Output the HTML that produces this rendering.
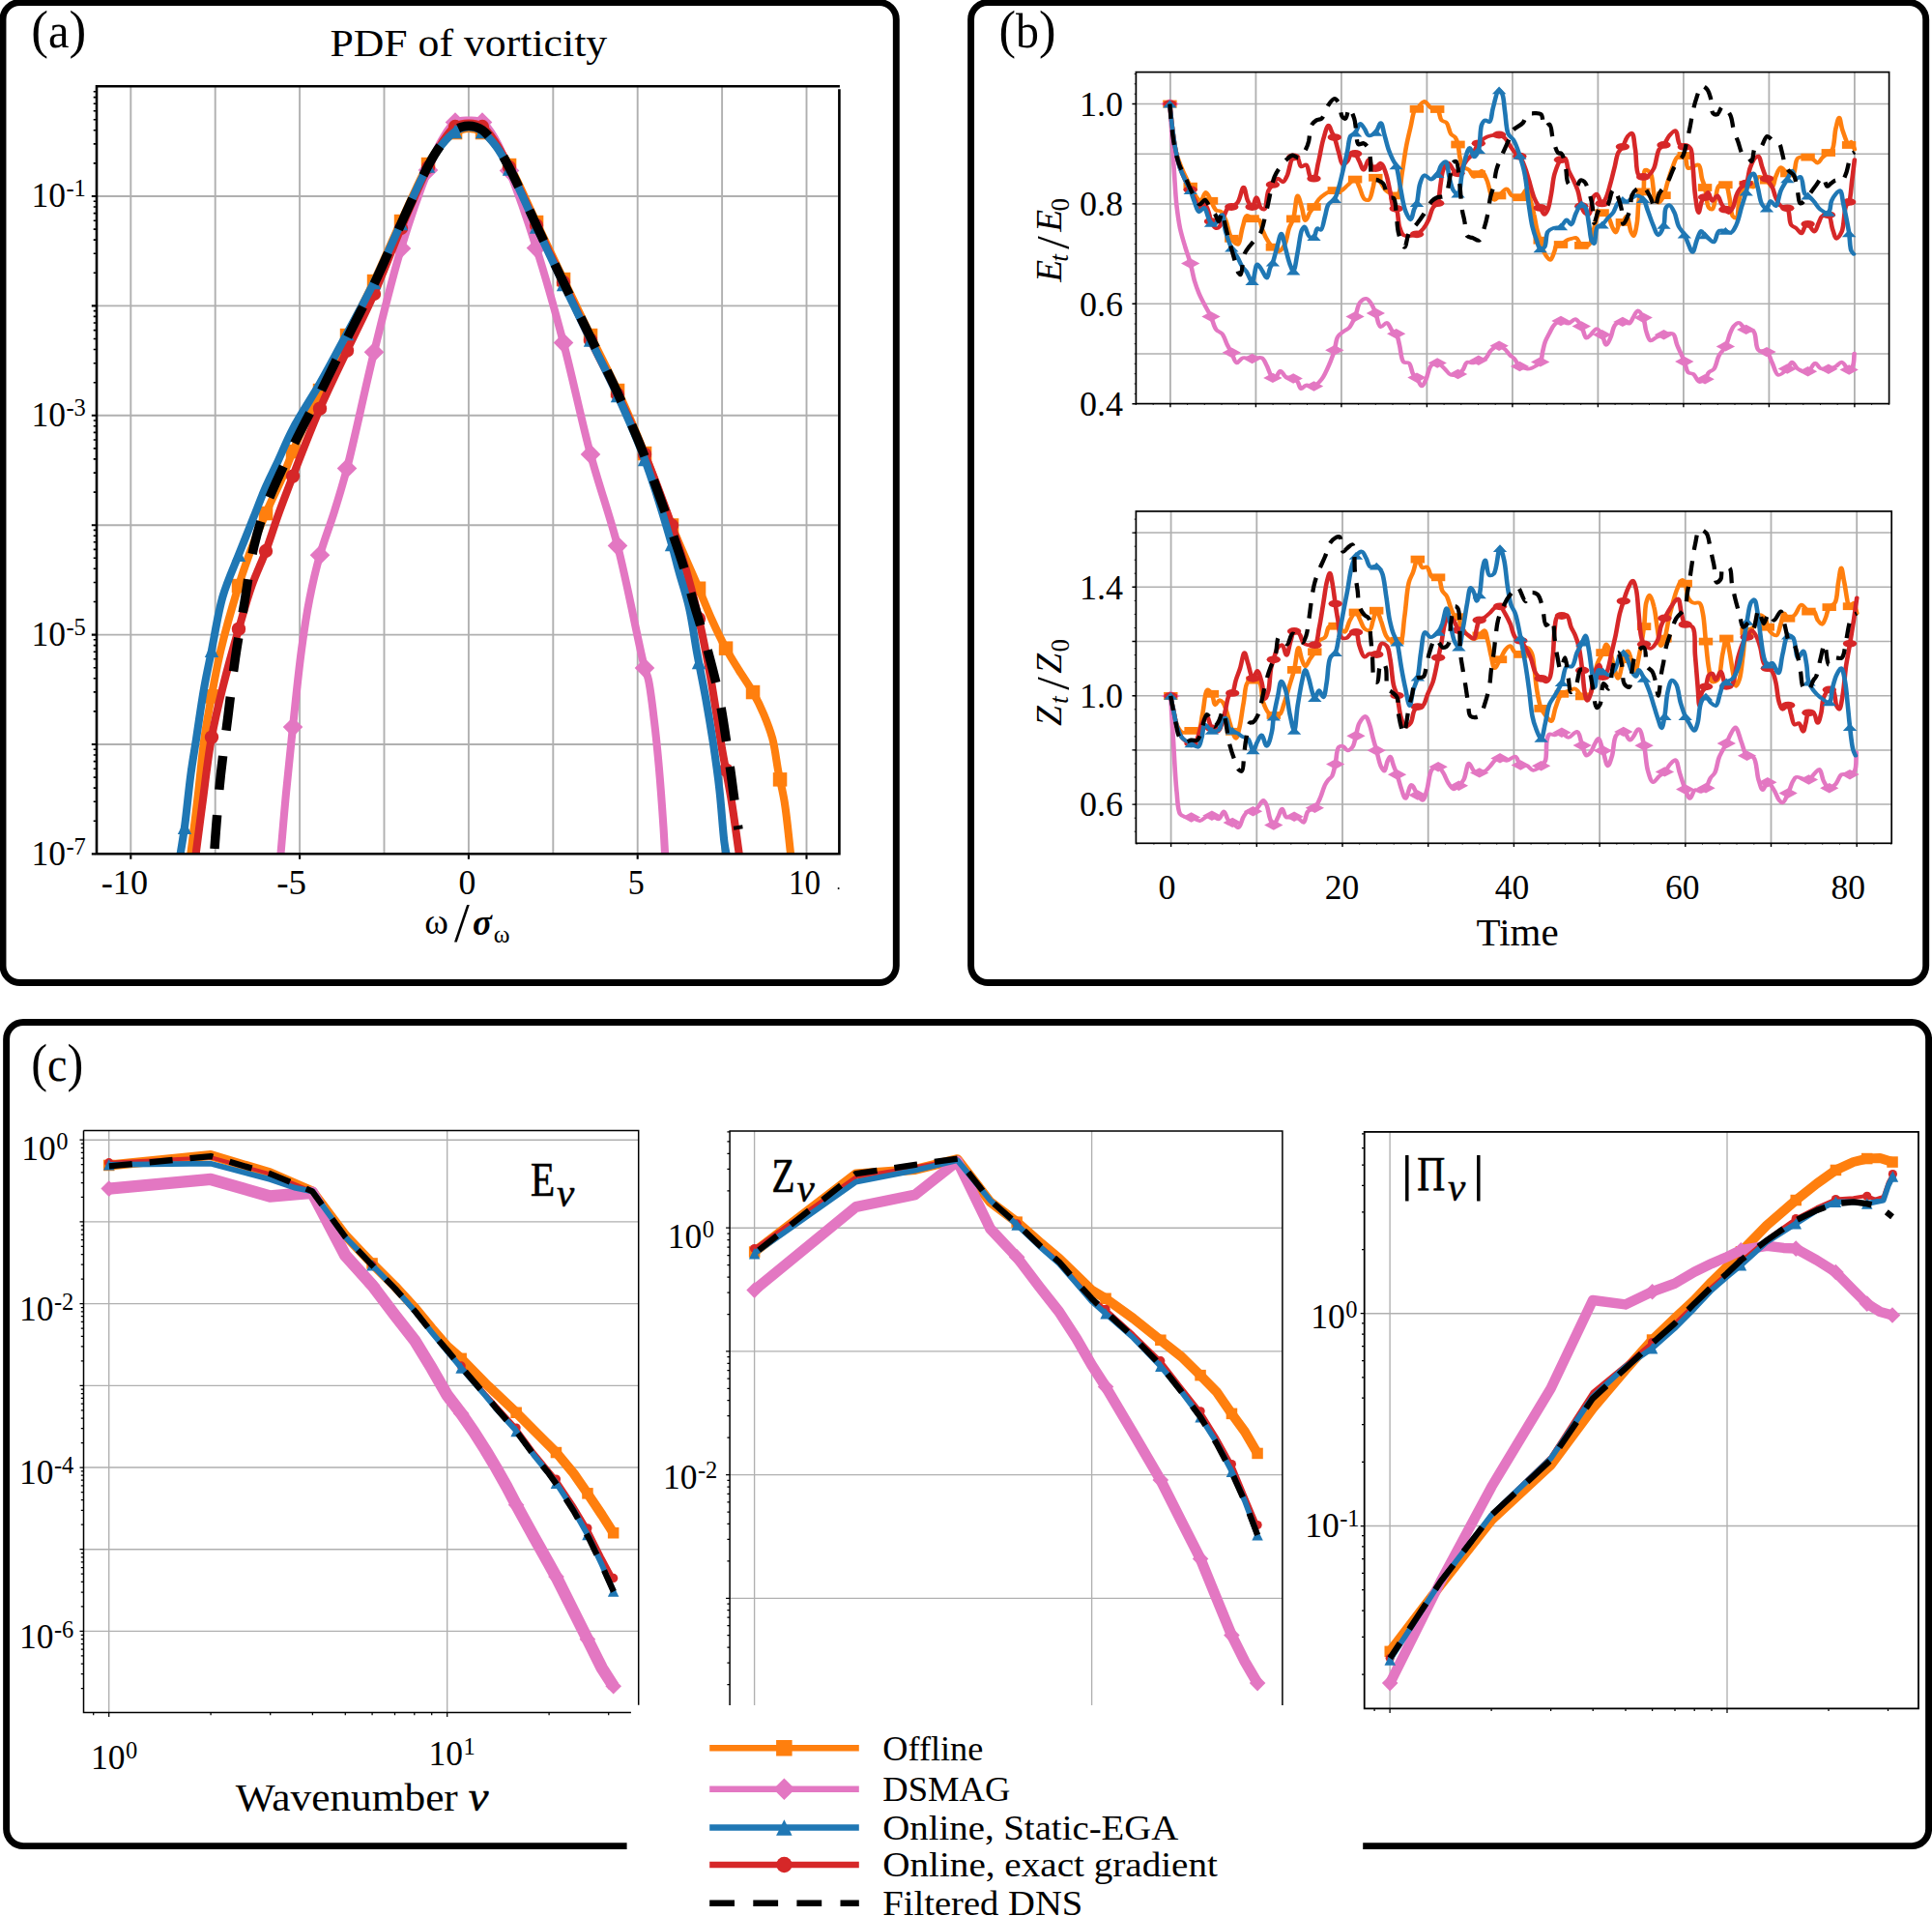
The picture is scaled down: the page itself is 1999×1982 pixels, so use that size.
<!DOCTYPE html>
<html lang="en"><head><meta charset="utf-8"><title>Figure</title>
<style>html,body{margin:0;padding:0;background:#fff}svg{display:block}text{font-family:'Liberation Serif','DejaVu Serif',serif;fill:#000}</style></head><body>
<svg width="1999" height="1982" viewBox="0 0 1999 1982">
<rect width="1999" height="1982" fill="#fff"/>
<rect x="3" y="2.5" width="924.3" height="1014" rx="17.5" ry="17.5" fill="none" stroke="#000" stroke-width="6.9"/>
<rect x="1004.6" y="2.5" width="988.1" height="1014" rx="17.5" ry="17.5" fill="none" stroke="#000" stroke-width="6.9"/>
<path d="M648.6 1909.6 H24.1 A17.5 17.5 0 0 1 6.6 1892.1 V1075 A17.5 17.5 0 0 1 24.1 1057.5 H1978.1 A17.5 17.5 0 0 1 1995.6 1075 V1892.1 A17.5 17.5 0 0 1 1978.1 1909.6 H1410.2" fill="none" stroke="#000" stroke-width="6.9"/>
<g id="panel-a">
<clipPath id="clipA"><rect x="100" y="89.3" width="768.4" height="793.9"/></clipPath>
<path d="M135.3 89.3 V883.2 M222.7 89.3 V883.2 M310.1 89.3 V883.2 M397.5 89.3 V883.2 M484.9 89.3 V883.2 M572.3 89.3 V883.2 M659.7 89.3 V883.2 M747.1 89.3 V883.2 M834.5 89.3 V883.2 M100 203 H866.9 M100 316.4 H866.9 M100 429.8 H866.9 M100 543.2 H866.9 M100 656.6 H866.9 M100 770 H866.9 M100 883.4 H866.9" stroke="#b0b0b0" stroke-width="1.9" fill="none"/>
<g clip-path="url(#clipA)" fill="none" stroke-linejoin="round" stroke-linecap="butt">
<path d="M196.5 890 C196.8 887.7 197 886.5 197.4 883 C198.7 872.7 202.6 842 204.9 822 C207.2 802.6 209 780.9 211.3 764.6 C213 752.3 214.4 744.8 216.6 732.5 C219.7 715.6 223.7 692.7 228.4 672.6 C233.3 652 240 628.7 245.5 610.5 C249.9 596.1 253.7 584.9 258.4 572 C263.3 558.8 268.7 545.5 274.4 532.4 C280.1 519.1 287.5 504.6 292.6 492.8 C296.7 483.3 298.6 477.4 303 467 C310 450.6 321.5 424.4 331 404 C340.1 384.4 349.6 365.9 359 347 C368.3 328.2 377.9 310.2 387 291 C396.5 271 405.6 249.4 415 229 C424.2 209 434.8 184.5 443 170 C448.1 161 451.9 154.7 457 149 C461.4 144.1 466 139.7 471 137 C475.4 134.6 480.3 133 485 133 C489.7 133 494.6 134.5 499 137 C504 139.8 508.6 144.8 513 150 C518 155.9 521.9 162 527 171 C535.2 185.5 545.7 210.3 555 230 C564.3 249.7 573.6 269.4 583 289 C592.3 308.4 601.6 327.8 611 347 C620.3 366.1 629.9 384.3 639 404 C648.6 424.8 657.9 446.5 667 469 C676.6 492.9 685.4 519.6 695 543.5 C704.1 566.1 715.3 590.7 723 608.8 C728.5 621.7 732.2 631.4 737 642 C741.5 652 746.1 661.6 751 670.6 C755.5 678.9 760.3 686.4 765 694 C769.6 701.5 774.8 708.5 779 716 C783.2 723.4 786.9 730.8 790.2 738.7 C793.6 746.8 796.7 754.6 799.2 763.8 C802 774.4 803.3 787.7 805.5 799 C807.5 809.5 809.8 817.9 811.7 829.5 C814.2 844.8 816.9 873.5 818 883 C818.4 886.4 818.5 887.7 818.8 890" stroke="#ff7f0e" stroke-width="8.1"/>
<rect x="211.8" y="713.1" width="14.5" height="14.5" fill="#ff7f0e"/>
<rect x="239.8" y="598.8" width="14.5" height="14.5" fill="#ff7f0e"/>
<rect x="267.8" y="523.8" width="14.5" height="14.5" fill="#ff7f0e"/>
<rect x="295.8" y="459.8" width="14.5" height="14.5" fill="#ff7f0e"/>
<rect x="323.8" y="396.8" width="14.5" height="14.5" fill="#ff7f0e"/>
<rect x="351.8" y="339.8" width="14.5" height="14.5" fill="#ff7f0e"/>
<rect x="379.8" y="283.8" width="14.5" height="14.5" fill="#ff7f0e"/>
<rect x="407.8" y="221.8" width="14.5" height="14.5" fill="#ff7f0e"/>
<rect x="435.8" y="162.8" width="14.5" height="14.5" fill="#ff7f0e"/>
<rect x="463.8" y="129.8" width="14.5" height="14.5" fill="#ff7f0e"/>
<rect x="491.8" y="129.8" width="14.5" height="14.5" fill="#ff7f0e"/>
<rect x="519.8" y="163.8" width="14.5" height="14.5" fill="#ff7f0e"/>
<rect x="547.8" y="222.8" width="14.5" height="14.5" fill="#ff7f0e"/>
<rect x="575.8" y="281.8" width="14.5" height="14.5" fill="#ff7f0e"/>
<rect x="603.8" y="339.8" width="14.5" height="14.5" fill="#ff7f0e"/>
<rect x="631.8" y="396.8" width="14.5" height="14.5" fill="#ff7f0e"/>
<rect x="659.8" y="461.8" width="14.5" height="14.5" fill="#ff7f0e"/>
<rect x="687.8" y="536.2" width="14.5" height="14.5" fill="#ff7f0e"/>
<rect x="715.8" y="601.5" width="14.5" height="14.5" fill="#ff7f0e"/>
<rect x="743.8" y="663.4" width="14.5" height="14.5" fill="#ff7f0e"/>
<rect x="771.8" y="708.8" width="14.5" height="14.5" fill="#ff7f0e"/>
<rect x="799.8" y="799.1" width="14.5" height="14.5" fill="#ff7f0e"/>
<path d="M289.9 890 C290.1 887.7 290.2 886.5 290.5 883 C291.4 872.8 293.8 843.5 295.8 822.4 C298 799.1 300.7 773.9 303.3 749.2 C306 723.9 308.8 695.8 311.9 672.6 C314.5 653.1 317 636 320.4 619 C323.5 603.3 326.8 589.1 331 574.2 C335.3 559.1 341.3 544.1 346 529 C350.6 514.2 354.1 503 359 484.5 C366.9 454.3 377.4 403.2 387 364.3 C396.1 327.5 405 290.1 415 257 C423.8 227.9 434.8 196.5 443 176 C448.1 163.1 451.8 153.8 457 145 C461.3 137.8 465.6 129.7 471 126.5 C475.2 124 480.3 124.5 485 124.5 C489.7 124.5 494.8 124 499 126.5 C504.4 129.7 508.7 137.7 513 145 C518.2 153.9 521.8 163.5 527 176.5 C535.1 197 546.1 228.4 555 256.6 C564.8 287.5 574 320.5 583 354.6 C592.7 391.4 601.2 433.5 611 469.9 C619.9 503.1 630.2 530.6 639 564.6 C649.1 603.5 661.7 671.4 667 691 C668.6 697 669.6 697.5 670.8 702.7 C673.1 712.6 675.2 731.7 677 746.6 C678.9 762 680.3 776.7 681.8 793.5 C683.5 812.8 685.4 839.5 686.5 856 C687.2 866.9 687.7 876.9 688 883 C688.2 886.1 688.3 887.7 688.4 890" stroke="#e377c2" stroke-width="8.1"/>
<path d="M292.7 752.1 L303 741.9 L313.3 752.1 L303 762.4Z" fill="#e377c2"/>
<path d="M320.7 574.2 L331 563.9 L341.3 574.2 L331 584.5Z" fill="#e377c2"/>
<path d="M348.7 484.5 L359 474.2 L369.3 484.5 L359 494.8Z" fill="#e377c2"/>
<path d="M376.7 364.3 L387 354 L397.3 364.3 L387 374.6Z" fill="#e377c2"/>
<path d="M404.7 257 L415 246.7 L425.3 257 L415 267.3Z" fill="#e377c2"/>
<path d="M432.7 176 L443 165.7 L453.3 176 L443 186.3Z" fill="#e377c2"/>
<path d="M460.7 126.5 L471 116.2 L481.3 126.5 L471 136.8Z" fill="#e377c2"/>
<path d="M488.7 126.5 L499 116.2 L509.3 126.5 L499 136.8Z" fill="#e377c2"/>
<path d="M516.7 176.5 L527 166.2 L537.3 176.5 L527 186.8Z" fill="#e377c2"/>
<path d="M544.7 256.6 L555 246.3 L565.3 256.6 L555 266.9Z" fill="#e377c2"/>
<path d="M572.7 354.6 L583 344.3 L593.3 354.6 L583 364.9Z" fill="#e377c2"/>
<path d="M600.7 469.9 L611 459.6 L621.3 469.9 L611 480.2Z" fill="#e377c2"/>
<path d="M628.7 564.6 L639 554.3 L649.3 564.6 L639 574.9Z" fill="#e377c2"/>
<path d="M656.7 691 L667 680.7 L677.3 691 L667 701.3Z" fill="#e377c2"/>
<path d="M201.8 890 C202.1 887.7 202.3 886.4 202.7 883 C203.9 873.9 206.8 851 209.2 833 C212.1 811.7 214.9 785 218.8 763.5 C222.2 744.7 226 729.1 230.5 711 C235.4 691.4 241.8 668.6 247.2 650 C251.8 634.1 255.6 619.9 260.5 606 C265.1 593 270.9 581.3 275.5 568.8 C280.1 556.4 283.8 544 288.3 531.4 C293 518.4 297.5 506.8 303.3 491.8 C311 471.9 321.4 444.8 331 422.7 C340 401.9 349.6 382.6 359 362.7 C368.3 343 377.9 324.4 387 304 C396.6 282.3 405.5 258.2 415 236 C424.2 214.5 434.9 189.1 443 173 C448.2 162.6 452 155.3 457 148 C461.4 141.6 465.7 134.3 471 131 C475.3 128.3 480.3 127.5 485 127.5 C489.7 127.5 494.7 128.3 499 131 C504.3 134.3 508.6 141.6 513 148 C518 155.3 521.7 162.8 527 173 C535 188.6 545.6 213.1 555 233 C564.3 252.8 573.7 272.3 583 292 C592.4 311.8 601.6 332.1 611 351.7 C620.2 370.8 629.8 388.7 639 408 C648.5 428.1 658 448.2 667 469.9 C676.7 493.2 687.3 521.7 695 543.5 C701 560.7 705.4 574.2 710 590 C714.7 606.3 719 622.5 723 640 C727.4 658.9 731.2 678.6 735 699.6 C739.2 722.8 742.9 750.3 746.8 773.2 C750.2 793.2 754 810.9 757 829.5 C759.9 847.5 763.3 873.5 764.7 883 C765.2 886.4 765.4 887.7 765.7 890" stroke="#d62728" stroke-width="8.1"/>
<ellipse cx="219" cy="762.6" rx="7.2" ry="7.2" fill="#d62728"/>
<ellipse cx="247" cy="650.7" rx="7.2" ry="7.2" fill="#d62728"/>
<ellipse cx="275" cy="570" rx="7.2" ry="7.2" fill="#d62728"/>
<ellipse cx="303" cy="492.6" rx="7.2" ry="7.2" fill="#d62728"/>
<ellipse cx="331" cy="422.7" rx="7.2" ry="7.2" fill="#d62728"/>
<ellipse cx="359" cy="362.7" rx="7.2" ry="7.2" fill="#d62728"/>
<ellipse cx="387" cy="304" rx="7.2" ry="7.2" fill="#d62728"/>
<ellipse cx="415" cy="236" rx="7.2" ry="7.2" fill="#d62728"/>
<ellipse cx="443" cy="173" rx="7.2" ry="7.2" fill="#d62728"/>
<ellipse cx="471" cy="131" rx="7.2" ry="7.2" fill="#d62728"/>
<ellipse cx="499" cy="131" rx="7.2" ry="7.2" fill="#d62728"/>
<ellipse cx="527" cy="173" rx="7.2" ry="7.2" fill="#d62728"/>
<ellipse cx="555" cy="233" rx="7.2" ry="7.2" fill="#d62728"/>
<ellipse cx="583" cy="292" rx="7.2" ry="7.2" fill="#d62728"/>
<ellipse cx="611" cy="351.7" rx="7.2" ry="7.2" fill="#d62728"/>
<ellipse cx="639" cy="408" rx="7.2" ry="7.2" fill="#d62728"/>
<ellipse cx="667" cy="469.9" rx="7.2" ry="7.2" fill="#d62728"/>
<ellipse cx="695" cy="543.5" rx="7.2" ry="7.2" fill="#d62728"/>
<ellipse cx="723" cy="640" rx="7.2" ry="7.2" fill="#d62728"/>
<ellipse cx="751" cy="796.4" rx="7.2" ry="7.2" fill="#d62728"/>
<path d="M185.6 890 C186 887.7 186.2 886.1 186.7 883 C187.7 876.9 189.5 866.3 191 855.6 C193.1 840.5 195.2 817.1 197.4 801 C199.1 788.2 200.7 779.5 202.7 766.7 C205.2 750.4 208.3 727.7 211.3 711 C213.7 697.3 216 687.4 218.8 673.7 C222.2 656.8 225.4 634.6 230.5 617 C235.2 600.9 242.1 586.3 247.7 572 C252.8 558.9 257.9 546.5 262.6 534.6 C266.9 523.8 270.8 513.2 275 503.6 C278.7 495.1 282.1 488.7 286.2 480 C291.3 469.2 296.3 456.3 303 443.6 C310.8 428.7 321.8 412.7 331 396.6 C340.5 379.9 349.7 362.3 359 345 C368.4 327.5 377.9 310.4 387 292 C396.6 272.5 405.6 251.2 415 231 C424.3 211 434.8 186.2 443 171.5 C448.1 162.3 452 156.2 457 150 C461.4 144.6 466.9 138.9 471 136 C473.6 134.2 475.6 133.2 478 132.5 C480.3 131.8 482.7 131.5 485 131.5 C487.3 131.5 489.7 131.8 492 132.5 C494.4 133.2 496.5 134.1 499 136 C503.1 139.1 508.6 145.2 513 151 C518.1 157.7 521.8 164.7 527 174.5 C535.1 189.7 545.7 214.5 555 234.5 C564.3 254.4 573.6 274.4 583 294 C592.3 313.4 601.7 332.3 611 351.5 C620.3 370.7 629.9 389.1 639 409 C648.6 430.1 658.2 451.2 667 475 C677 502 688.9 542 695 563 C698.3 574.5 699.4 580.2 702.1 590 C705.3 601.8 710 615.4 713.1 629 C716.4 643.5 718.2 659.1 721 674.5 C723.9 690.4 727.4 706.9 730.3 723 C733.1 738.8 735.7 754.3 738.1 770 C740.4 785.6 742.6 800.8 744.4 817 C746.4 834.4 747.9 859.5 749.4 871 C750.1 876.5 750.8 879.5 751.4 883 C751.8 885.6 752.1 887.7 752.5 890" stroke="#1f77b4" stroke-width="8.1"/>
<path d="M183.8 862.9 L198.2 862.9 L191 848.4Z" fill="#1f77b4"/>
<path d="M211.8 680 L226.2 680 L219 665.5Z" fill="#1f77b4"/>
<path d="M239.8 581.1 L254.2 581.1 L247 566.6Z" fill="#1f77b4"/>
<path d="M267.8 510.9 L282.2 510.9 L275 496.4Z" fill="#1f77b4"/>
<path d="M295.8 450.9 L310.2 450.9 L303 436.4Z" fill="#1f77b4"/>
<path d="M323.8 403.9 L338.2 403.9 L331 389.4Z" fill="#1f77b4"/>
<path d="M351.8 352.2 L366.2 352.2 L359 337.8Z" fill="#1f77b4"/>
<path d="M379.8 299.2 L394.2 299.2 L387 284.8Z" fill="#1f77b4"/>
<path d="M407.8 238.2 L422.2 238.2 L415 223.8Z" fill="#1f77b4"/>
<path d="M435.8 178.8 L450.2 178.8 L443 164.2Z" fill="#1f77b4"/>
<path d="M463.8 143.2 L478.2 143.2 L471 128.8Z" fill="#1f77b4"/>
<path d="M491.8 143.2 L506.2 143.2 L499 128.8Z" fill="#1f77b4"/>
<path d="M519.8 181.8 L534.2 181.8 L527 167.2Z" fill="#1f77b4"/>
<path d="M547.8 241.8 L562.2 241.8 L555 227.2Z" fill="#1f77b4"/>
<path d="M575.8 301.2 L590.2 301.2 L583 286.8Z" fill="#1f77b4"/>
<path d="M603.8 358.8 L618.2 358.8 L611 344.2Z" fill="#1f77b4"/>
<path d="M631.8 416.2 L646.2 416.2 L639 401.8Z" fill="#1f77b4"/>
<path d="M659.8 482.2 L674.2 482.2 L667 467.8Z" fill="#1f77b4"/>
<path d="M687.8 570.2 L702.2 570.2 L695 555.8Z" fill="#1f77b4"/>
<path d="M715.8 692.2 L730.2 692.2 L723 677.7Z" fill="#1f77b4"/>
<path d="M743.8 887.9 L758.2 887.9 L751 873.4Z" fill="#1f77b4"/>
<path d="M222 878 C222.8 867 223.5 856.8 224.5 845 C225.6 831.4 226.7 816.8 228.4 801 C230.4 782.5 233.4 761 235.9 741 C238.4 721 240.5 700.8 243.4 681 C246.2 661.5 249.8 642.2 253 623 C256.2 603.9 258.6 583.4 262.6 566 C266.1 551 269.4 539.5 275 524.5 C282 505.6 293.4 482.1 303 462 C312.1 443 321.7 425.5 331 407 C340.4 388.2 349.6 368.9 359 350 C368.3 331.2 377.9 313.3 387 294 C396.6 273.8 405.6 252.1 415 231.5 C424.3 211.3 434.9 186.5 443 171.5 C448.1 162 452 155.5 457 149 C461.4 143.4 466.9 137.4 471 134.5 C473.5 132.7 475.6 132 478 131.3 C480.3 130.6 482.7 130.3 485 130.3 C487.3 130.3 489.7 130.6 492 131.3 C494.4 132 496.5 132.7 499 134.5 C503.2 137.5 508.6 144 513 150 C518 156.8 521.8 163.8 527 173.6 C535 188.8 545.7 213.2 555 233 C564.3 252.7 573.6 272.5 583 292 C592.3 311.2 601.7 330 611 349 C620.3 368.1 629.9 386.6 639 406.5 C648.6 427.5 658 449.1 667 472 C676.7 496.6 687.5 527.8 695 549.5 C700.4 565.1 704.7 577.7 708.4 590 C711.5 600.2 713.1 607.2 716.2 618.2 C720.6 633.8 727.9 656.4 732.7 674.5 C737.2 691.2 741 705.9 744.4 723 C748.1 741.8 750.9 762.9 753.8 782.6 C756.6 802 759.7 826.8 761.6 840.5 C762.6 848 763.2 852.2 764 858" stroke="#000" stroke-width="9.5" stroke-dasharray="35 26.5" stroke-dashoffset="0"/>
</g>
<path d="M98.7 89.3 H868.9 M100 89.3 V884.5 M868.4 92.3 V884.5 M98.7 883.2 H869.7" stroke="#000" stroke-width="2.6" fill="none" stroke-linecap="butt"/>
<path d="M135.3 884.2 v4.5 M310.1 884.2 v4.5 M484.9 884.2 v4.5 M659.7 884.2 v4.5 M834.5 884.2 v4.5 M99 203 h-4.2 M99 316.4 h-4.2 M99 429.8 h-4.2 M99 543.2 h-4.2 M99 656.6 h-4.2 M99 770 h-4.2 M99 883.4 h-4.2" stroke="#000" stroke-width="2.1" fill="none"/>
<path d="M99 168.9 h-2.3 M99 148.9 h-2.3 M99 134.7 h-2.3 M99 123.7 h-2.3 M99 114.8 h-2.3 M99 107.2 h-2.3 M99 100.6 h-2.3 M99 94.8 h-2.3 M99 282.3 h-2.3 M99 262.3 h-2.3 M99 248.1 h-2.3 M99 237.1 h-2.3 M99 228.2 h-2.3 M99 220.6 h-2.3 M99 214 h-2.3 M99 208.2 h-2.3 M99 395.7 h-2.3 M99 375.7 h-2.3 M99 361.5 h-2.3 M99 350.5 h-2.3 M99 341.6 h-2.3 M99 334 h-2.3 M99 327.4 h-2.3 M99 321.6 h-2.3 M99 509.1 h-2.3 M99 489.1 h-2.3 M99 474.9 h-2.3 M99 463.9 h-2.3 M99 455 h-2.3 M99 447.4 h-2.3 M99 440.8 h-2.3 M99 435 h-2.3 M99 622.5 h-2.3 M99 602.5 h-2.3 M99 588.3 h-2.3 M99 577.3 h-2.3 M99 568.4 h-2.3 M99 560.8 h-2.3 M99 554.2 h-2.3 M99 548.4 h-2.3 M99 735.9 h-2.3 M99 715.9 h-2.3 M99 701.7 h-2.3 M99 690.7 h-2.3 M99 681.8 h-2.3 M99 674.2 h-2.3 M99 667.6 h-2.3 M99 661.8 h-2.3 M99 849.3 h-2.3 M99 829.3 h-2.3 M99 815.1 h-2.3 M99 804.1 h-2.3 M99 795.2 h-2.3 M99 787.6 h-2.3 M99 781 h-2.3 M99 775.2 h-2.3" stroke="#000" stroke-width="1.6" fill="none"/>
<text x="32.4" y="214.2" font-size="35.5">10<tspan font-size="24.5" dy="-10.8" dx="0.5">-1</tspan></text>
<text x="32.4" y="441" font-size="35.5">10<tspan font-size="24.5" dy="-10.8" dx="0.5">-3</tspan></text>
<text x="32.4" y="667.8" font-size="35.5">10<tspan font-size="24.5" dy="-10.8" dx="0.5">-5</tspan></text>
<text x="32.4" y="894.6" font-size="35.5">10<tspan font-size="24.5" dy="-10.8" dx="0.5">-7</tspan></text>
<text x="104.8" y="925.4" font-size="36" text-anchor="start" textLength="48.3" lengthAdjust="spacingAndGlyphs" >-10</text>
<text x="286.3" y="925.4" font-size="36" text-anchor="start" textLength="30.8" lengthAdjust="spacingAndGlyphs" >-5</text>
<text x="474.5" y="925.4" font-size="36" text-anchor="start" textLength="17.8" lengthAdjust="spacingAndGlyphs" >0</text>
<text x="649.7" y="925.4" font-size="36" text-anchor="start" textLength="17" lengthAdjust="spacingAndGlyphs" >5</text>
<text x="815.9" y="925.4" font-size="36" text-anchor="start" textLength="33.1" lengthAdjust="spacingAndGlyphs" >10</text>
<circle cx="867.6" cy="919" r="1" fill="#000"/>
<text x="341.4" y="57.6" font-size="40.5" text-anchor="start" textLength="286.8" lengthAdjust="spacingAndGlyphs" >PDF of vorticity</text>
<text x="32.3" y="49.2" font-size="50" textLength="57" lengthAdjust="spacingAndGlyphs"><tspan font-size="55">(</tspan>a<tspan font-size="55">)</tspan></text>
<text x="439.2" y="965.9" font-size="37.5">ω</text><text x="470" y="974.2" font-size="56.8">/</text><text x="489" y="966.5" font-size="37" font-style="italic" font-weight="bold">σ</text><text x="510.8" y="975" font-size="25.5">ω</text>
</g>
<g id="panel-b">
<path d="M1210.9 74.6 V417.6 M1299.4 74.6 V417.6 M1387.9 74.6 V417.6 M1476.4 74.6 V417.6 M1564.9 74.6 V417.6 M1653.4 74.6 V417.6 M1741.9 74.6 V417.6 M1830.4 74.6 V417.6 M1918.9 74.6 V417.6" stroke="#b0b0b0" stroke-width="1.8" fill="none"/>
<path d="M1175.4 366 H1954.6 M1175.4 314.3 H1954.6 M1175.4 262.6 H1954.6 M1175.4 210.9 H1954.6 M1175.4 159.2 H1954.6 M1175.4 107.5 H1954.6" stroke="#b0b0b0" stroke-width="1.5" fill="none"/>
<clipPath id="clipB1"><rect x="1175.4" y="74.6" width="779.2" height="343"/></clipPath>
<g clip-path="url(#clipB1)" fill="none" stroke-linejoin="round" stroke-linecap="round">
<g transform="scale(1.25,1)"><path d="M968.3 107.5 C969 116.1 969.6 124.9 970.5 133.2 C971.3 141.1 971.9 149.4 973.3 156.3 C974.4 162.2 976 167.4 977.6 172.3 C978.9 176.5 980.4 180.2 981.8 183.8 C983 187 984.1 189.7 985.4 192.7 C986.7 195.9 988 199.8 989.6 202.4 C990.9 204.6 992.6 207.9 993.9 207.8 C995.5 207.6 996.7 198.9 998.1 198.9 C999.6 198.9 1001 204.7 1002.4 207.8 C1003.8 210.9 1004.9 216 1006.7 217.5 C1007.7 218.4 1009.1 217.6 1010.2 218.4 C1012 219.8 1013.3 224 1014.5 227.3 C1015.8 231 1016.3 236 1017.3 239.7 C1018.1 242.7 1018.5 245.4 1019.7 247.7 C1020.9 249.8 1023.1 253.4 1024.4 253 C1026.5 252.5 1027.2 239.8 1028.7 234.4 C1029.8 230.1 1030.4 223.4 1032.2 222.9 C1033.4 222.5 1035.1 225.7 1036.8 226.4 C1038.4 227.1 1040.8 226.1 1042.2 227.3 C1044 229 1043.8 234.3 1045 237.9 C1046.3 242 1048.3 247.2 1050 250.4 C1051.1 252.6 1052.1 254.1 1053.5 255.7 C1054.9 257.3 1056.9 260.3 1058.5 260.1 C1060.3 259.9 1062.1 256.1 1063.4 253 C1065.3 248.7 1065.6 241 1067 236.2 C1068.1 232.4 1069.5 230.4 1070.5 226.4 C1072.1 220.2 1072.7 202.5 1074.1 202.4 C1075.1 202.4 1076.6 210.6 1077.6 214.9 C1078.7 219.2 1079.2 228.1 1080.5 228.2 C1081.5 228.3 1082.8 222.7 1084 220.2 C1085.2 218 1086.4 216.2 1087.6 214 C1089 211.5 1090.2 208.3 1091.8 206 C1093.3 203.9 1095.1 202.1 1096.8 200.7 C1098.2 199.5 1099.7 198.6 1101.1 198 C1102.3 197.5 1103.3 197.2 1104.6 197.1 C1106.1 197.1 1108 198.5 1109.6 198 C1111.6 197.3 1113.3 193.8 1115.3 191.8 C1117.3 189.7 1120 185.3 1121.7 185.6 C1123.3 185.9 1124 190.6 1125.2 193.6 C1126.6 197.2 1127.5 204.2 1129.5 206 C1130.5 206.9 1132 207.5 1133 206.9 C1134.9 205.8 1135.6 197.7 1136.6 193.6 C1137.4 190.1 1137.4 184.1 1138.7 183.8 C1139.7 183.6 1141.6 187.1 1142.9 189.1 C1144.5 191.5 1145.6 195.1 1147.2 197.1 C1148.5 198.7 1150 199.8 1151.5 200.7 C1152.8 201.5 1154.6 202.6 1155.7 202.4 C1156.6 202.3 1157.1 201.8 1157.7 200.7 C1159.3 197.6 1159.5 187 1160.5 179.4 C1161.7 170.6 1162.8 159.5 1164.1 151 C1165.2 143.9 1166.4 137.8 1167.6 131.5 C1168.8 125.4 1169.6 115.8 1171.2 113.7 C1171.7 113 1172.1 113.4 1172.7 112.8 C1174.2 111.5 1176.9 104.9 1179 104.8 C1180.9 104.8 1182.6 110.7 1184.7 111.9 C1186.2 112.9 1188.4 111.7 1189.8 112.8 C1191.8 114.6 1191.4 122 1193.2 124.4 C1194.3 125.9 1196.3 125.5 1197.4 127 C1199.2 129.4 1199.4 135.9 1201 138.6 C1202 140.3 1203.6 140.6 1204.5 142.1 C1205.7 144 1206.2 146.4 1206.8 149.2 C1207.6 153.1 1207.7 159.3 1208.5 163.4 C1209.2 166.7 1209.4 170.2 1210.9 172.3 C1212.1 174 1214.4 174.3 1215.9 175.8 C1217.6 177.7 1218.6 182.6 1220.1 182.9 C1221.3 183.2 1222.8 181.3 1223.8 180.3 C1224.9 179.2 1225.6 176.6 1226.5 176.7 C1227.9 176.9 1229.5 182.7 1230.8 186.5 C1232.5 191.5 1233.5 201 1235.1 204.2 C1235.7 205.6 1236.4 206.9 1237.2 206.9 C1238.2 206.9 1239.5 204.1 1240.9 202.4 C1242.7 200.3 1245.3 195.2 1247.1 195.4 C1248.8 195.5 1249.4 201 1251.4 202.4 C1253.1 203.8 1256 204.9 1257.9 204.2 C1260.4 203.3 1262.7 195.1 1264.2 195.4 C1265.8 195.7 1266.1 203.5 1267 207.8 C1268 212.3 1269 217.2 1269.8 222 C1270.7 226.7 1271.1 231.6 1272 236.2 C1272.8 240.5 1274.1 244.8 1274.9 248.6 C1275.7 251.8 1276.1 254.7 1276.9 257.5 C1277.7 260 1278.6 262.5 1279.8 264.6 C1280.8 266.3 1282.3 269.2 1283.3 269 C1284.7 268.8 1286 262 1286.9 259.2 C1287.5 257.2 1287.3 254.9 1288.3 253.9 C1289.1 253.1 1290.8 253.7 1292 253 C1293.6 252.2 1295.2 249.6 1296.8 248.6 C1298.2 247.7 1299.7 247.3 1301.1 246.8 C1302.3 246.4 1303.5 245.5 1304.6 245.9 C1306.3 246.7 1307.1 252.6 1309 253.9 C1310.4 254.9 1312.6 255.4 1313.8 254.8 C1315.2 254.2 1315.8 252.4 1316.7 250.4 C1318.2 246.5 1319 237.8 1320.2 232.6 C1321.2 228.6 1321.6 223.9 1323.1 222 C1323.9 220.9 1325 220.1 1326.1 220.2 C1327.5 220.3 1329.6 222 1330.9 223.7 C1332.7 226.2 1333.2 231.3 1334.4 234.4 C1335.4 236.8 1336.3 240.6 1337.3 240.6 C1338.4 240.6 1339.4 232.3 1340.8 230.8 C1341.5 230.1 1342.4 230.6 1343.1 230 C1344.3 228.9 1345.5 223.6 1346.5 223.7 C1348 224 1348.8 236.1 1350 239.7 C1350.7 241.7 1351.5 244.2 1352.2 244.2 C1353.3 244 1354.3 236.1 1355 230.8 C1356.1 223.5 1355.5 209.6 1357.1 204.2 C1357.9 201.7 1359.4 201.4 1360.1 198.9 C1361.6 194 1359.8 176.7 1361.9 175.8 C1363 175.4 1365 177.3 1366.2 179.4 C1368.9 184.1 1368 204.1 1370.5 207.8 C1371.3 209 1372.4 209.8 1373.3 209.5 C1374.7 209.2 1376.1 205.3 1377.1 202.4 C1378.6 198.6 1379.2 193.1 1380.4 188.3 C1381.7 183.1 1383.1 177 1384.7 172.3 C1386 168.3 1386.8 163.3 1388.9 161.6 C1390.3 160.5 1392.8 159.9 1394.2 160.7 C1396.3 162.2 1395.5 173.1 1397.4 174.1 C1398.6 174.6 1400.3 172.9 1401.7 172.3 C1403.1 171.7 1404.8 169.9 1405.9 170.5 C1407.9 171.5 1407.8 180.5 1408.8 184.7 C1409.6 188 1410.4 190 1411.2 193.6 C1412.4 199.1 1412.4 211.8 1414.5 214.9 C1415.3 216.1 1416.5 217 1417.3 216.6 C1418.8 216 1419.2 208.4 1420.1 204.2 C1421.1 200.1 1421 193.7 1423 191.8 C1424.3 190.6 1426.9 190 1428.2 190.9 C1430.4 192.3 1430.6 199.3 1431.5 204.2 C1432.6 210.1 1432.4 220.8 1434.3 223.7 C1435.1 224.9 1436.4 225.9 1437.2 225.5 C1439.2 224.6 1438.4 210.4 1440 204.2 C1441.3 199.2 1442.8 191.9 1445.3 190.9 C1447 190.2 1449.8 194.2 1451.4 193.6 C1453.5 192.7 1453.5 183.7 1455.6 182.9 C1457.4 182.3 1460.5 184.8 1462.3 186.5 C1464.3 188.3 1465.8 193.8 1467 193.6 C1468.4 193.3 1468.6 186.4 1469.8 182.9 C1471 179.6 1472.4 173.4 1474.1 173.2 C1475.6 172.9 1477.5 178 1479.3 179.4 C1480.8 180.4 1482.8 181.8 1484 181.2 C1486.5 179.9 1485.3 166 1488.3 163.4 C1490.3 161.6 1494.1 162.1 1496.4 162.5 C1498.2 162.9 1499.7 164.1 1501.1 165.2 C1502.4 166.2 1503.5 168.8 1504.6 168.7 C1505.9 168.6 1506.8 165.1 1508.2 163.4 C1509.7 161.6 1511.9 159.7 1513.4 158.1 C1514.6 156.8 1515.8 156.4 1516.7 154.5 C1518.5 150.6 1518.4 139.2 1519.5 133.2 C1520.4 128.8 1521.4 121.7 1522.4 121.7 C1523.3 121.7 1523.9 130.5 1525.2 135 C1526.6 139.9 1529.1 150 1530.5 150.1 C1531.2 150.1 1531.7 146.5 1532.3 146.5 C1533.2 146.6 1534.2 151.9 1535.1 154.5" stroke="#ff7f0e" stroke-width="3.7"/></g>
<rect x="1203.2" y="103.6" width="14.4" height="7.8" fill="#ff7f0e"/>
<rect x="1224.5" y="188.8" width="14.4" height="7.8" fill="#ff7f0e"/>
<rect x="1245.8" y="203.9" width="14.4" height="7.8" fill="#ff7f0e"/>
<rect x="1267.1" y="242.9" width="14.4" height="7.8" fill="#ff7f0e"/>
<rect x="1288.4" y="222.3" width="14.4" height="7.8" fill="#ff7f0e"/>
<rect x="1309.7" y="251.8" width="14.4" height="7.8" fill="#ff7f0e"/>
<rect x="1331" y="222.5" width="14.4" height="7.8" fill="#ff7f0e"/>
<rect x="1352.3" y="210.1" width="14.4" height="7.8" fill="#ff7f0e"/>
<rect x="1373.6" y="193.2" width="14.4" height="7.8" fill="#ff7f0e"/>
<rect x="1394.9" y="181.7" width="14.4" height="7.8" fill="#ff7f0e"/>
<rect x="1416.1" y="179.9" width="14.4" height="7.8" fill="#ff7f0e"/>
<rect x="1437.4" y="198.5" width="14.4" height="7.8" fill="#ff7f0e"/>
<rect x="1458.7" y="108.9" width="14.4" height="7.8" fill="#ff7f0e"/>
<rect x="1480" y="109.1" width="14.4" height="7.8" fill="#ff7f0e"/>
<rect x="1501.3" y="145.6" width="14.4" height="7.8" fill="#ff7f0e"/>
<rect x="1522.6" y="176.3" width="14.4" height="7.8" fill="#ff7f0e"/>
<rect x="1543.9" y="198.5" width="14.4" height="7.8" fill="#ff7f0e"/>
<rect x="1565.2" y="200.3" width="14.4" height="7.8" fill="#ff7f0e"/>
<rect x="1586.5" y="244.8" width="14.4" height="7.8" fill="#ff7f0e"/>
<rect x="1607.8" y="249.1" width="14.4" height="7.8" fill="#ff7f0e"/>
<rect x="1629.1" y="250" width="14.4" height="7.8" fill="#ff7f0e"/>
<rect x="1650.4" y="216.3" width="14.4" height="7.8" fill="#ff7f0e"/>
<rect x="1671.7" y="226" width="14.4" height="7.8" fill="#ff7f0e"/>
<rect x="1693" y="194.5" width="14.4" height="7.8" fill="#ff7f0e"/>
<rect x="1714.3" y="198.2" width="14.4" height="7.8" fill="#ff7f0e"/>
<rect x="1735.6" y="157.1" width="14.4" height="7.8" fill="#ff7f0e"/>
<rect x="1756.9" y="190.1" width="14.4" height="7.8" fill="#ff7f0e"/>
<rect x="1778.2" y="187.3" width="14.4" height="7.8" fill="#ff7f0e"/>
<rect x="1799.5" y="187" width="14.4" height="7.8" fill="#ff7f0e"/>
<rect x="1820.8" y="182.7" width="14.4" height="7.8" fill="#ff7f0e"/>
<rect x="1842.1" y="175.5" width="14.4" height="7.8" fill="#ff7f0e"/>
<rect x="1863.4" y="158.7" width="14.4" height="7.8" fill="#ff7f0e"/>
<rect x="1884.6" y="154.1" width="14.4" height="7.8" fill="#ff7f0e"/>
<rect x="1905.9" y="146.1" width="14.4" height="7.8" fill="#ff7f0e"/>
<g transform="scale(1.25,1)"><path d="M968.3 107.5 C968.8 116.1 969.2 123.5 969.7 133.2 C970.4 146 971.1 163.6 971.9 177.6 C972.6 190.1 973 202.5 974 213.1 C974.8 221.6 975.6 228.8 976.8 236.2 C978 243 979.6 249.4 981.1 255.7 C982.5 261.5 984.1 266.8 985.4 272.5 C986.7 278.6 987.6 285.6 988.9 291.2 C990 295.8 991.1 299.5 992.5 303.6 C993.9 307.8 995.7 312 997.4 316 C999.1 320 1000.9 323.5 1002.4 327.6 C1004 331.8 1004.7 337.8 1006.7 340.9 C1008 343 1010.2 343.3 1011.6 345.3 C1013.5 348.1 1014.5 353.4 1015.9 356.8 C1017.1 359.8 1018.2 362 1019.4 364.8 C1020.8 368.1 1021.9 375.1 1023.7 375.5 C1025.1 375.7 1026.6 370.9 1028.7 370.2 C1030.8 369.4 1033.9 371 1036.5 371 C1039.1 371 1042.3 369.1 1044.3 370.2 C1046.4 371.3 1047.2 375.1 1048.5 378.1 C1050.2 381.9 1051.6 390.1 1053.5 390.9 C1054.4 391.3 1055.5 390.5 1056.3 389.7 C1057.7 388.5 1058.6 383.5 1059.9 383.5 C1061.2 383.4 1062.3 388.3 1064.2 389.7 C1065.9 390.9 1068.8 390.4 1070.5 391.4 C1072 392.3 1073.1 393.5 1074.1 395 C1075.3 396.9 1075.6 401.8 1076.9 402.1 C1078.1 402.4 1079.5 399 1081.2 398.5 C1083 398 1085.6 400.1 1087.6 399.4 C1090 398.6 1092 395.5 1094 392.3 C1096.7 387.9 1099.2 380 1101.1 374.6 C1102.6 370.1 1103.6 366.5 1104.6 362.2 C1105.7 357.6 1105.7 351.4 1107.5 348 C1108.7 345.5 1110.8 344.2 1112.4 342.6 C1113.9 341.3 1115.4 340.8 1116.7 339.1 C1118.6 336.5 1120.2 331.7 1121.7 327.6 C1123.3 322.9 1123.7 315.6 1125.9 312.5 C1127.3 310.5 1129.4 308.7 1130.9 308.9 C1132.5 309.1 1133.9 312.1 1135.1 314.3 C1136.6 316.9 1137.5 320.4 1138.7 324 C1140.1 328.3 1140.9 337.6 1142.9 338.2 C1144.3 338.6 1146.5 333.5 1147.9 333.8 C1149.6 334.1 1150.7 339.7 1152.2 341.8 C1153.3 343.3 1154.8 343.6 1155.7 345.3 C1157.2 347.9 1157.5 352.6 1158.4 356.8 C1159.5 362.1 1159.6 372.2 1161.9 374.6 C1163.1 375.7 1165 374.4 1166.2 375.5 C1168.1 377.2 1168.3 384.4 1169.7 387 C1170.6 388.7 1171.8 389 1172.7 390.6 C1174.1 392.8 1175.5 399.4 1176.8 399.4 C1178.1 399.4 1179.3 395.2 1180.4 392.3 C1181.9 388.5 1182.4 380.8 1184.7 378.1 C1186 376.5 1188.1 375.2 1189.8 375.5 C1191.9 375.8 1194.1 379.6 1196 381.7 C1197.8 383.7 1199 387.1 1201 387.9 C1202.7 388.6 1205.2 387.9 1206.8 387 C1208.5 386.1 1209.7 384.4 1210.9 382.6 C1212.4 380.4 1212.7 375.5 1214.5 374.6 C1215.8 373.9 1217.9 375.8 1219.4 375.5 C1221 375.2 1222.2 373.5 1223.8 372.8 C1225.5 372 1227.8 372.3 1229.4 371 C1231.5 369.3 1232.3 364.4 1234.3 362.2 C1236.2 360.2 1238.9 357.7 1240.9 357.7 C1242.6 357.8 1244.3 359.8 1245.7 361.3 C1247.3 363 1248.5 365.8 1250 367.5 C1251.1 368.9 1252.4 369.5 1253.5 371 C1255 373.1 1255.9 377.2 1257.9 379 C1259.6 380.6 1262.3 381.5 1264.2 381.7 C1265.5 381.8 1266.4 381.5 1267.7 380.8 C1269.8 379.7 1273.4 377.3 1274.9 374.6 C1276.6 371.7 1276.2 367.5 1276.9 363.9 C1277.6 360.4 1278.1 356.6 1279.1 353.3 C1280 350.2 1281.3 347.4 1282.6 344.4 C1283.9 341.4 1285 337.7 1286.9 335.5 C1288.3 333.8 1290.1 332.2 1292 332 C1293.9 331.8 1296.3 334.9 1298.2 334.7 C1300.2 334.4 1302.2 330 1303.9 330.2 C1305.8 330.5 1307.6 334.5 1309 337.3 C1310.8 340.8 1311.4 349.3 1313.1 349.7 C1314.2 350 1315.4 347.6 1316.7 346.2 C1318.2 344.4 1320.1 339.9 1321.7 340 C1323.2 340 1324.8 343.7 1326.1 346.2 C1327.5 349.2 1328.2 356.7 1329.5 356.8 C1330.5 356.9 1331.9 352.6 1333 349.7 C1334.5 345.9 1334.9 338.2 1337.3 335.5 C1338.8 333.8 1341.2 333 1343.1 332.9 C1344.9 332.8 1347.2 335.3 1348.6 334.7 C1350.3 333.9 1351 329.8 1352.2 327.6 C1353.3 325.4 1354.5 321.4 1355.7 321.3 C1357.1 321.3 1359 325.5 1360.1 328.4 C1361.6 332.3 1361.5 338.4 1362.6 342.6 C1363.6 346.2 1364.5 351.9 1366.2 352.4 C1367.5 352.8 1369.4 349.9 1371.2 348.9 C1373 347.8 1375 346.8 1377.1 346.2 C1379.4 345.6 1382.8 344.1 1384.7 345.3 C1386.9 346.8 1386.8 352.6 1388.2 356.8 C1389.9 361.9 1392.5 368.6 1394.2 373.7 C1395.5 377.9 1395.6 383.2 1397.4 385.2 C1398.6 386.5 1400.4 385.9 1401.7 387 C1403.6 388.6 1404.8 394.5 1406.7 395 C1408.1 395.3 1410 393.7 1411.2 392.3 C1412.7 390.7 1413.1 387.1 1414.5 385.2 C1415.7 383.7 1417.5 383.5 1418.7 381.7 C1420.7 378.7 1421.2 371.6 1423 367.5 C1424.5 364.1 1426.8 362 1428.2 358.6 C1430 354.5 1430.9 348.3 1432.2 344.4 C1433.2 341.6 1433.7 339.2 1435.1 337.3 C1436.2 335.8 1437.8 333.6 1439.3 333.8 C1441.2 333.9 1443 339.4 1445.3 340.9 C1447.1 342.1 1449.8 340.9 1451.4 342.6 C1454.2 345.7 1452.7 359.1 1455.6 362.2 C1457.3 364 1460.5 362.4 1462.3 363.9 C1464.7 366 1465.4 371.6 1467 375.5 C1468.6 379.5 1469.6 387.3 1472 387.9 C1473.9 388.4 1477.4 384 1479.3 381.7 C1481.1 379.5 1481.9 374.7 1483.3 374.6 C1484.8 374.5 1486.1 380.1 1488.3 381.7 C1490.5 383.3 1494.1 385.1 1496.4 384.3 C1498.9 383.5 1500.6 375.5 1502.5 375.5 C1504 375.4 1504.9 379.8 1506.7 380.8 C1508.6 381.8 1511.3 382 1513.4 381.7 C1515.5 381.4 1517.7 380.2 1519.5 379 C1521.4 377.8 1522.9 374.4 1524.5 374.6 C1526.5 374.8 1528.8 382.6 1530.5 382.6 C1531.7 382.6 1533 380.1 1533.7 378.1 C1534.9 375.1 1534.5 369.9 1534.9 365.7" stroke="#e377c2" stroke-width="3.7"/></g>
<path d="M1200.7 107.5 L1210.4 102.3 L1220.1 107.5 L1210.4 112.7Z" fill="#e377c2"/>
<path d="M1222 272.5 L1231.7 267.3 L1241.4 272.5 L1231.7 277.8Z" fill="#e377c2"/>
<path d="M1243.3 327.6 L1253 322.3 L1262.7 327.6 L1253 332.8Z" fill="#e377c2"/>
<path d="M1264.6 364.8 L1274.3 359.6 L1284 364.8 L1274.3 370.1Z" fill="#e377c2"/>
<path d="M1285.9 371 L1295.6 365.8 L1305.3 371 L1295.6 376.3Z" fill="#e377c2"/>
<path d="M1307.2 390.9 L1316.9 385.7 L1326.6 390.9 L1316.9 396.1Z" fill="#e377c2"/>
<path d="M1328.5 391.4 L1338.2 386.2 L1347.9 391.4 L1338.2 396.7Z" fill="#e377c2"/>
<path d="M1349.8 399.4 L1359.5 394.2 L1369.2 399.4 L1359.5 404.7Z" fill="#e377c2"/>
<path d="M1371.1 362.2 L1380.8 356.9 L1390.5 362.2 L1380.8 367.4Z" fill="#e377c2"/>
<path d="M1392.4 327.6 L1402.1 322.3 L1411.7 327.6 L1402.1 332.8Z" fill="#e377c2"/>
<path d="M1413.7 324 L1423.4 318.8 L1433 324 L1423.4 329.2Z" fill="#e377c2"/>
<path d="M1435 345.3 L1444.7 340.1 L1454.3 345.3 L1444.7 350.5Z" fill="#e377c2"/>
<path d="M1456.3 390.6 L1466 385.4 L1475.6 390.6 L1466 395.9Z" fill="#e377c2"/>
<path d="M1477.6 375.5 L1487.2 370.3 L1496.9 375.5 L1487.2 380.7Z" fill="#e377c2"/>
<path d="M1498.9 387 L1508.5 381.7 L1518.2 387 L1508.5 392.2Z" fill="#e377c2"/>
<path d="M1520.2 372.8 L1529.8 367.6 L1539.5 372.8 L1529.8 378Z" fill="#e377c2"/>
<path d="M1541.5 357.8 L1551.1 352.5 L1560.8 357.8 L1551.1 363Z" fill="#e377c2"/>
<path d="M1562.8 379 L1572.4 373.8 L1582.1 379 L1572.4 384.3Z" fill="#e377c2"/>
<path d="M1584 374.4 L1593.7 369.2 L1603.4 374.4 L1593.7 379.6Z" fill="#e377c2"/>
<path d="M1605.3 332 L1615 326.8 L1624.7 332 L1615 337.2Z" fill="#e377c2"/>
<path d="M1626.6 337.4 L1636.3 332.2 L1646 337.4 L1636.3 342.7Z" fill="#e377c2"/>
<path d="M1647.9 346.3 L1657.6 341.1 L1667.3 346.3 L1657.6 351.5Z" fill="#e377c2"/>
<path d="M1669.2 332.9 L1678.9 327.7 L1688.6 332.9 L1678.9 338.1Z" fill="#e377c2"/>
<path d="M1690.5 328.6 L1700.2 323.4 L1709.9 328.6 L1700.2 333.9Z" fill="#e377c2"/>
<path d="M1711.8 346.2 L1721.5 341 L1731.2 346.2 L1721.5 351.4Z" fill="#e377c2"/>
<path d="M1733.1 374 L1742.8 368.7 L1752.5 374 L1742.8 379.2Z" fill="#e377c2"/>
<path d="M1754.4 392.2 L1764.1 386.9 L1773.8 392.2 L1764.1 397.4Z" fill="#e377c2"/>
<path d="M1775.7 358.4 L1785.4 353.1 L1795.1 358.4 L1785.4 363.6Z" fill="#e377c2"/>
<path d="M1797 340.9 L1806.7 335.7 L1816.4 340.9 L1806.7 346.1Z" fill="#e377c2"/>
<path d="M1818.3 364.1 L1828 358.9 L1837.7 364.1 L1828 369.3Z" fill="#e377c2"/>
<path d="M1839.6 381.6 L1849.3 376.3 L1859 381.6 L1849.3 386.8Z" fill="#e377c2"/>
<path d="M1860.9 384.2 L1870.6 379 L1880.2 384.2 L1870.6 389.5Z" fill="#e377c2"/>
<path d="M1882.2 381.7 L1891.9 376.4 L1901.5 381.7 L1891.9 386.9Z" fill="#e377c2"/>
<path d="M1903.5 382.5 L1913.2 377.2 L1922.8 382.5 L1913.2 387.7Z" fill="#e377c2"/>
<g transform="scale(1.25,1)"><path d="M968.3 107.5 C969 116.1 969.6 124.9 970.5 133.2 C971.3 141.1 972.1 149.1 973.3 156.3 C974.3 162.6 975.4 168.7 976.8 174.1 C978.1 178.6 979.6 182.6 981.1 186.5 C982.5 190 984 192.8 985.4 196.2 C986.8 199.9 988.2 204.3 989.6 207.8 C990.8 210.7 991.7 215.5 993.2 215.8 C994.4 216 996.2 211.1 997.4 211.3 C999 211.7 1000.1 218.8 1001 222 C1001.7 224.6 1001.5 226.8 1002.4 229.1 C1003.3 231.5 1005.2 235.8 1006.7 236.2 C1007.6 236.4 1008.7 235.5 1009.5 234.4 C1011 232.4 1011.8 227.1 1013 223.7 C1014.2 220.6 1015.1 216.3 1016.6 214.9 C1017.4 214.1 1018.4 214.6 1019.4 214 C1020.9 213.1 1023 211.8 1024.4 209.5 C1026.7 206.1 1027.9 193.5 1029.4 193.6 C1030.7 193.6 1031.4 204.1 1032.9 207.8 C1034 210.4 1035.4 214.1 1036.5 214 C1037.8 213.9 1038.9 204.2 1040 204.2 C1041.2 204.2 1042 212.9 1043.6 214.9 C1044.4 215.9 1045.6 217 1046.4 216.6 C1048.4 215.8 1048.3 201.7 1050 197.1 C1051 194.4 1052.2 193 1053.5 190.9 C1054.8 188.8 1056.2 184.9 1057.8 184.7 C1059.1 184.5 1060.8 188.5 1062 188.3 C1063.5 187.9 1064.4 184.2 1065.6 181.2 C1067.3 176.5 1068.2 163.9 1070.5 162.5 C1071.6 161.9 1073.1 162.5 1074.1 163.4 C1075.6 164.8 1075.4 171.6 1076.9 172.3 C1078 172.8 1080 170 1081.2 170.5 C1083.1 171.4 1083.1 180.8 1084.7 182.9 C1085.6 184 1086.8 185 1087.6 184.7 C1089.4 183.9 1090 174.7 1091.1 168.7 C1092.6 161.4 1093.7 151 1095.4 143.9 C1096.7 138.5 1098.3 129.8 1099.6 129.7 C1100.6 129.6 1101.6 134.6 1102.5 136.8 C1103.2 138.7 1103.9 139.8 1104.6 142.1 C1105.8 146 1106.9 153.1 1108.2 158.1 C1109.3 162.5 1110.1 170.1 1111.7 170.5 C1112.7 170.8 1114.2 168.5 1115.3 167 C1116.7 164.8 1117.3 158.8 1118.8 158.1 C1119.7 157.7 1120.8 158.2 1121.7 159 C1123.1 160.3 1124 164.2 1125.2 167 C1126.4 169.8 1127.5 175.8 1128.8 175.8 C1130.1 175.8 1131.7 165.1 1133 165.2 C1134.3 165.2 1135.2 175.4 1136.6 175.8 C1137.2 176 1137.9 174.9 1138.7 174.1 C1139.9 172.8 1141.7 168.5 1142.9 168.7 C1144.6 169 1146 175.2 1147.2 179.4 C1148.8 184.8 1149.6 192.7 1150.8 198.9 C1151.8 204.5 1152 212.8 1153.6 214.9 C1154.2 215.6 1155.1 215 1155.7 215.8 C1157.5 218 1157 229.4 1158.4 234.4 C1159.3 238 1160.1 241.8 1161.9 243.3 C1163.3 244.3 1165.2 244.3 1166.9 244.2 C1168.8 244 1171 243.5 1172.7 242.4 C1174.8 241.1 1176.7 238.5 1178.3 236.2 C1180 233.6 1181.3 230.6 1182.5 227.3 C1183.9 223.6 1184.5 217.9 1186.1 214.9 C1187.1 212.9 1188.8 212.6 1189.8 210.4 C1191.6 206.3 1191.6 196.2 1192.5 190 C1193.2 184.9 1193.2 179.6 1194.6 175.8 C1195.6 172.9 1197.4 168.7 1198.9 168.7 C1200.3 168.7 1201.6 173.9 1203.1 175.8 C1204.3 177.3 1205.6 179.5 1206.8 179.4 C1208.3 179.2 1209.6 174.7 1210.9 172.3 C1212.2 169.9 1213.1 167.3 1214.5 165.2 C1215.7 163.2 1217.4 162.1 1218.7 159.9 C1220.6 156.8 1221.9 151.3 1223.8 148.3 C1225.3 146.1 1226.8 144.3 1228.7 143 C1230.4 141.7 1232.3 140.9 1234.3 140.3 C1236.4 139.7 1238.9 139 1240.9 139.4 C1242.7 139.9 1244.3 141.4 1245.7 143 C1247.4 145 1248.5 148.4 1250 151 C1251.3 153.4 1252.7 156.2 1254.2 158.1 C1255.4 159.6 1256.8 160 1257.9 161.6 C1259.6 164.1 1260.8 168.4 1262 172.3 C1263.4 176.6 1264.4 181.5 1265.6 186.5 C1266.9 192.1 1268.4 199.7 1269.8 204.2 C1270.8 207.2 1271.7 209.4 1272.7 211.3 C1273.4 212.7 1274.2 213.5 1274.9 214.9 C1276 216.8 1277.2 221.9 1278.4 222 C1279.3 222 1280.4 219 1281.2 216.6 C1282.5 212.8 1283.1 206.4 1284 200.7 C1285.1 194.1 1285.3 185.7 1286.9 179.4 C1288.2 174.1 1289.9 167.5 1292 165.2 C1293 164 1294.5 163 1295.4 163.4 C1297.1 164.2 1297 171.9 1298.2 175.8 C1299.4 179.6 1301.2 182.9 1302.5 186.5 C1303.8 190 1305 193.2 1306 197.1 C1307.3 201.9 1307.8 208.9 1309 213.1 C1309.8 216 1310.4 218.7 1311.7 220.2 C1312.7 221.3 1314.3 222.5 1315.3 222 C1317.4 220.9 1317.2 207.8 1318.8 204.2 C1319.6 202.4 1320.7 200.6 1321.7 200.7 C1323.1 200.9 1324.6 210.4 1326.1 210.4 C1327.2 210.5 1328.5 206.8 1329.5 204.2 C1330.9 200.5 1331.9 195 1333 190 C1334.3 184.5 1335.4 177.9 1336.6 172.3 C1337.6 167.3 1338 161.8 1339.4 158.1 C1340.4 155.5 1341.9 154.3 1343.1 151.9 C1344.6 148.9 1345.6 143.7 1347.2 141.2 C1348.3 139.6 1349.8 137.4 1350.8 137.7 C1352.5 138.2 1352.7 148.3 1353.6 154.5 C1354.7 162.4 1353.9 177.6 1356.4 181.2 C1357.4 182.6 1358.8 182.9 1360.1 182.9 C1361.6 183 1363.4 182.3 1364.8 181.2 C1366.5 179.7 1367.8 177.1 1369 174.1 C1370.9 169.3 1371.3 158.6 1373.3 154.5 C1374.4 152.3 1375.9 152 1377.1 150.1 C1378.8 147.6 1380 143 1381.8 140.3 C1383.3 138.2 1385.5 134.7 1386.8 135 C1388.6 135.5 1388.5 146.5 1390.3 149.2 C1391.4 150.7 1392.8 151.3 1394.2 151.9 C1395.6 152.5 1397.7 151.5 1398.9 152.8 C1401 155 1400.4 162.5 1401 168.7 C1401.9 177.5 1402.1 191.3 1403.1 200.7 C1403.9 208 1404.9 220.2 1405.9 220.2 C1406.8 220.2 1407.6 210.6 1408.8 207.8 C1409.5 206.1 1410.4 205.6 1411.2 204.2 C1412.1 202.7 1412.9 198.9 1413.8 198.9 C1414.9 198.9 1415.9 207.6 1417.3 207.8 C1418.5 208 1420.3 202.3 1421.6 202.4 C1423 202.7 1423.9 208.8 1425.1 211.3 C1426.1 213.4 1427.2 215.1 1428.2 216.6 C1429.1 218 1429.9 220.2 1430.8 220.2 C1431.9 220.2 1433.4 217.1 1434.3 214.9 C1435.7 211.7 1436.1 206 1437.2 202.4 C1438 199.7 1438.7 197.4 1440 195.4 C1441.4 193.3 1443.9 192.5 1445.3 190 C1447.3 186.3 1447.1 178.8 1448.5 174.1 C1449.7 170.1 1451.2 165.4 1452.8 163.4 C1453.7 162.4 1454.8 161.3 1455.6 161.6 C1457.1 162.2 1457.4 168.6 1458.5 172.3 C1459.6 176.3 1460.8 181 1462.3 184.7 C1463.7 188 1465.8 190.4 1467 193.6 C1468.3 196.9 1468.6 200.9 1469.8 204.2 C1471 207.4 1472.2 211.4 1474.1 213.1 C1475.6 214.4 1478 213.3 1479.3 214.9 C1481.8 217.7 1480.6 229.1 1482.6 232.6 C1483.7 234.5 1485.5 234.8 1486.9 236.2 C1488.4 237.7 1490 241.7 1491.1 241.5 C1492.4 241.3 1492.9 236.1 1494 234.4 C1494.7 233.2 1495.5 231.7 1496.4 231.7 C1497.9 231.8 1500.3 239.9 1501.8 239.7 C1503.3 239.6 1504.2 233.6 1505.3 230.8 C1506.3 228.3 1506.6 225.2 1508.2 223.7 C1509.5 222.5 1512.1 221.2 1513.4 222 C1515.6 223.2 1515.5 231.8 1516.7 236.2 C1517.8 240 1518.8 246.7 1520.2 246.8 C1521.5 246.9 1523.3 243 1524.5 239.7 C1526.6 233.8 1526.3 217.7 1528 213.1 C1528.8 211.2 1529.8 211.4 1530.5 209.5 C1532 205.3 1532.2 194 1533 186.5 C1533.8 179.2 1534.4 172.3 1535.1 165.2" stroke="#d62728" stroke-width="3.7"/></g>
<ellipse cx="1210.4" cy="107.5" rx="7.2" ry="3.9" fill="#d62728"/>
<ellipse cx="1231.7" cy="196.2" rx="7.2" ry="3.9" fill="#d62728"/>
<ellipse cx="1253" cy="229.1" rx="7.2" ry="3.9" fill="#d62728"/>
<ellipse cx="1274.3" cy="214" rx="7.2" ry="3.9" fill="#d62728"/>
<ellipse cx="1295.6" cy="214" rx="7.2" ry="3.9" fill="#d62728"/>
<ellipse cx="1316.9" cy="190.9" rx="7.2" ry="3.9" fill="#d62728"/>
<ellipse cx="1338.2" cy="162.5" rx="7.2" ry="3.9" fill="#d62728"/>
<ellipse cx="1359.5" cy="184.7" rx="7.2" ry="3.9" fill="#d62728"/>
<ellipse cx="1380.8" cy="142.1" rx="7.2" ry="3.9" fill="#d62728"/>
<ellipse cx="1402.1" cy="159" rx="7.2" ry="3.9" fill="#d62728"/>
<ellipse cx="1423.4" cy="174.1" rx="7.2" ry="3.9" fill="#d62728"/>
<ellipse cx="1444.7" cy="215.8" rx="7.2" ry="3.9" fill="#d62728"/>
<ellipse cx="1466" cy="242.3" rx="7.2" ry="3.9" fill="#d62728"/>
<ellipse cx="1487.2" cy="210.2" rx="7.2" ry="3.9" fill="#d62728"/>
<ellipse cx="1508.5" cy="179.3" rx="7.2" ry="3.9" fill="#d62728"/>
<ellipse cx="1529.8" cy="148.3" rx="7.2" ry="3.9" fill="#d62728"/>
<ellipse cx="1551.1" cy="139.5" rx="7.2" ry="3.9" fill="#d62728"/>
<ellipse cx="1572.4" cy="161.7" rx="7.2" ry="3.9" fill="#d62728"/>
<ellipse cx="1593.7" cy="214.9" rx="7.2" ry="3.9" fill="#d62728"/>
<ellipse cx="1615" cy="165.2" rx="7.2" ry="3.9" fill="#d62728"/>
<ellipse cx="1636.3" cy="213.2" rx="7.2" ry="3.9" fill="#d62728"/>
<ellipse cx="1657.6" cy="210.4" rx="7.2" ry="3.9" fill="#d62728"/>
<ellipse cx="1678.9" cy="151.8" rx="7.2" ry="3.9" fill="#d62728"/>
<ellipse cx="1700.2" cy="182.9" rx="7.2" ry="3.9" fill="#d62728"/>
<ellipse cx="1721.5" cy="149.9" rx="7.2" ry="3.9" fill="#d62728"/>
<ellipse cx="1742.8" cy="151.9" rx="7.2" ry="3.9" fill="#d62728"/>
<ellipse cx="1764.1" cy="204.1" rx="7.2" ry="3.9" fill="#d62728"/>
<ellipse cx="1785.4" cy="216.7" rx="7.2" ry="3.9" fill="#d62728"/>
<ellipse cx="1806.7" cy="189.7" rx="7.2" ry="3.9" fill="#d62728"/>
<ellipse cx="1828" cy="184.8" rx="7.2" ry="3.9" fill="#d62728"/>
<ellipse cx="1849.3" cy="215.3" rx="7.2" ry="3.9" fill="#d62728"/>
<ellipse cx="1870.6" cy="231.8" rx="7.2" ry="3.9" fill="#d62728"/>
<ellipse cx="1891.9" cy="222.3" rx="7.2" ry="3.9" fill="#d62728"/>
<ellipse cx="1913.2" cy="208.9" rx="7.2" ry="3.9" fill="#d62728"/>
<g transform="scale(1.25,1)"><path d="M968.3 107.5 C969 116.1 969.6 124.9 970.5 133.2 C971.3 141.1 972.1 149.1 973.3 156.3 C974.3 162.6 975.4 168.7 976.8 174.1 C978.1 178.6 979.6 182.5 981.1 186.5 C982.5 190.2 984.1 193.4 985.4 197.1 C986.7 201.1 987.7 205.7 988.9 209.5 C990 213 990.9 219 992.5 219.3 C993.7 219.6 995.5 214.6 996.7 214.9 C998.3 215.2 999.2 222.6 1000.3 225.5 C1001 227.6 1001.3 229.8 1002.4 230.8 C1003.3 231.6 1005 232.2 1005.9 231.7 C1007.3 231.1 1007.7 227.2 1008.8 225.5 C1009.7 224.1 1010.8 221.8 1011.6 222 C1013.2 222.4 1013.2 233.9 1014.5 239.7 C1015.8 245.5 1017.5 251.8 1019.4 256.6 C1020.9 260.4 1022.9 263.1 1024.4 266.3 C1025.8 269.3 1026.6 272.7 1028 275.2 C1029 277.3 1030.3 278.4 1031.5 280.5 C1033.1 283.4 1035 291.3 1036.5 291.2 C1038.2 291 1038.9 273.7 1040.7 273.4 C1042 273.2 1043.7 278.1 1045 280.5 C1046.3 282.9 1047.5 287.7 1048.5 287.6 C1049.7 287.5 1050.4 279.9 1051.4 277 C1052.1 274.9 1052.8 273.9 1053.5 271.7 C1054.7 267.8 1055.8 260.8 1057.1 255.7 C1058.2 250.8 1059.5 241.5 1060.6 241.5 C1061.8 241.5 1063 252.1 1064.2 257.5 C1065.3 262.8 1066.4 269.2 1067.7 273.4 C1068.6 276.3 1069.7 280.6 1070.5 280.5 C1071.9 280.4 1073 267.8 1074.1 261 C1075.3 253.7 1076.1 242.2 1077.6 237.9 C1078.3 236.1 1079 234.3 1079.8 234.4 C1081 234.5 1082.2 243.8 1084 245 C1085.1 245.7 1086.6 245.7 1087.6 245 C1089.1 243.9 1089.1 236.7 1090.4 236.2 C1091.2 235.9 1092.4 238.3 1093.3 237.9 C1095 237.2 1095.7 228.3 1096.8 223.7 C1097.8 219.5 1098 214.4 1099.6 211.3 C1100.9 209 1103.3 208.3 1104.6 206 C1106.4 202.9 1107.1 198.1 1108.2 193.6 C1109.5 188.2 1110.6 181.9 1111.7 175.8 C1112.9 169.5 1114.2 162.5 1115.3 156.3 C1116.3 150.7 1116.3 143.3 1118.1 140.3 C1119.1 138.8 1120.6 139 1121.7 137.7 C1123.3 135.6 1124.4 128 1125.9 127.9 C1127.1 127.8 1128.3 131.3 1129.5 133.2 C1130.7 135.4 1131.4 139.9 1133 140.3 C1134.5 140.8 1137.1 138.6 1138.7 136.8 C1140.6 134.5 1141.8 126.9 1142.9 127 C1144.2 127.1 1144.8 134.4 1145.8 138.6 C1146.9 143.4 1148 149.8 1149.3 154.5 C1150.4 158.5 1151.7 162.1 1152.9 165.2 C1153.8 167.6 1154.9 168.6 1155.7 171.4 C1157.2 176.4 1157.9 186 1159.1 193.6 C1160.4 201.6 1161.4 212.3 1163.4 218.4 C1164.6 222.2 1166.5 227.4 1167.6 227.3 C1168.8 227.2 1169.5 219.7 1170.5 216.6 C1171.2 214.3 1172.1 213.2 1172.7 210.4 C1173.9 205.6 1174 195.4 1175.4 190 C1176.4 186.4 1177.3 181.6 1179 181.2 C1180.5 180.8 1182.9 185.7 1184.7 185.6 C1186.5 185.5 1188.4 182.5 1189.8 180.3 C1191.4 177.6 1191.7 172.8 1193.2 170.5 C1194.2 168.9 1195.8 166.7 1196.7 167 C1198.4 167.5 1198.5 177.8 1199.6 182.9 C1200.6 187.8 1201.4 194.1 1203.1 197.1 C1204.1 198.9 1205.8 201 1206.8 200.7 C1208.9 200 1209 186.3 1210.2 179.4 C1211.3 172.7 1212.4 164.7 1213.8 159.9 C1214.6 156.9 1215.6 152.7 1216.6 152.8 C1217.7 152.8 1218.8 162.4 1220.1 162.5 C1221.3 162.6 1222.9 158.7 1223.8 155.4 C1225.6 149.5 1224.8 133.8 1226.5 128.8 C1227.3 126.6 1228.2 124.7 1229.4 124.4 C1230.4 124.1 1232 126.6 1232.9 126.1 C1234.7 125.3 1234.6 117 1235.8 111.9 C1237.1 106.1 1239.1 93.6 1240.9 93.3 C1241.8 93.2 1242.9 95.7 1243.6 97.7 C1244.9 101.6 1244.9 109.2 1245.7 115.5 C1246.6 122.7 1246.6 133.5 1248.5 138.6 C1249.6 141.5 1251.5 142.1 1252.8 144.8 C1254.8 148.8 1256.4 155.2 1257.9 160.7 C1259.5 166.7 1260.9 172.2 1262 179.4 C1263.6 188.9 1264.4 203.2 1265.6 213.1 C1266.5 221 1267.2 228 1268.4 234.4 C1269.4 239.6 1270.7 244.4 1272 248.6 C1272.9 251.9 1273.5 256.9 1274.9 257.5 C1275.9 257.8 1277.4 256.9 1278.4 255.7 C1280.2 253.1 1279.3 243 1281.2 239.7 C1282.3 237.8 1283.8 237 1285.5 236.2 C1287.3 235.2 1290.2 235.7 1292 234.4 C1294 232.9 1295.3 227.3 1296.8 227.3 C1298.1 227.3 1299.3 232.8 1300.4 232.6 C1301.9 232.4 1303.1 223.9 1304.6 220.2 C1306 216.9 1307.5 211.6 1309 211.3 C1310.1 211.2 1311.5 213 1312.4 214.9 C1314.2 218.4 1314.4 226.9 1315.3 232.6 C1316.1 238.1 1316.2 245.2 1317.4 248.6 C1318 250.3 1318.9 252.3 1319.5 252.1 C1320.8 251.9 1320.3 237.1 1322.4 234.4 C1323.3 233.1 1324.9 233.6 1326.1 232.6 C1327.8 231.1 1329.3 227.7 1330.9 225.5 C1332.3 223.6 1333.9 222.4 1335.1 220.2 C1336.8 217.4 1337.7 211.8 1339.4 209.5 C1340.5 208.1 1341.9 207 1343.1 206.9 C1344.2 206.8 1345.3 208.8 1346.5 208.7 C1347.9 208.5 1349.3 206.2 1350.8 205.1 C1352.1 204.1 1353.5 202.4 1355 202.4 C1356.7 202.5 1358.7 204.1 1360.1 206 C1362.1 208.7 1362.7 214.1 1364.1 218.4 C1365.5 223 1366.8 228.3 1368.3 232.6 C1369.7 236.5 1371.1 243.2 1372.6 243.3 C1374 243.3 1376.1 237.4 1377.1 233.5 C1378.5 228.4 1377.4 218.2 1379 214.9 C1379.7 213.4 1380.9 212.1 1381.8 212.2 C1383.2 212.4 1384.9 217.1 1386.1 220.2 C1387.6 224.2 1388 230.4 1389.6 234.4 C1390.9 237.5 1392.9 239.5 1394.2 242.4 C1395.5 245.4 1396.3 249 1397.4 252.1 C1398.5 255.2 1399.9 261.1 1401 261 C1402.3 260.9 1403.3 252.5 1404.5 248.6 C1405.7 245.1 1406.7 239 1408.1 238.8 C1409 238.7 1410 241.8 1411.2 243.3 C1412.6 245 1414.4 247.4 1415.9 248.6 C1416.9 249.4 1417.8 250.7 1418.7 250.4 C1420.4 249.8 1420.8 240.3 1423 238.8 C1424.4 237.8 1426.6 238.5 1428.2 238.8 C1429.9 239.1 1431.6 241.1 1432.9 240.6 C1434.7 239.9 1435.9 235.9 1437.2 232.6 C1439 228 1440.1 220.6 1441.4 214.9 C1442.8 209.4 1444.1 204.2 1445.3 198.9 C1446.5 193.6 1447 186.2 1448.5 182.9 C1449.4 181.2 1450.5 179.2 1451.4 179.4 C1452.9 179.7 1453.8 188.6 1454.9 193.6 C1456.2 199.1 1456.6 207.5 1458.5 211.3 C1459.5 213.5 1461.2 215.9 1462.3 215.8 C1463.7 215.5 1464.2 208 1465.6 207.8 C1466.8 207.6 1468.6 213.4 1469.8 213.1 C1471.7 212.7 1472.4 202 1474.1 197.1 C1475.6 192.9 1477.7 189.2 1479.3 185.6 C1480.8 182.4 1482 176.7 1483.3 176.7 C1484.5 176.7 1485.3 184.2 1486.9 184.7 C1487.9 185.1 1489.4 182.4 1490.4 182.9 C1492.5 184 1492.2 197.9 1494 200.7 C1494.7 201.8 1495.5 201.6 1496.4 202.4 C1497.7 203.7 1499.5 205.7 1501.1 207.8 C1503 210.3 1504.5 214.5 1506.7 216.6 C1508.7 218.4 1511.9 220.9 1513.4 220.2 C1515.4 219.3 1514.8 211.3 1516 207.8 C1516.9 205 1518.2 202.6 1519.5 200.7 C1520.6 199.2 1522.1 196.8 1523.1 197.1 C1524.7 197.6 1524.9 205.7 1525.9 211.3 C1527.3 219.3 1529.4 231.9 1530.5 240.6 C1531.3 247.5 1531.1 255.5 1532.3 259.2 C1532.9 261 1533.7 261.6 1534.4 262.8" stroke="#1f77b4" stroke-width="3.7"/></g>
<path d="M1203.2 111.4 L1217.6 111.4 L1210.4 103.6Z" fill="#1f77b4"/>
<path d="M1224.5 201 L1238.9 201 L1231.7 193.2Z" fill="#1f77b4"/>
<path d="M1245.8 234.7 L1260.2 234.7 L1253 226.9Z" fill="#1f77b4"/>
<path d="M1267.1 260.5 L1281.5 260.5 L1274.3 252.7Z" fill="#1f77b4"/>
<path d="M1288.4 295.1 L1302.8 295.1 L1295.6 287.3Z" fill="#1f77b4"/>
<path d="M1309.7 275.6 L1324.1 275.6 L1316.9 267.8Z" fill="#1f77b4"/>
<path d="M1331 284.4 L1345.4 284.4 L1338.2 276.6Z" fill="#1f77b4"/>
<path d="M1352.3 248.9 L1366.7 248.9 L1359.5 241.1Z" fill="#1f77b4"/>
<path d="M1373.6 209.9 L1388 209.9 L1380.8 202.1Z" fill="#1f77b4"/>
<path d="M1394.9 141.6 L1409.3 141.6 L1402.1 133.8Z" fill="#1f77b4"/>
<path d="M1416.1 140.7 L1430.6 140.7 L1423.4 132.9Z" fill="#1f77b4"/>
<path d="M1437.4 175.3 L1451.9 175.3 L1444.7 167.5Z" fill="#1f77b4"/>
<path d="M1458.7 214.1 L1473.2 214.1 L1466 206.3Z" fill="#1f77b4"/>
<path d="M1480 184.1 L1494.5 184.1 L1487.2 176.3Z" fill="#1f77b4"/>
<path d="M1501.3 204.4 L1515.8 204.4 L1508.5 196.6Z" fill="#1f77b4"/>
<path d="M1522.6 159 L1537.1 159 L1529.8 151.2Z" fill="#1f77b4"/>
<path d="M1543.9 97.3 L1558.4 97.3 L1551.1 89.5Z" fill="#1f77b4"/>
<path d="M1565.2 164.8 L1579.6 164.8 L1572.4 157Z" fill="#1f77b4"/>
<path d="M1586.5 261.3 L1600.9 261.3 L1593.7 253.5Z" fill="#1f77b4"/>
<path d="M1607.8 238.2 L1622.2 238.2 L1615 230.4Z" fill="#1f77b4"/>
<path d="M1629.1 215.3 L1643.5 215.3 L1636.3 207.5Z" fill="#1f77b4"/>
<path d="M1650.4 236.5 L1664.8 236.5 L1657.6 228.7Z" fill="#1f77b4"/>
<path d="M1671.7 210.8 L1686.1 210.8 L1678.9 203Z" fill="#1f77b4"/>
<path d="M1693 210 L1707.4 210 L1700.2 202.2Z" fill="#1f77b4"/>
<path d="M1714.3 236.7 L1728.7 236.7 L1721.5 228.9Z" fill="#1f77b4"/>
<path d="M1735.6 246.5 L1750 246.5 L1742.8 238.7Z" fill="#1f77b4"/>
<path d="M1756.9 247.2 L1771.3 247.2 L1764.1 239.4Z" fill="#1f77b4"/>
<path d="M1778.2 242.8 L1792.6 242.8 L1785.4 235Z" fill="#1f77b4"/>
<path d="M1799.5 202.5 L1813.9 202.5 L1806.7 194.7Z" fill="#1f77b4"/>
<path d="M1820.8 219.5 L1835.2 219.5 L1828 211.7Z" fill="#1f77b4"/>
<path d="M1842.1 189.3 L1856.5 189.3 L1849.3 181.5Z" fill="#1f77b4"/>
<path d="M1863.4 206.4 L1877.8 206.4 L1870.6 198.6Z" fill="#1f77b4"/>
<path d="M1884.6 223.8 L1899.1 223.8 L1891.9 216Z" fill="#1f77b4"/>
<path d="M1905.9 245.2 L1920.4 245.2 L1913.2 237.4Z" fill="#1f77b4"/>
<path d="M1210.4 107.5 C1211 114.9 1211.3 122.1 1212.2 129.7 C1213.1 137.8 1214.2 147.2 1215.7 154.5 C1217 160.5 1218.4 165.8 1220.2 170.5 C1221.7 174.5 1223.8 177.4 1225.5 181.2 C1227.3 185.1 1229 189.6 1230.8 193.6 C1232.5 197.3 1234.2 201.1 1236.1 204.2 C1237.8 206.9 1239.6 211.1 1241.5 211.3 C1243.1 211.5 1245.1 206.6 1246.8 206.9 C1248.7 207.2 1250.3 212.3 1252.1 214.9 C1253.9 217.3 1255.9 219.5 1257.4 222 C1258.9 224.3 1259.9 229.1 1261 229.1 C1262.2 229 1263.5 220.1 1264.5 220.2 C1265.9 220.3 1266.9 229.7 1268.1 234.4 C1269.3 239.1 1270.4 244 1271.6 248.6 C1272.8 252.9 1274 256.9 1275.2 261 C1276.4 265.2 1277.6 269.6 1278.7 273.4 C1279.7 276.6 1280.2 280.6 1281.4 282.3 C1282.1 283.3 1283 284.3 1283.7 284.1 C1285.6 283.4 1285.1 268.7 1287.6 262.8 C1289.7 257.8 1293.6 254 1296.5 250.4 C1298.9 247.3 1301.5 246.1 1303.6 242.4 C1306.8 236.5 1308.3 225.8 1310.7 216.6 C1313.4 206.2 1315.5 190.9 1318.7 182.9 C1320.6 178.2 1322.6 175.5 1324.9 172.3 C1327 169.3 1329.6 166.3 1332 164.3 C1333.8 162.7 1335.3 161 1337.3 160.7 C1339.4 160.5 1342.2 164.1 1344.4 163.4 C1347.1 162.6 1349.8 156.9 1351.5 153.6 C1352.9 151 1353.4 148.8 1354.2 145.7 C1355.2 141.3 1354.9 133.4 1356.8 129.7 C1358.1 127.2 1360.2 125.6 1362.1 124.4 C1363.8 123.3 1365.8 124 1367.5 122.6 C1370.2 120.2 1372 112 1374.6 108.4 C1376.5 105.7 1378.9 102.2 1380.8 102.2 C1382.4 102.2 1384 104.5 1385.2 106.6 C1387 109.9 1386.9 118.4 1388.8 120.8 C1389.7 122 1391.3 123 1392.3 122.6 C1394 121.9 1394.4 112 1395.9 111.9 C1397.3 111.8 1400 119 1401.2 122.6 C1402.3 126.1 1402.3 129.3 1403 133.2 C1403.8 138 1403.3 147.6 1405.6 149.2 C1406.9 150.1 1409.4 147.8 1410.9 148.3 C1412.6 148.9 1414.3 150.7 1415.4 152.8 C1417 155.7 1417.3 160.6 1418 165.2 C1418.9 170.9 1417.3 181.7 1419.8 184.7 C1421.3 186.4 1424.1 185.6 1426 186.5 C1427.9 187.4 1429.8 188.1 1431.3 190 C1433.7 193 1434.1 202.1 1436.7 204.2 C1438.2 205.5 1440.7 203.8 1442 205.1 C1444.2 207.3 1443.9 214.7 1444.7 220.2 C1445.6 226.7 1445.4 235.2 1447.1 241.5 C1448.5 246.8 1451.5 255.8 1453.3 255.7 C1455.1 255.6 1455.5 245.7 1457.7 241.5 C1460 237.4 1464 234.3 1466.6 230.8 C1468.9 227.8 1470.6 225.3 1472.8 222 C1475.6 217.8 1478.8 210.8 1481.7 207.8 C1483.5 205.9 1485 205.1 1487 204.2 C1489.3 203.2 1492.9 204.4 1495 202.4 C1498.3 199.4 1499 188.9 1500.3 182.9 C1501.5 177.8 1501.2 171.1 1503 168.7 C1503.9 167.5 1505.6 166.5 1506.5 167 C1508.8 168.1 1509.1 180.6 1510.1 188.3 C1511.2 197 1511.6 209.1 1512.8 216.6 C1513.5 221.7 1514.6 224.7 1515.4 229.1 C1516.4 233.8 1515.9 241.6 1518.1 244.2 C1519.4 245.7 1521.5 245.3 1523.4 245.9 C1525.6 246.7 1528.6 249.4 1530.5 248.6 C1533.1 247.4 1534.4 239.8 1535.8 235.3 C1537.3 230.7 1538.4 226 1539.4 221.1 C1540.5 215.7 1540.9 209.4 1542 204.2 C1543 199.7 1544.6 196.2 1545.6 191.8 C1546.7 186.8 1546.9 180.9 1548.3 175.8 C1549.6 170.9 1551.6 166.5 1553.6 161.6 C1555.7 156.4 1558.6 150.5 1560.7 145.7 C1562.4 141.8 1562.8 138 1565.1 135 C1567.6 131.8 1573.2 130.1 1575.8 127 C1578 124.4 1578.2 119.6 1580.2 118.2 C1581.7 117.1 1583.5 117.3 1585.5 117.3 C1588.1 117.2 1592.3 116.4 1594.4 118.2 C1597 120.3 1595.8 130.5 1597.9 131.5 C1599.3 132.1 1601.9 128.2 1603.3 128.8 C1605.5 129.8 1605.3 139 1606.8 143.9 C1608.3 148.7 1609.9 156.1 1612.1 158.1 C1613.2 159 1614.7 158 1615.7 159 C1617.8 161 1618.9 168.9 1620.1 174.1 C1621.3 179.3 1620.3 186.8 1622.8 190 C1624.6 192.4 1628.7 194.2 1630.8 193.6 C1632.8 193 1633.5 187 1635.2 186.5 C1636.5 186 1638.4 187 1639.6 188.3 C1641.6 190.2 1642.8 195 1644.1 198.9 C1645.5 203.2 1646.8 208.1 1647.6 213.1 C1648.6 218.6 1648 230.7 1649.4 230.8 C1650.7 231 1652.6 217.5 1655.6 214.9 C1657.6 213.1 1660.8 214.8 1662.7 213.1 C1665.5 210.5 1666.2 200.9 1668 198 C1668.9 196.6 1669.9 195.2 1670.7 195.4 C1671.8 195.6 1672.4 199 1673.4 201.6 C1674.8 205.5 1676.8 211.6 1677.8 216.6 C1678.8 221.6 1678.2 231.5 1679.6 231.7 C1681 232 1685.2 221.7 1686.7 216.6 C1688 211.9 1686.9 206.2 1688.4 202.4 C1689.6 199.5 1691.6 196.8 1693.8 195.4 C1695.6 194.1 1698.2 192.9 1700.2 193.6 C1703 194.6 1705.7 200.5 1707.7 204.2 C1709.7 207.9 1710.8 215.8 1712.2 215.8 C1713.8 215.7 1714.4 205.3 1716.6 200.7 C1718.8 196.1 1722.9 192.8 1725.5 188.3 C1728.3 183.4 1729.8 177 1732.6 172.3 C1735.2 168 1739.4 165 1741.5 160.7 C1743.5 156.7 1743.9 152.1 1745 147.4 C1746.3 142.4 1747.5 136.6 1748.6 131.5 C1749.6 126.6 1750.2 122 1751.2 117.3 C1752.3 112.5 1753.2 107.7 1754.8 103.1 C1756.4 98.3 1758.5 89.6 1761 88.9 C1762.6 88.4 1764.9 90.7 1766.3 92.4 C1768 94.5 1768.9 97.8 1769.9 101.3 C1771.1 105.8 1770.4 115.1 1772.5 117.3 C1773.6 118.4 1775.6 118.7 1777 118.2 C1779 117.3 1780.2 110.3 1782.3 110.2 C1784.6 110 1788.4 115.4 1790.3 119 C1792.4 123.2 1792.4 129.4 1793.8 134.1 C1795.1 138.5 1796.7 142.3 1798.3 146.5 C1799.9 151.1 1801.2 158.1 1803.6 160.7 C1805.1 162.4 1807.4 162.3 1808.9 163.4 C1810.3 164.4 1811.4 167.2 1812.4 167 C1814.2 166.5 1813.7 154.5 1816 152.8 C1817.4 151.7 1819.7 153.7 1821.3 152.8 C1824 151.3 1825.8 141.7 1828.4 141.2 C1830.4 140.8 1832.5 144.5 1834.6 145.7 C1836.6 146.8 1839.4 146.7 1840.8 148.3 C1842.5 150.1 1842.6 153.2 1843.5 156.3 C1844.7 160.3 1845.6 166.8 1847.1 170.5 C1848.1 173.1 1849.1 174.9 1850.6 176.7 C1852.1 178.5 1854.5 178.9 1855.9 181.2 C1857.9 184.4 1858.3 190.5 1859.5 195.4 C1860.7 200.3 1860.8 209.8 1863 210.4 C1864.9 211 1868.5 205.4 1871 202.4 C1873.8 199.2 1876.4 195.2 1879 191.8 C1881.4 188.7 1884.2 182.7 1886.1 182.9 C1888 183.2 1888.8 192.3 1890.5 192.7 C1891.6 193 1892.8 191 1894.1 190 C1895.7 188.9 1897.5 186.9 1899.4 186.5 C1901.3 186 1903.9 188.2 1905.6 187.4 C1907.7 186.4 1908.8 182.5 1910.1 179.4 C1911.6 175.4 1912.6 168.8 1913.6 165.2 C1914.2 163 1914.4 161.2 1915.4 159.9 C1916.3 158.6 1917.7 158.1 1918.9 157.2" stroke="#000" stroke-width="4.3" stroke-dasharray="15.5 11.5" stroke-linecap="butt"/>
</g>
<rect x="1175.4" y="74.6" width="779.2" height="343" fill="none" stroke="#000" stroke-width="1.7"/>
<path d="M1210.9 417.6 v3.6 M1299.4 417.6 v3.6 M1387.9 417.6 v3.6 M1476.4 417.6 v3.6 M1564.9 417.6 v3.6 M1653.4 417.6 v3.6 M1741.9 417.6 v3.6 M1830.4 417.6 v3.6 M1918.9 417.6 v3.6 M1175.4 417.7 h-4 M1175.4 314.3 h-4 M1175.4 210.9 h-4 M1175.4 107.5 h-4" stroke="#000" stroke-width="1.4" fill="none"/>
<path d="M1175.5 417.6 v1.4 M1193.2 417.6 v1.4 M1210.9 417.6 v1.4 M1228.6 417.6 v1.4 M1246.3 417.6 v1.4 M1264 417.6 v1.4 M1281.7 417.6 v1.4 M1299.4 417.6 v1.4 M1317.1 417.6 v1.4 M1334.8 417.6 v1.4 M1352.5 417.6 v1.4 M1370.2 417.6 v1.4 M1387.9 417.6 v1.4 M1405.6 417.6 v1.4 M1423.3 417.6 v1.4 M1441 417.6 v1.4 M1458.7 417.6 v1.4 M1476.4 417.6 v1.4 M1494.1 417.6 v1.4 M1511.8 417.6 v1.4 M1529.5 417.6 v1.4 M1547.2 417.6 v1.4 M1564.9 417.6 v1.4 M1582.6 417.6 v1.4 M1600.3 417.6 v1.4 M1618 417.6 v1.4 M1635.7 417.6 v1.4 M1653.4 417.6 v1.4 M1671.1 417.6 v1.4 M1688.8 417.6 v1.4 M1706.5 417.6 v1.4 M1724.2 417.6 v1.4 M1741.9 417.6 v1.4 M1759.6 417.6 v1.4 M1777.3 417.6 v1.4 M1795 417.6 v1.4 M1812.7 417.6 v1.4 M1830.4 417.6 v1.4 M1848.1 417.6 v1.4 M1865.8 417.6 v1.4 M1883.5 417.6 v1.4 M1901.2 417.6 v1.4 M1918.9 417.6 v1.4 M1936.6 417.6 v1.4 M1954.3 417.6 v1.4 M1175.4 417.7 h-1.8 M1175.4 407.4 h-1.8 M1175.4 397 h-1.8 M1175.4 386.7 h-1.8 M1175.4 376.3 h-1.8 M1175.4 366 h-1.8 M1175.4 355.7 h-1.8 M1175.4 345.3 h-1.8 M1175.4 335 h-1.8 M1175.4 324.6 h-1.8 M1175.4 314.3 h-1.8 M1175.4 304 h-1.8 M1175.4 293.6 h-1.8 M1175.4 283.3 h-1.8 M1175.4 272.9 h-1.8 M1175.4 262.6 h-1.8 M1175.4 252.3 h-1.8 M1175.4 241.9 h-1.8 M1175.4 231.6 h-1.8 M1175.4 221.2 h-1.8 M1175.4 210.9 h-1.8 M1175.4 200.6 h-1.8 M1175.4 190.2 h-1.8 M1175.4 179.9 h-1.8 M1175.4 169.5 h-1.8 M1175.4 159.2 h-1.8 M1175.4 148.9 h-1.8 M1175.4 138.5 h-1.8 M1175.4 128.2 h-1.8 M1175.4 117.8 h-1.8 M1175.4 107.5 h-1.8 M1175.4 97.2 h-1.8 M1175.4 86.8 h-1.8 M1175.4 76.5 h-1.8" stroke="#000" stroke-width="0.8" fill="none"/>
<text x="1117" y="430" font-size="36.3" text-anchor="start" textLength="45" lengthAdjust="spacingAndGlyphs" >0.4</text>
<text x="1117" y="326.6" font-size="36.3" text-anchor="start" textLength="45" lengthAdjust="spacingAndGlyphs" >0.6</text>
<text x="1117" y="223.2" font-size="36.3" text-anchor="start" textLength="45" lengthAdjust="spacingAndGlyphs" >0.8</text>
<text x="1117" y="119.8" font-size="36.3" text-anchor="start" textLength="45" lengthAdjust="spacingAndGlyphs" >1.0</text>
<text transform="translate(1098,291.8) rotate(-90)" font-style="italic" font-size="37.5"><tspan x="0">E</tspan><tspan x="21" dy="7" font-size="28">t</tspan><tspan x="34" dy="0.5" font-size="49" font-style="normal">/</tspan><tspan x="52" dy="-7.5" font-size="37.5">E</tspan><tspan x="73.2" dy="7.5" font-size="27" font-style="normal">0</tspan></text>
<path d="M1211.6 528.9 V872.3 M1300.3 528.9 V872.3 M1389 528.9 V872.3 M1477.7 528.9 V872.3 M1566.4 528.9 V872.3 M1655.1 528.9 V872.3 M1743.8 528.9 V872.3 M1832.5 528.9 V872.3 M1921.2 528.9 V872.3" stroke="#b0b0b0" stroke-width="1.8" fill="none"/>
<path d="M1175.4 832.1 H1957.2 M1175.4 775.9 H1957.2 M1175.4 719.7 H1957.2 M1175.4 663.5 H1957.2 M1175.4 607.3 H1957.2 M1175.4 551.1 H1957.2" stroke="#b0b0b0" stroke-width="1.5" fill="none"/>
<clipPath id="clipB2"><rect x="1175.4" y="528.9" width="781.8" height="343.4"/></clipPath>
<g clip-path="url(#clipB2)" fill="none" stroke-linejoin="round" stroke-linecap="round">
<g transform="scale(1.25,1)"><path d="M969 719.9 C969.7 724.5 970.3 728.9 971.2 733.8 C972.1 739.3 972.9 747.2 974.7 751.5 C975.9 754.3 977.1 757 979 757.7 C980.9 758.4 983.8 756.2 986.1 755.9 C988.1 755.7 990.3 757.1 991.8 755.9 C994.3 753.9 994.1 745.3 995.3 739.1 C996.7 731.4 997.4 713.9 999.6 713.3 C1000.6 713.1 1002.1 715.8 1003.1 717.8 C1004.5 720.6 1004.6 729.1 1005.9 729.3 C1006.9 729.5 1008.3 724.1 1009.5 724 C1010.4 723.9 1011.5 725.4 1012.3 726.7 C1013.6 728.7 1014.3 732.3 1015.2 735.5 C1016.2 739.3 1017.1 744.2 1018 748 C1018.8 751.2 1019.3 754.1 1020.1 756.8 C1021 759.4 1022.1 764 1023 763.9 C1024 763.9 1025 757.7 1025.8 753.3 C1027.2 746.4 1028.1 735 1029.4 726.7 C1030.5 719.2 1030.4 708.5 1032.9 705.4 C1034.1 703.9 1035.7 703.6 1037.2 703.6 C1038.8 703.5 1040.8 703.8 1042.2 705.4 C1044.8 708.5 1044.1 720.8 1045.7 726.7 C1046.9 730.9 1048.1 735.1 1050 737.3 C1051.2 738.8 1052.7 739.7 1054.2 740 C1055.8 740.3 1057.9 740.2 1059.2 739.1 C1061.1 737.4 1061.6 732.5 1062.7 728.4 C1064.2 723.3 1065.6 716.6 1067 710.7 C1068.4 704.8 1070 699.3 1071.3 692.9 C1072.7 685.8 1073.6 669.9 1074.8 669.9 C1075.7 669.8 1076.5 678.8 1077.6 682.3 C1078.5 685 1079.4 689.3 1080.5 689.4 C1081.6 689.4 1082.8 684.7 1084 682.3 C1085.4 679.7 1087.1 677.3 1088.3 674.3 C1089.7 670.9 1090 665.3 1091.8 662.8 C1093.2 660.9 1095.5 661.1 1096.8 659.2 C1098.7 656.7 1098.3 649.2 1100.4 647.7 C1101.7 646.7 1103.8 647.2 1105.3 647.7 C1106.9 648.1 1108.3 649.3 1109.6 650.4 C1110.9 651.4 1112.1 654.1 1113.1 653.9 C1114.9 653.5 1115.7 645.1 1117.4 641.5 C1118.8 638.4 1120.9 633.4 1122.4 633.5 C1123.7 633.6 1124.8 638.7 1125.9 641.5 C1127.1 644.3 1127.8 648.6 1129.5 650.4 C1130.6 651.5 1132.6 652.7 1133.7 652.1 C1135.4 651.3 1135.6 644.9 1136.6 641.5 C1137.5 638.1 1138.3 631.8 1139.4 631.7 C1140.5 631.7 1141.8 637.8 1142.9 641.5 C1144.4 646.1 1145.5 653.6 1147.2 657.4 C1148.3 659.8 1149.1 661.9 1150.8 662.8 C1152.3 663.6 1154.9 662.3 1156.4 662.8 C1157.6 663.1 1158.3 664.9 1159.1 664.5 C1161.3 663.5 1161.5 647.4 1162.6 637.9 C1163.9 627 1164.4 610.7 1166.2 602.4 C1167.2 597.8 1168.6 595.6 1169.7 591.8 C1171 587.6 1172 578.6 1173.4 578.5 C1174.7 578.4 1175.8 586.5 1177.6 587.4 C1178.6 587.9 1180.1 585.9 1181.1 586.5 C1183 587.4 1183.3 595.7 1185.4 597.1 C1186.8 598.1 1189.2 596.1 1190.5 597.1 C1192.7 598.9 1192.4 607.8 1193.9 611.3 C1194.9 613.6 1196.4 614.4 1197.4 616.6 C1198.9 619.8 1199.8 625.5 1201 629.1 C1201.9 631.8 1202.4 634.7 1203.8 636.2 C1204.8 637.2 1206.7 636.8 1207.5 637.9 C1208.8 639.6 1208 644.3 1208.8 646.8 C1209.5 648.9 1210.6 650.4 1211.6 652.1 C1212.7 653.9 1213.7 656 1215.2 657.4 C1216.6 658.9 1218.6 661 1220.1 661 C1221.7 661 1223.2 658.8 1224.5 657.4 C1226 655.9 1227.6 651.9 1228.7 652.1 C1230.1 652.4 1230.6 658.8 1231.5 662.8 C1232.6 667.5 1233.3 673.8 1234.3 678.7 C1235.2 683.2 1235.9 691 1237.2 691.2 C1238.4 691.3 1240.1 685.4 1241.6 682.3 C1243.2 678.9 1244.7 674.1 1246.4 671.6 C1247.5 670 1248.8 668 1250 668.1 C1251.4 668.3 1252.5 673.7 1254.2 675.2 C1255.5 676.3 1257.2 677.3 1258.6 677 C1260.6 676.4 1262.6 669.8 1264.2 669.9 C1265.5 669.9 1266.8 672.9 1267.7 675.2 C1269.1 678.7 1269.2 684.1 1269.8 689.4 C1270.7 696.1 1271 705 1272 712.5 C1272.9 719.5 1273.9 727.7 1275.7 732.9 C1276.8 736.3 1278.3 738.5 1279.8 740.9 C1281.1 742.9 1282.9 746.4 1284 746.2 C1285.7 745.8 1286.2 736.7 1287.6 732 C1289 727.2 1290.1 720.7 1292.7 717.8 C1294.6 715.7 1297.6 715.2 1299.6 714.2 C1301.2 713.5 1302.5 712.1 1303.9 712.5 C1305.9 713 1307.5 719.5 1309.7 720.4 C1311.4 721.1 1313.8 720.9 1315.3 719.6 C1317.6 717.5 1317.7 710.5 1318.8 705.4 C1320.1 699.4 1320.8 691.3 1322.4 685.8 C1323.6 681.7 1325.5 678.6 1326.8 675.2 C1327.9 672.1 1328.4 666.4 1329.5 666.3 C1330.5 666.3 1332 671.8 1333 675.2 C1334.2 679.3 1334.7 684.8 1335.9 689.4 C1336.9 693.7 1338.2 701.8 1339.4 701.8 C1340.9 701.8 1342.2 687.5 1343.8 682.3 C1344.9 678.7 1346.1 673.4 1347.2 673.4 C1348.4 673.4 1349.7 680.5 1350.8 684.1 C1351.8 687.6 1352.7 694.7 1353.6 694.7 C1354.6 694.7 1355.5 686.2 1356.4 680.5 C1357.9 672 1359.8 658.6 1360.8 648.6 C1361.8 639.8 1361.4 629.7 1362.6 623.7 C1363.4 620.3 1364.5 615.7 1365.5 615.7 C1366.6 615.8 1368.1 622.7 1369 627.3 C1370.4 633.6 1370.9 643.2 1371.9 650.4 C1372.8 656.7 1373.4 667.9 1374.7 668.1 C1375.6 668.2 1376.9 664 1377.8 661 C1379.3 656.2 1380 647.5 1381.1 641.5 C1382 636.4 1382.8 632.3 1383.9 627.3 C1385.2 621.7 1386.5 614.5 1388.2 609.5 C1389.5 605.7 1391.1 599.9 1392.5 599.8 C1393.3 599.7 1394.2 601.6 1394.9 603.3 C1396.2 606.5 1395.8 614.8 1397.4 618.4 C1398.5 620.8 1400 622.9 1401.7 623.7 C1403.1 624.4 1405.4 622.8 1406.7 623.7 C1408.5 625.2 1408.7 629.9 1409.5 634.4 C1410.7 641.5 1411.1 653.3 1411.9 662.8 C1412.7 672.2 1413.3 683.4 1414.5 691.2 C1415.3 696.7 1415.4 704.3 1417.3 705.4 C1418.4 705.9 1420.4 705.1 1421.6 703.6 C1424.4 700 1424.5 684.8 1425.8 677 C1426.9 670.7 1428 660.1 1428.9 660.1 C1429.8 660.1 1430.7 668.5 1431.5 673.4 C1432.5 679.7 1433.3 688.2 1434.3 694.7 C1435.2 700.2 1436 709.7 1437.2 709.8 C1438 709.9 1439.2 705.3 1440 701.8 C1441.4 695.9 1441.9 685.2 1442.9 677 C1443.8 668.9 1443.4 657.6 1446 653 C1447.3 650.5 1449.8 650.7 1451.4 648.6 C1453.5 645.7 1454.2 636.8 1456.3 636.2 C1457.8 635.7 1460.2 638 1461.3 639.7 C1462.7 641.8 1462 645.9 1463 648.6 C1464 651.2 1465.5 654.2 1467 655.7 C1468.1 656.7 1469.5 657.9 1470.5 657.4 C1472.3 656.7 1473 649 1474.1 645 C1475.1 641.3 1475.7 634.5 1476.9 634.4 C1477.8 634.3 1478.7 639.4 1480.1 639.7 C1481.5 640 1483.8 637.9 1485.5 636.2 C1487.7 633.7 1489 625.7 1491.1 625.5 C1493 625.3 1495.1 631.9 1497.1 632.6 C1498.4 633.1 1500 631.1 1501.1 631.7 C1502.8 632.7 1503.2 638.9 1504.6 641.5 C1505.7 643.4 1507.1 646 1508.2 645.9 C1509.3 645.8 1510.1 642.1 1511 639.7 C1512.2 636.5 1512.5 631 1514.1 628.2 C1515.4 626.1 1517.6 626.1 1518.8 623.7 C1521 619.5 1520.7 608.9 1521.7 602.4 C1522.5 597 1523.2 587.4 1524.1 587.4 C1524.9 587.3 1525.6 596.8 1526.6 602.4 C1527.9 609.7 1529 626.6 1531.2 627.3 C1532.1 627.6 1533.6 623.5 1534.4 623.7 C1535.8 624.1 1536.1 630.8 1537 634.4" stroke="#ff7f0e" stroke-width="3.7"/></g>
<rect x="1204.1" y="716" width="14.4" height="7.8" fill="#ff7f0e"/>
<rect x="1225.4" y="752" width="14.4" height="7.8" fill="#ff7f0e"/>
<rect x="1246.7" y="713.9" width="14.4" height="7.8" fill="#ff7f0e"/>
<rect x="1268" y="752.9" width="14.4" height="7.8" fill="#ff7f0e"/>
<rect x="1289.3" y="699.7" width="14.4" height="7.8" fill="#ff7f0e"/>
<rect x="1310.6" y="736.1" width="14.4" height="7.8" fill="#ff7f0e"/>
<rect x="1331.9" y="689" width="14.4" height="7.8" fill="#ff7f0e"/>
<rect x="1353.1" y="670.4" width="14.4" height="7.8" fill="#ff7f0e"/>
<rect x="1374.4" y="643.8" width="14.4" height="7.8" fill="#ff7f0e"/>
<rect x="1395.7" y="629.6" width="14.4" height="7.8" fill="#ff7f0e"/>
<rect x="1417" y="627.8" width="14.4" height="7.8" fill="#ff7f0e"/>
<rect x="1438.3" y="658.9" width="14.4" height="7.8" fill="#ff7f0e"/>
<rect x="1459.6" y="574.7" width="14.4" height="7.8" fill="#ff7f0e"/>
<rect x="1480.9" y="593.4" width="14.4" height="7.8" fill="#ff7f0e"/>
<rect x="1502.2" y="634.3" width="14.4" height="7.8" fill="#ff7f0e"/>
<rect x="1523.5" y="653.5" width="14.4" height="7.8" fill="#ff7f0e"/>
<rect x="1544.8" y="678.3" width="14.4" height="7.8" fill="#ff7f0e"/>
<rect x="1566.1" y="673" width="14.4" height="7.8" fill="#ff7f0e"/>
<rect x="1587.4" y="729" width="14.4" height="7.8" fill="#ff7f0e"/>
<rect x="1608.7" y="713.9" width="14.4" height="7.8" fill="#ff7f0e"/>
<rect x="1630" y="716.5" width="14.4" height="7.8" fill="#ff7f0e"/>
<rect x="1651.3" y="671.2" width="14.4" height="7.8" fill="#ff7f0e"/>
<rect x="1672.6" y="678.3" width="14.4" height="7.8" fill="#ff7f0e"/>
<rect x="1693.9" y="644.2" width="14.4" height="7.8" fill="#ff7f0e"/>
<rect x="1715.2" y="656.7" width="14.4" height="7.8" fill="#ff7f0e"/>
<rect x="1736.5" y="599.8" width="14.4" height="7.8" fill="#ff7f0e"/>
<rect x="1757.8" y="659.7" width="14.4" height="7.8" fill="#ff7f0e"/>
<rect x="1779.1" y="656.6" width="14.4" height="7.8" fill="#ff7f0e"/>
<rect x="1800.4" y="649.1" width="14.4" height="7.8" fill="#ff7f0e"/>
<rect x="1821.6" y="644.8" width="14.4" height="7.8" fill="#ff7f0e"/>
<rect x="1842.9" y="635.8" width="14.4" height="7.8" fill="#ff7f0e"/>
<rect x="1864.2" y="628.7" width="14.4" height="7.8" fill="#ff7f0e"/>
<rect x="1885.5" y="624.2" width="14.4" height="7.8" fill="#ff7f0e"/>
<rect x="1906.8" y="623.3" width="14.4" height="7.8" fill="#ff7f0e"/>
<g transform="scale(1.25,1)"><path d="M969 719.9 C969.7 735.2 970.4 749.9 971.2 765.7 C972 782.8 972.8 804.9 974 818.9 C974.8 828.2 974.7 838.3 976.8 842 C977.8 843.6 979 844.1 980.4 844.7 C982 845.3 984.1 844.9 986.1 845.6 C988.4 846.3 991 849.3 993.2 849.1 C995.2 848.9 997 845.5 998.9 844.7 C1000.3 844 1001.6 843.5 1003.1 843.8 C1004.9 844.1 1007.2 847.8 1008.8 847.3 C1010.6 846.8 1011.8 839.3 1013 839.3 C1014.4 839.4 1015.1 846.2 1016.6 848.2 C1017.6 849.6 1018.9 849.8 1020.1 850.9 C1021.7 852.3 1023.7 856.5 1025.1 856.2 C1026.9 855.8 1027.8 847.7 1029.4 844.7 C1030.5 842.5 1031.4 840.1 1032.9 839.3 C1034.1 838.7 1035.9 839.9 1037.2 839.3 C1038.8 838.7 1040.1 836.6 1041.4 834.9 C1043 832.9 1044.4 827.8 1045.7 827.8 C1046.8 827.8 1047.7 830.9 1048.5 833.1 C1049.8 836.7 1050.2 843.6 1051.4 847.3 C1052.2 849.9 1053.2 853.6 1054.2 853.5 C1055.3 853.5 1056.6 848.3 1057.8 845.6 C1059 842.7 1060.1 836.7 1061.3 836.7 C1062.5 836.7 1062.9 844.4 1064.9 845.6 C1066.5 846.5 1069.4 844.3 1071.3 844.7 C1072.9 845 1074.2 846.3 1075.5 847.3 C1076.8 848.4 1078 851.1 1079.1 850.9 C1080.6 850.5 1080.7 841.9 1082.6 839.3 C1084.1 837.4 1086.7 837.6 1088.3 835.8 C1090.3 833.5 1091.2 829.6 1092.6 826 C1094.1 821.8 1095.4 815.4 1096.8 811.8 C1097.7 809.6 1098.6 808.1 1099.6 806.5 C1100.5 805.2 1101.7 804.6 1102.5 803 C1103.8 800.2 1104.4 795.1 1105.3 790.5 C1106.4 785.2 1106.1 775.1 1108.2 772.8 C1109.1 771.8 1110.6 771.5 1111.7 771.9 C1113.1 772.4 1114 776.2 1115.3 776.3 C1116.6 776.5 1118.4 774.6 1119.5 772.8 C1121.1 770.2 1121.4 765.3 1122.4 761.3 C1123.3 757 1123.6 751.6 1125.2 748 C1126.5 745.1 1128.8 740.7 1130.2 740.9 C1131.6 741 1132.7 746.4 1133.7 749.7 C1134.9 753.9 1135.6 759.4 1136.6 763.9 C1137.5 768.2 1138.4 771.9 1139.4 776.3 C1140.5 781.3 1141.5 788.5 1142.9 792.3 C1143.8 794.6 1144.9 797.7 1145.8 797.6 C1146.9 797.5 1147.6 789.7 1148.6 787 C1149.3 785.2 1150.1 782.5 1150.8 782.6 C1151.7 782.6 1152.6 789.2 1153.6 792.3 C1154.5 795.4 1155.5 797.9 1156.4 801.2 C1157.6 805.4 1158.6 811 1159.8 815.4 C1160.9 819.2 1162.1 826 1163.4 826 C1164.9 826 1166.5 811.9 1168.3 811.8 C1169.9 811.8 1171.7 819.6 1173.4 822.5 C1174.8 824.7 1176.4 828 1177.6 827.8 C1179.1 827.6 1180 821.4 1181.1 817.2 C1182.7 811.3 1182.7 799.4 1185.4 795.9 C1186.7 794 1189 792.8 1190.5 793.2 C1192.1 793.6 1193.3 797 1194.6 799.4 C1196.2 802.4 1197.2 807.1 1198.9 810.1 C1200.1 812.5 1201.5 816 1203.1 816.3 C1204.5 816.5 1206.2 814.2 1207.5 812.7 C1209 811 1210.4 809.2 1211.6 806.5 C1213.5 802.4 1214.1 789.9 1215.9 789.7 C1217.1 789.5 1218.4 796.1 1220.1 797.6 C1221.4 798.8 1223 799.4 1224.5 799.4 C1226.1 799.4 1227.9 798.7 1229.4 797.6 C1231 796.5 1232.3 794.1 1233.6 792.3 C1234.9 790.6 1235.8 788.4 1237.2 787 C1238.5 785.8 1240 784.4 1241.6 784.3 C1243.3 784.3 1245.2 787.1 1247.1 787 C1249.4 786.9 1252.3 782 1254.2 782.6 C1256.3 783.1 1256.6 789.9 1258.6 791.4 C1260.1 792.6 1262.5 791.5 1264.2 792.3 C1266 793.2 1267.3 796.6 1269.1 796.8 C1271.1 796.9 1274 794.1 1275.7 792.3 C1277.2 790.8 1278.2 789.5 1279.1 787 C1280.6 782.4 1279.5 770.6 1280.5 765.7 C1281 763 1281.3 760.2 1282.6 759.5 C1283.7 758.9 1285.4 760.5 1286.9 760.4 C1288.7 760.2 1290.9 757.4 1292.7 757.7 C1294.7 758.1 1296.2 763 1298.2 763 C1300.4 763.1 1303.5 756.3 1305.3 756.8 C1307.6 757.5 1308.3 766.6 1309.7 771 C1310.9 774.8 1311.6 781.3 1313.1 781.7 C1314.1 781.9 1315.6 779.7 1316.7 778.1 C1318.1 775.9 1319 771.8 1320.2 769.3 C1321.2 767.2 1322.2 763.8 1323.1 763.9 C1324.4 764.1 1325.5 771.9 1326.8 776.3 C1328.1 781.3 1329.5 792.3 1330.9 792.3 C1332 792.4 1333.4 785.9 1334.4 781.7 C1335.9 775.8 1335.3 764.3 1338 760.4 C1339.5 758.2 1342.1 756.4 1343.8 756.8 C1346 757.3 1347.4 765.7 1349.3 765.7 C1351.6 765.7 1354.6 753.9 1356.4 754.2 C1358.6 754.5 1359.6 764.7 1360.8 771 C1362.3 778.8 1362.4 790.7 1364.1 797.6 C1365.2 802.4 1366.6 808.9 1368.3 809.2 C1369.8 809.4 1371.6 804.8 1373.3 803 C1374.8 801.3 1376.4 800.3 1377.8 798.5 C1379.5 796.3 1380.9 792.7 1382.5 790.5 C1383.9 788.8 1385.6 785.8 1386.8 786.1 C1388.5 786.6 1389.1 794.7 1390.3 799.4 C1391.7 804.7 1393.3 811.5 1394.9 816.3 C1396.1 820 1397.5 826 1398.9 826 C1400.2 826.1 1401.2 817.9 1403.1 817.2 C1404.5 816.6 1406.6 819.2 1408.1 818.9 C1409.5 818.6 1410.8 817.1 1411.9 815.4 C1413.6 812.9 1414.4 807.6 1415.9 804.7 C1417 802.6 1418.4 801.8 1419.4 799.4 C1421.1 795.6 1421.4 788.5 1423 783.4 C1424.6 778.5 1427.2 773.7 1428.9 769.3 C1430.4 765.5 1431.5 761.6 1432.9 758.6 C1434 756.2 1435.3 752.3 1436.5 752.4 C1438.2 752.6 1439.8 762.5 1441.4 767.5 C1443 772.3 1443.6 779.3 1446 781.7 C1447.5 783.2 1449.9 781.8 1451.4 783.4 C1454.3 786.8 1454 800.3 1455.6 806.5 C1456.7 810.8 1457.9 817.1 1459.2 817.2 C1460.4 817.2 1461.5 809.3 1463 809.2 C1464.6 809.1 1466.9 814.2 1468.4 817.2 C1470.1 820.4 1471.1 825.5 1472.7 827.8 C1473.6 829.1 1474.6 830.7 1475.5 830.5 C1477.1 830.2 1478.7 824.2 1480.1 820.7 C1481.6 816.9 1482.6 811.3 1484 808.3 C1484.9 806.4 1485.5 804.3 1486.9 803.9 C1488.3 803.3 1490.8 805.2 1492.6 805.6 C1494.1 806 1495.7 807.1 1497.1 806.5 C1499.1 805.8 1500.8 801.3 1502.5 799.4 C1503.7 798 1505 795.6 1506 795.9 C1507.7 796.3 1508 804.8 1509.6 808.3 C1510.9 811.1 1512.4 815.1 1514.1 815.4 C1515.7 815.6 1517.9 812.9 1519.5 811 C1521.5 808.5 1522.2 802.6 1524.5 801.2 C1526.3 800.1 1529.3 801.9 1531.2 801.2 C1532.8 800.6 1534.2 799.6 1535.1 797.6 C1537 793.9 1536.1 784.6 1536.6 778.1" stroke="#e377c2" stroke-width="3.7"/></g>
<path d="M1201.6 719.9 L1211.3 714.7 L1221 719.9 L1211.3 725.1Z" fill="#e377c2"/>
<path d="M1222.9 845.6 L1232.6 840.3 L1242.3 845.6 L1232.6 850.8Z" fill="#e377c2"/>
<path d="M1244.2 843.8 L1253.9 838.6 L1263.6 843.8 L1253.9 849Z" fill="#e377c2"/>
<path d="M1265.5 850.9 L1275.2 845.7 L1284.9 850.9 L1275.2 856.1Z" fill="#e377c2"/>
<path d="M1286.8 839.3 L1296.5 834.1 L1306.2 839.3 L1296.5 844.6Z" fill="#e377c2"/>
<path d="M1308.1 853.5 L1317.8 848.3 L1327.5 853.5 L1317.8 858.8Z" fill="#e377c2"/>
<path d="M1329.4 844.7 L1339.1 839.4 L1348.7 844.7 L1339.1 849.9Z" fill="#e377c2"/>
<path d="M1350.7 835.8 L1360.4 830.6 L1370 835.8 L1360.4 841Z" fill="#e377c2"/>
<path d="M1372 790.5 L1381.7 785.3 L1391.3 790.5 L1381.7 795.8Z" fill="#e377c2"/>
<path d="M1393.3 761.3 L1403 756 L1412.6 761.3 L1403 766.5Z" fill="#e377c2"/>
<path d="M1414.6 776.3 L1424.3 771.1 L1433.9 776.3 L1424.3 781.6Z" fill="#e377c2"/>
<path d="M1435.9 801.2 L1445.5 796 L1455.2 801.2 L1445.5 806.4Z" fill="#e377c2"/>
<path d="M1457.2 822.5 L1466.8 817.3 L1476.5 822.5 L1466.8 827.8Z" fill="#e377c2"/>
<path d="M1478.5 793.3 L1488.1 788 L1497.8 793.3 L1488.1 798.5Z" fill="#e377c2"/>
<path d="M1499.8 812.7 L1509.4 807.4 L1519.1 812.7 L1509.4 817.9Z" fill="#e377c2"/>
<path d="M1521 799.4 L1530.7 794.2 L1540.4 799.4 L1530.7 804.6Z" fill="#e377c2"/>
<path d="M1542.3 784.4 L1552 779.1 L1561.7 784.4 L1552 789.6Z" fill="#e377c2"/>
<path d="M1563.6 791.4 L1573.3 786.2 L1583 791.4 L1573.3 796.7Z" fill="#e377c2"/>
<path d="M1584.9 792.3 L1594.6 787 L1604.3 792.3 L1594.6 797.5Z" fill="#e377c2"/>
<path d="M1606.2 757.7 L1615.9 752.5 L1625.6 757.7 L1615.9 763Z" fill="#e377c2"/>
<path d="M1627.5 771.1 L1637.2 765.9 L1646.9 771.1 L1637.2 776.4Z" fill="#e377c2"/>
<path d="M1648.8 776.5 L1658.5 771.3 L1668.2 776.5 L1658.5 781.7Z" fill="#e377c2"/>
<path d="M1670.1 756.9 L1679.8 751.7 L1689.5 756.9 L1679.8 762.1Z" fill="#e377c2"/>
<path d="M1691.4 771.3 L1701.1 766.1 L1710.8 771.3 L1701.1 776.5Z" fill="#e377c2"/>
<path d="M1712.7 798.4 L1722.4 793.2 L1732.1 798.4 L1722.4 803.6Z" fill="#e377c2"/>
<path d="M1734 816.5 L1743.7 811.2 L1753.4 816.5 L1743.7 821.7Z" fill="#e377c2"/>
<path d="M1755.3 815.2 L1765 810 L1774.7 815.2 L1765 820.4Z" fill="#e377c2"/>
<path d="M1776.6 769.1 L1786.3 763.8 L1796 769.1 L1786.3 774.3Z" fill="#e377c2"/>
<path d="M1797.9 781.7 L1807.6 776.5 L1817.2 781.7 L1807.6 786.9Z" fill="#e377c2"/>
<path d="M1819.2 809.3 L1828.9 804.1 L1838.5 809.3 L1828.9 814.5Z" fill="#e377c2"/>
<path d="M1840.5 820.5 L1850.2 815.3 L1859.8 820.5 L1850.2 825.7Z" fill="#e377c2"/>
<path d="M1861.8 806.4 L1871.5 801.2 L1881.1 806.4 L1871.5 811.7Z" fill="#e377c2"/>
<path d="M1883.1 815.3 L1892.8 810.1 L1902.4 815.3 L1892.8 820.6Z" fill="#e377c2"/>
<path d="M1904.4 801.1 L1914 795.9 L1923.7 801.1 L1914 806.4Z" fill="#e377c2"/>
<g transform="scale(1.25,1)"><path d="M969 719.9 C969.7 724.5 970.3 728.8 971.2 733.8 C972.2 739.7 973.1 747.8 974.7 753.3 C975.9 757.4 976.9 761.2 979 763.9 C980.8 766.3 984 769.3 986.1 769.3 C987.7 769.2 989.1 767.6 990.3 765.7 C992.4 762.5 992.9 754.2 994.6 749.7 C995.9 746.3 997.5 740.8 998.9 740.9 C1000.4 740.9 1001.1 750.6 1003.1 753.3 C1004.5 755.1 1006.7 757.2 1008.1 756.8 C1009.8 756.3 1010.6 751.3 1011.6 748 C1012.9 743.8 1013.5 738.5 1014.5 733.8 C1015.4 729 1015.8 722.3 1017.3 719.6 C1018.1 718.1 1019.4 718.3 1020.1 716.9 C1021.6 714.3 1021.9 707.9 1023 703.6 C1024 699.4 1025.4 695.6 1026.5 691.2 C1027.8 686.2 1028.9 675.2 1030.1 675.2 C1031 675.2 1031.9 681.9 1032.9 685.8 C1034.2 690.6 1035.6 701.7 1037.2 701.8 C1038.3 701.9 1039.6 693.8 1040.7 693.8 C1042 693.9 1043.3 701.1 1044.3 705.4 C1045.5 710.6 1046 723 1047.1 723.1 C1048 723.2 1049.2 717.9 1050 714.2 C1051.1 708.4 1051.1 697 1052.1 691.2 C1052.7 687.5 1053.4 685.5 1054.2 682.3 C1055.2 678.5 1056.1 672.4 1057.8 669.9 C1058.8 668.4 1060.3 666.9 1061.3 667.2 C1062.9 667.7 1063.8 677.9 1064.9 677.9 C1066.2 677.8 1067.2 667.2 1068.4 662.8 C1069.4 659.2 1069.7 653.6 1071.3 653 C1072.4 652.6 1074.3 654.2 1075.5 655.7 C1077.2 657.8 1077.4 663.6 1079.1 665.4 C1080.1 666.6 1081.2 666.9 1082.6 667.2 C1084.2 667.6 1086.8 668.4 1088.3 667.2 C1090.8 665.2 1090.8 656.6 1091.8 650.4 C1093.2 642.5 1094.3 632.1 1095.4 623.7 C1096.4 616.2 1097.1 608.1 1098.2 602.4 C1099 598.5 1100 592.6 1100.8 592.7 C1101.7 592.7 1102.5 601.2 1103.2 606 C1104 611.7 1104.6 618.6 1105.3 624.6 C1106 630.4 1106.6 635.8 1107.5 641.5 C1108.3 647.3 1108.1 656.9 1110.3 659.2 C1111.4 660.4 1113.3 660.6 1114.6 660.1 C1116 659.6 1116.7 656.7 1118.1 655.7 C1119.4 654.7 1121.3 653.3 1122.4 653.9 C1124.3 654.9 1123.9 663.7 1125.2 668.1 C1126.4 672.2 1127.6 679.1 1129.5 679.6 C1130.7 680 1132.1 676.5 1133.7 676.1 C1135.4 675.6 1137.9 677.9 1139.4 677 C1141.6 675.7 1141.8 666.1 1143.7 665.4 C1144.9 665 1146.8 666.5 1147.9 668.1 C1149.8 670.8 1149.9 676.8 1150.8 682.3 C1151.9 689.8 1152.3 702.1 1153.6 708.9 C1154.4 713.3 1155.6 715.3 1156.4 719.6 C1157.7 725.8 1158.2 736.8 1159.8 742.6 C1160.8 746.4 1161.8 751.1 1163.4 751.5 C1164.6 751.8 1166.5 749.8 1167.6 748 C1169.3 745.2 1169.2 738.5 1170.5 735.5 C1171.3 733.6 1172.2 732 1173.4 731.1 C1174.6 730.3 1176.4 731.2 1177.6 730.2 C1179.6 728.4 1180.4 721.9 1181.8 717.8 C1183.2 713.6 1184.8 710.3 1186.1 705.4 C1187.8 698.6 1189.2 687.9 1190.5 680.5 C1191.5 674.6 1192.3 670.1 1193.2 664.5 C1194.1 658.4 1194.7 649.9 1196 645 C1196.8 642 1197.5 638.3 1198.9 637.9 C1200 637.6 1201.9 639.8 1203.1 641.5 C1204.9 643.9 1205.6 650.2 1207.5 652.1 C1208.7 653.3 1210.3 653.1 1211.6 653.9 C1213.1 654.8 1214.5 656.3 1215.9 657.4 C1217.3 658.6 1219.1 661.4 1220.1 661 C1221.6 660.5 1221.5 653.7 1222.3 650.4 C1223 647.2 1223.1 643.4 1224.5 641.5 C1225.6 640.1 1227.3 639.9 1228.7 638.8 C1230.1 637.6 1231.5 636 1232.9 634.4 C1234.4 632.7 1235.6 630.2 1237.2 629.1 C1238.5 628.1 1240.3 626.8 1241.6 627.3 C1243.3 627.9 1244.4 631.7 1245.7 634.4 C1247.2 637.5 1248.6 641.2 1250 645 C1251.5 649.4 1252.2 656.2 1254.2 659.2 C1255.5 661.1 1257.3 661.2 1258.6 662.8 C1260.2 664.6 1261.4 667.2 1262.7 669.9 C1264.3 673 1265.7 676.6 1267 680.5 C1268.6 685.3 1269.3 692.7 1271.3 696.5 C1272.5 698.9 1274.1 700.3 1275.7 701.8 C1277 703.2 1278.6 705.5 1279.8 705.4 C1280.9 705.3 1281.8 703.7 1282.6 701.8 C1284.5 697.4 1284.7 685.4 1285.5 677 C1286.2 668.3 1286.1 657.5 1286.9 650.4 C1287.4 645.4 1287.3 639.7 1289 637.9 C1289.9 636.9 1291.4 637.3 1292.7 637 C1294 636.7 1295.7 635.5 1296.8 636.2 C1298.8 637.3 1299.1 644.8 1300.4 648.6 C1301.5 651.8 1302.9 654.3 1303.9 657.4 C1305 660.8 1305.9 663.8 1306.7 668.1 C1308 674.6 1308.9 684.8 1309.7 692.9 C1310.5 700.8 1310.8 710.2 1311.7 716 C1312.3 719.7 1313 724.8 1313.8 724.9 C1314.7 724.9 1315.8 720.9 1316.7 717.8 C1318.2 712.4 1318.5 700.1 1320.2 694.7 C1321.2 691.6 1322.8 687.5 1323.8 687.6 C1325.1 687.8 1325.4 699.8 1326.8 700 C1327.7 700.2 1329.2 697.1 1330.2 694.7 C1331.8 690.6 1332.6 683 1333.7 677 C1334.9 670.6 1336.1 664.2 1337.3 657.4 C1338.5 650.1 1339.5 640.9 1340.8 634.4 C1341.8 629.6 1342.7 626.2 1343.8 622 C1345 617.4 1346.4 611.6 1347.9 607.8 C1349 604.9 1350.4 600.6 1351.5 600.7 C1352.6 600.7 1353.6 605.8 1354.3 609.5 C1355.5 615.7 1355.7 626.1 1356.4 634.4 C1357.1 642.7 1357.4 653.5 1358.6 659.2 C1359.2 662.4 1359.5 664.4 1360.8 666.3 C1362.1 668.2 1364.5 671 1366.2 670.8 C1368.2 670.5 1370.5 666 1371.9 662.8 C1373.6 658.9 1373.6 652.7 1374.7 648.6 C1375.6 645.2 1376.6 642.8 1377.8 639.7 C1379.2 636.3 1380.7 632.5 1382.5 629.1 C1384.4 625.7 1387.4 619 1388.9 619.3 C1390.7 619.6 1390.7 629.7 1391.8 634.4 C1392.7 638.5 1392.9 643.6 1394.9 645.9 C1396.4 647.6 1399.5 646.5 1401 648.6 C1404 652.9 1402.4 667.2 1403.1 677 C1403.8 687.3 1404.6 699.3 1405.2 708.9 C1405.8 716.7 1406 730.2 1406.7 730.2 C1407.2 730.2 1407.5 719.5 1408.8 716 C1409.6 713.7 1411.1 712.9 1411.9 710.7 C1413.1 707.5 1413 700.4 1414.5 698.3 C1415.2 697.2 1416.5 696.2 1417.3 696.5 C1418.5 696.9 1419.1 703.6 1420.1 703.6 C1421.4 703.6 1423.2 694.6 1424.4 694.7 C1425.6 694.8 1426.3 702.6 1427.2 705.4 C1427.8 707.2 1427.9 709.1 1428.9 709.8 C1429.9 710.4 1431.9 710.6 1432.9 709.8 C1434.6 708.5 1434.9 703.9 1435.8 700 C1436.9 694.7 1437.3 686.7 1438.6 680.5 C1439.8 674.9 1441.3 668.4 1442.9 664.5 C1443.8 662.2 1444.9 661.1 1446 659.2 C1447.2 657 1448.6 652.1 1450 652.1 C1451.3 652.1 1453.1 656.5 1454.2 659.2 C1455.5 662.3 1456.2 665.9 1457.1 669.9 C1458.1 674.6 1458.5 682 1459.9 685.8 C1460.8 688.2 1461.8 689.7 1463 691.2 C1464.2 692.6 1465.9 693 1467 694.7 C1468.5 697.2 1469 701.2 1469.8 705.4 C1471 711.2 1471.3 721.5 1472.7 726.7 C1473.5 729.7 1474.2 733.5 1475.5 733.8 C1476.7 734 1478.9 729 1480.1 729.3 C1481.5 729.7 1481.7 735.8 1482.6 739.1 C1483.5 742.6 1483.9 749 1485.5 749.7 C1486.4 750.2 1488 747.6 1489 748 C1490.6 748.6 1491.6 756.9 1492.6 756.8 C1493.5 756.8 1494 751 1494.7 748 C1495.5 744.6 1495.4 738.6 1497.1 737.3 C1498.1 736.5 1500 736.5 1501.1 737.3 C1502.9 738.6 1503.5 748 1504.6 748 C1505.7 747.9 1506.7 741.2 1507.5 737.3 C1508.4 732.5 1508.1 725.6 1509.6 721.3 C1510.7 718.1 1512.4 714.1 1514.1 713.3 C1515.2 712.9 1516.5 713.3 1517.4 714.2 C1519.3 716.4 1519 726.9 1520.2 730.2 C1520.9 731.9 1521.7 733.9 1522.4 733.8 C1523.6 733.6 1524.4 725.2 1525.2 719.6 C1526.4 711.4 1527 698.8 1528 689.4 C1529 681.2 1530.1 674.2 1531.2 666.3 C1532.3 658.2 1533.4 649.6 1534.4 641.5 C1535.4 633.6 1536.1 626.1 1537 618.4" stroke="#d62728" stroke-width="3.7"/></g>
<ellipse cx="1211.3" cy="719.9" rx="7.2" ry="3.9" fill="#d62728"/>
<ellipse cx="1232.6" cy="769.3" rx="7.2" ry="3.9" fill="#d62728"/>
<ellipse cx="1253.9" cy="753.3" rx="7.2" ry="3.9" fill="#d62728"/>
<ellipse cx="1275.2" cy="716.9" rx="7.2" ry="3.9" fill="#d62728"/>
<ellipse cx="1296.5" cy="701.8" rx="7.2" ry="3.9" fill="#d62728"/>
<ellipse cx="1317.8" cy="682.3" rx="7.2" ry="3.9" fill="#d62728"/>
<ellipse cx="1339.1" cy="653" rx="7.2" ry="3.9" fill="#d62728"/>
<ellipse cx="1360.4" cy="667.2" rx="7.2" ry="3.9" fill="#d62728"/>
<ellipse cx="1381.7" cy="624.6" rx="7.2" ry="3.9" fill="#d62728"/>
<ellipse cx="1403" cy="653.9" rx="7.2" ry="3.9" fill="#d62728"/>
<ellipse cx="1424.3" cy="677" rx="7.2" ry="3.9" fill="#d62728"/>
<ellipse cx="1445.5" cy="719.6" rx="7.2" ry="3.9" fill="#d62728"/>
<ellipse cx="1466.8" cy="731.1" rx="7.2" ry="3.9" fill="#d62728"/>
<ellipse cx="1488.1" cy="680.3" rx="7.2" ry="3.9" fill="#d62728"/>
<ellipse cx="1509.4" cy="652.1" rx="7.2" ry="3.9" fill="#d62728"/>
<ellipse cx="1530.7" cy="641.5" rx="7.2" ry="3.9" fill="#d62728"/>
<ellipse cx="1552" cy="627.3" rx="7.2" ry="3.9" fill="#d62728"/>
<ellipse cx="1573.3" cy="662.8" rx="7.2" ry="3.9" fill="#d62728"/>
<ellipse cx="1594.6" cy="701.8" rx="7.2" ry="3.9" fill="#d62728"/>
<ellipse cx="1615.9" cy="637" rx="7.2" ry="3.9" fill="#d62728"/>
<ellipse cx="1637.2" cy="693.4" rx="7.2" ry="3.9" fill="#d62728"/>
<ellipse cx="1658.5" cy="700" rx="7.2" ry="3.9" fill="#d62728"/>
<ellipse cx="1679.8" cy="621.8" rx="7.2" ry="3.9" fill="#d62728"/>
<ellipse cx="1701.1" cy="666.4" rx="7.2" ry="3.9" fill="#d62728"/>
<ellipse cx="1722.4" cy="639.5" rx="7.2" ry="3.9" fill="#d62728"/>
<ellipse cx="1743.7" cy="645.9" rx="7.2" ry="3.9" fill="#d62728"/>
<ellipse cx="1765" cy="710.3" rx="7.2" ry="3.9" fill="#d62728"/>
<ellipse cx="1786.3" cy="709.8" rx="7.2" ry="3.9" fill="#d62728"/>
<ellipse cx="1807.6" cy="659.1" rx="7.2" ry="3.9" fill="#d62728"/>
<ellipse cx="1828.9" cy="691.2" rx="7.2" ry="3.9" fill="#d62728"/>
<ellipse cx="1850.2" cy="729.6" rx="7.2" ry="3.9" fill="#d62728"/>
<ellipse cx="1871.5" cy="737.3" rx="7.2" ry="3.9" fill="#d62728"/>
<ellipse cx="1892.8" cy="713.4" rx="7.2" ry="3.9" fill="#d62728"/>
<ellipse cx="1914" cy="665.8" rx="7.2" ry="3.9" fill="#d62728"/>
<g transform="scale(1.25,1)"><path d="M969 719.9 C969.7 724.5 970.3 728.8 971.2 733.8 C972.2 739.7 973.1 747.8 974.7 753.3 C975.9 757.4 976.9 761.2 979 763.9 C980.8 766.3 983.8 767.7 986.1 769.3 C988 770.6 990.4 773.3 991.8 772.8 C993.4 772.2 993.7 767.3 994.6 763.9 C995.7 759.8 995.6 750.2 997.4 749.7 C998.8 749.3 1001 755.2 1003.1 755.9 C1004.9 756.6 1007.4 756.3 1008.8 755.1 C1010.7 753.3 1010.2 746.4 1011.6 744.4 C1012.4 743.3 1013.7 742.3 1014.5 742.6 C1015.9 743.2 1016 751 1017.3 753.3 C1018.1 754.6 1019.1 755.1 1020.1 755.9 C1021.4 756.9 1023 757.6 1024.4 758.6 C1025.9 759.7 1027.2 761.2 1028.7 762.2 C1030 763 1031.7 762.6 1032.9 763.9 C1035 766.1 1035.8 776.3 1037.2 776.3 C1038.4 776.4 1039.5 770.2 1040.7 767.5 C1041.9 765 1043.1 760.3 1044.3 760.4 C1045.7 760.5 1047.2 772 1048.5 771.9 C1050.1 771.9 1051.9 761.9 1052.8 756.8 C1053.7 751.8 1053.5 747.2 1054.2 741.7 C1055.1 735 1056.6 726.2 1057.8 719.6 C1058.7 714 1059.4 704.6 1060.6 704.5 C1061.6 704.4 1063.1 710.2 1064.2 714.2 C1065.7 720.6 1066.4 731.6 1067.7 739.1 C1068.8 745.3 1070.3 756 1071.3 755.9 C1072.5 755.9 1073 738.7 1074.1 730.2 C1075.2 721.8 1076.4 712.2 1077.6 705.4 C1078.5 700.5 1079.4 693 1080.5 692.9 C1081.4 692.9 1082.5 698.5 1083.3 701.8 C1084.4 706 1085.2 712.3 1086.2 716 C1086.8 718.5 1087.4 722.2 1088.3 722.2 C1089.3 722.3 1090.6 714.3 1091.8 714.2 C1093 714.2 1094.4 721.5 1095.4 721.3 C1096.8 721.1 1097.4 711.3 1098.2 705.4 C1099.3 698 1099 685.6 1101.1 680.5 C1102.2 677.9 1104.2 677.6 1105.3 675.2 C1107 671.4 1107.2 665.1 1108.2 659.2 C1109.3 651.9 1110.5 642.5 1111.7 634.4 C1112.9 626.5 1114.1 619.1 1115.3 611.3 C1116.5 603.2 1117.3 593.1 1118.8 586.5 C1119.8 581.8 1120.6 577.7 1122.4 574.9 C1123.7 572.9 1126 570.2 1127.3 570.5 C1128.8 570.8 1129.7 575.1 1130.9 577.6 C1132.1 580.4 1132.6 585.5 1134.4 586.5 C1135.8 587.2 1138 585 1139.4 585.6 C1141.2 586.3 1142.5 588.9 1143.7 591.8 C1145.7 596.9 1146.2 607 1147.2 614.9 C1148.3 623 1148.9 632.6 1150 639.7 C1150.9 645.1 1151.7 649.5 1152.9 653.9 C1153.9 657.7 1155.4 660.2 1156.4 664.5 C1157.9 671 1158.6 681.3 1159.8 689.4 C1160.9 697.2 1162.1 705.3 1163.4 712.5 C1164.5 718.8 1165.8 730.2 1166.9 730.2 C1167.9 730.2 1168.6 719.3 1169.7 714.2 C1170.8 709.6 1172.4 706.1 1173.4 700.9 C1174.8 693.8 1175 683.4 1176.1 675.2 C1177.1 667.7 1177.6 654.4 1179.7 653.9 C1180.8 653.6 1182.3 659 1183.9 659.2 C1185.8 659.4 1188.8 656.2 1190.5 653.9 C1192.2 651.5 1192.8 648.5 1193.9 645 C1195.2 640.5 1196.3 629 1197.4 629.1 C1198.7 629.1 1199.8 642.6 1201 648.6 C1202 653.7 1202.5 658.9 1203.8 662.8 C1204.8 665.6 1206.5 670 1207.5 669.9 C1209.1 669.6 1209.8 657.4 1210.9 650.4 C1212.2 642.2 1213.3 631.5 1214.5 623.7 C1215.4 617.7 1216 608 1217.3 607.8 C1218.1 607.6 1219.4 611 1220.1 613.1 C1221.1 615.6 1221.5 621.9 1222.3 622 C1223 622 1223.9 618.6 1224.5 615.7 C1225.9 609.9 1226.1 594.9 1227.2 588.2 C1227.9 584.4 1228.6 579.4 1229.4 579.4 C1230.4 579.4 1230.9 594.4 1232.9 595.3 C1233.9 595.8 1235.4 594.9 1236.5 593.6 C1239.2 590 1239.9 567 1241.6 566.9 C1242.7 566.9 1244.1 574.4 1245 579.4 C1246.3 586.5 1246.8 597.8 1247.8 606 C1248.7 613 1249.3 620.3 1250.7 625.5 C1251.6 629.1 1253.1 630.6 1254.2 634.4 C1256 640.5 1257.2 650.7 1258.6 659.2 C1260.1 668.4 1261.5 678.5 1262.7 687.6 C1263.8 696.2 1264.7 703.9 1265.6 712.5 C1266.6 721.6 1267.2 733.4 1268.4 740.9 C1269.2 745.9 1270 749.3 1271.3 753.3 C1272.4 757 1274.4 764 1275.7 763.9 C1277.1 763.8 1278 753.6 1279.1 748 C1280.3 741.8 1280.9 733.6 1282.6 728.4 C1283.8 724.8 1285.4 722.8 1286.9 719.6 C1288.7 715.6 1291.1 711 1292.7 706.3 C1294.5 701 1294.4 691.3 1296.8 689.4 C1298 688.5 1299.9 690.3 1301.1 689.4 C1303.3 687.7 1303.8 679.6 1305.3 675.2 C1306.7 671.4 1308.5 667.7 1309.7 664.5 C1310.8 662 1311.6 657.4 1312.4 657.4 C1313.6 657.6 1314.4 667.5 1315.3 673.4 C1316.3 680.8 1317.1 691.4 1318.1 698.3 C1318.8 703.1 1319.5 710.7 1320.2 710.7 C1321.1 710.7 1321 694 1323.1 692.9 C1324.1 692.4 1325.5 693.9 1326.8 694.7 C1328.3 695.6 1330 698.4 1331.6 698.3 C1333.3 698.1 1335.2 695.4 1336.6 692.9 C1338.5 689.5 1339.2 681.8 1340.8 678.7 C1341.7 677 1342.9 675.1 1343.8 675.2 C1345 675.3 1346.2 679.5 1347.2 682.3 C1348.5 685.8 1349.3 691.5 1350.8 694.7 C1351.8 697 1353.4 700.2 1354.3 700 C1355.3 699.9 1355.5 693 1356.4 692.9 C1357.6 692.8 1359.5 698.5 1360.8 701.8 C1362.5 705.9 1364.1 711.3 1365.5 716 C1366.8 720.7 1367.9 725.5 1369 730.2 C1370.2 734.9 1371.4 740.2 1372.6 744.4 C1373.5 747.7 1374.6 753.3 1375.4 753.3 C1376.4 753.2 1377.1 746.4 1377.8 741.7 C1378.9 734.9 1379.1 723 1380.4 716 C1381.3 711.1 1382.4 703.9 1383.9 703.6 C1385 703.4 1386.5 705.9 1387.5 708 C1389.3 712 1389.7 720.9 1391 726.7 C1392.2 731.7 1393.5 737 1394.9 740.9 C1395.9 743.7 1396.9 745.5 1398.1 748 C1399.4 750.6 1401.2 756 1402.4 755.9 C1403.6 755.9 1404.4 751.3 1405.2 748 C1406.5 742.6 1406.3 731.5 1408.1 726.7 C1409.1 723.8 1410.6 720.5 1411.9 720.4 C1413.2 720.4 1414.4 725 1415.9 726.7 C1417.2 728.1 1419 730.6 1420.1 730.2 C1421.9 729.7 1422.6 721.8 1423.7 717.8 C1424.7 714.1 1425.2 709.1 1426.5 707.1 C1427.2 706.1 1428 706 1428.9 705.4 C1430.4 704.4 1432.9 703.6 1434.3 701.8 C1436.3 699.4 1437.4 695.3 1438.6 691.2 C1440.2 685.7 1441 678.8 1442.2 671.6 C1443.5 663.1 1444.7 651.8 1446 643.3 C1447.1 636.1 1447.6 627.5 1449.2 623.7 C1450.1 621.9 1451.3 620 1452.1 620.2 C1453.5 620.5 1454.1 628.8 1454.9 634.4 C1456.1 642.2 1456.7 654.2 1457.8 662.8 C1458.6 669.9 1459.3 677.9 1460.6 682.3 C1461.3 684.7 1461.8 687.2 1463 687.6 C1464.1 688 1465.8 685.4 1467 685.8 C1469 686.6 1470.6 696.7 1472 696.5 C1473.7 696.3 1474.2 683.5 1475.5 677 C1476.9 670.4 1477.6 658.7 1480.1 657.4 C1481.2 656.9 1482.9 657.8 1484 659.2 C1486.5 662.3 1486.3 680.2 1488.3 680.5 C1489.5 680.7 1491.4 673.2 1492.6 673.4 C1494 673.7 1494.6 682.6 1495.4 687.6 C1496.2 693.2 1495.8 700.5 1497.1 705.4 C1498 708.9 1499.4 711.5 1501.1 714.2 C1502.7 716.8 1504.6 719.3 1506.7 721.3 C1508.9 723.4 1512.5 727.3 1514.1 726.7 C1516.2 725.8 1515.7 717.2 1516.7 712.5 C1517.7 707.7 1518.7 702.1 1520.2 698.3 C1521.3 695.4 1523 691 1524.1 691.2 C1525.5 691.4 1526.5 699.9 1527.3 705.4 C1528.4 712.5 1528.8 722.2 1529.5 730.2 C1530.1 737.6 1530.5 744.3 1531.2 751.5 C1531.9 759 1532.6 769.1 1533.7 774.6 C1534.3 777.7 1535.1 779.3 1535.9 781.7" stroke="#1f77b4" stroke-width="3.7"/></g>
<path d="M1204.1 723.8 L1218.5 723.8 L1211.3 716Z" fill="#1f77b4"/>
<path d="M1225.4 773.2 L1239.8 773.2 L1232.6 765.4Z" fill="#1f77b4"/>
<path d="M1246.7 759.8 L1261.1 759.8 L1253.9 752Z" fill="#1f77b4"/>
<path d="M1268 759.8 L1282.4 759.8 L1275.2 752Z" fill="#1f77b4"/>
<path d="M1289.3 780.2 L1303.7 780.2 L1296.5 772.4Z" fill="#1f77b4"/>
<path d="M1310.6 745.6 L1325 745.6 L1317.8 737.8Z" fill="#1f77b4"/>
<path d="M1331.9 759.8 L1346.3 759.8 L1339.1 752Z" fill="#1f77b4"/>
<path d="M1353.1 726.1 L1367.6 726.1 L1360.4 718.3Z" fill="#1f77b4"/>
<path d="M1374.4 679.1 L1388.9 679.1 L1381.7 671.3Z" fill="#1f77b4"/>
<path d="M1395.7 578.8 L1410.2 578.8 L1403 571Z" fill="#1f77b4"/>
<path d="M1417 589.5 L1431.5 589.5 L1424.3 581.7Z" fill="#1f77b4"/>
<path d="M1438.3 668.4 L1452.8 668.4 L1445.5 660.6Z" fill="#1f77b4"/>
<path d="M1459.6 704.5 L1474.1 704.5 L1466.8 696.7Z" fill="#1f77b4"/>
<path d="M1480.9 657.7 L1495.4 657.7 L1488.1 649.9Z" fill="#1f77b4"/>
<path d="M1502.2 673.6 L1516.6 673.6 L1509.4 665.8Z" fill="#1f77b4"/>
<path d="M1523.5 619.3 L1537.9 619.3 L1530.7 611.5Z" fill="#1f77b4"/>
<path d="M1544.8 571 L1559.2 571 L1552 563.2Z" fill="#1f77b4"/>
<path d="M1566.1 663.4 L1580.5 663.4 L1573.3 655.6Z" fill="#1f77b4"/>
<path d="M1587.4 767.7 L1601.8 767.7 L1594.6 759.9Z" fill="#1f77b4"/>
<path d="M1608.7 710 L1623.1 710 L1615.9 702.2Z" fill="#1f77b4"/>
<path d="M1630 668.4 L1644.4 668.4 L1637.2 660.6Z" fill="#1f77b4"/>
<path d="M1651.3 698.6 L1665.7 698.6 L1658.5 690.8Z" fill="#1f77b4"/>
<path d="M1672.6 679.2 L1687 679.2 L1679.8 671.4Z" fill="#1f77b4"/>
<path d="M1693.9 705.8 L1708.3 705.8 L1701.1 698Z" fill="#1f77b4"/>
<path d="M1715.2 744.9 L1729.6 744.9 L1722.4 737.1Z" fill="#1f77b4"/>
<path d="M1736.5 744.9 L1750.9 744.9 L1743.7 737.1Z" fill="#1f77b4"/>
<path d="M1757.8 724.5 L1772.2 724.5 L1765 716.7Z" fill="#1f77b4"/>
<path d="M1779.1 709.2 L1793.5 709.2 L1786.3 701.4Z" fill="#1f77b4"/>
<path d="M1800.4 646.7 L1814.8 646.7 L1807.6 638.9Z" fill="#1f77b4"/>
<path d="M1821.6 691.5 L1836.1 691.5 L1828.9 683.7Z" fill="#1f77b4"/>
<path d="M1842.9 661.4 L1857.4 661.4 L1850.2 653.6Z" fill="#1f77b4"/>
<path d="M1864.2 709.4 L1878.7 709.4 L1871.5 701.6Z" fill="#1f77b4"/>
<path d="M1885.5 730.2 L1900 730.2 L1892.8 722.4Z" fill="#1f77b4"/>
<path d="M1906.8 756 L1921.3 756 L1914 748.2Z" fill="#1f77b4"/>
<path d="M1211.3 719.9 C1211.9 723.3 1212.3 726.3 1213.1 730.2 C1214 735.3 1215.4 742.4 1216.6 748 C1217.7 753 1218.2 758.7 1220.2 762.2 C1221.6 764.6 1223.4 766.9 1225.5 767.5 C1227.6 768 1230.3 766 1232.6 765.7 C1234.7 765.4 1237.1 766.8 1238.8 765.7 C1241.1 764.2 1241.8 759 1243.2 755.1 C1245 750.3 1246.5 739.5 1248.6 739.1 C1249.9 738.8 1251.7 742.4 1253 744.4 C1254.4 746.5 1255.2 751.3 1256.5 751.5 C1257.8 751.7 1259.7 748.4 1261 746.2 C1262.7 743.3 1264.2 735.4 1265.4 735.5 C1266.6 735.6 1267.2 742 1268.1 746.2 C1269.3 752 1270.1 760.7 1271.6 767.5 C1273.1 773.7 1275.1 780.1 1277 785.2 C1278.4 789.3 1279.6 793.9 1281.4 795.9 C1282.5 797 1284 798.1 1284.9 797.6 C1286.9 796.6 1286.5 785.7 1287.2 779.9 C1288 774.4 1288.4 769.2 1289.4 763.9 C1290.3 758.6 1290.8 750.1 1292.9 748 C1293.9 746.9 1295.3 747.9 1296.5 747.1 C1298.3 745.8 1300.3 742.4 1301.8 739.1 C1303.8 734.5 1304.9 727.1 1306.2 721.3 C1307.5 715.9 1308.4 710.5 1309.8 705.4 C1311.1 700.5 1312.5 695.7 1314.2 691.2 C1315.8 686.8 1318.1 683.4 1319.5 678.7 C1321.3 673.1 1320.9 660.1 1323.1 659.2 C1324.3 658.8 1326.1 661.6 1327.5 662.8 C1329 664 1330.6 666.6 1332 666.3 C1334 665.9 1335.1 656.2 1337.3 655.7 C1338.9 655.3 1340.9 657.8 1342.6 659.2 C1344.5 660.7 1346.5 664.8 1347.9 664.5 C1349.4 664.3 1350.5 660.4 1351.5 657.4 C1352.9 653.3 1353.3 647.1 1354.2 641.5 C1355.1 635.3 1355.9 628.1 1356.8 622 C1357.7 616.4 1358.3 611.1 1359.5 606 C1360.6 601.1 1362.1 596.6 1363.9 591.8 C1365.9 586.6 1368.9 581 1371 575.8 C1373 571 1374.1 565.1 1376.3 561.6 C1377.9 559.2 1379.8 557.3 1381.7 556.3 C1383.1 555.5 1384.9 554.6 1386.1 555.4 C1388.3 556.8 1387.7 569.8 1389.6 570.5 C1390.8 570.9 1392.5 568.1 1394.1 566.9 C1395.8 565.7 1398.1 562.7 1399.4 563.4 C1402.3 564.8 1401 584.8 1402.1 593.6 C1402.9 600.3 1404 605.5 1404.7 611.3 C1405.4 616.8 1405 622.9 1406.5 627.3 C1407.7 630.8 1409.9 634 1411.8 636.2 C1413.2 637.8 1415.2 637.7 1416.3 639.7 C1418.2 643.2 1417.5 651.4 1418 657.4 C1418.6 663.8 1419.2 669.9 1419.8 677 C1420.6 685.6 1420 703.1 1422.5 705.4 C1423.2 706 1424.4 706 1425.1 705.4 C1427 703.8 1426.1 692.7 1427.8 689.4 C1428.7 687.6 1430.3 685.7 1431.3 685.8 C1432.4 686 1433.3 688.7 1434 691.2 C1435.3 695.8 1433.7 708.5 1435.8 712.5 C1436.9 714.5 1438.7 714.7 1440.2 716 C1442 717.6 1444.3 718.7 1445.5 721.3 C1447.4 725.3 1446 733.1 1447.1 739.1 C1448.2 745.5 1450.8 758.7 1452.4 758.6 C1454.3 758.5 1456.1 739.5 1457.7 732 C1459 726.5 1460.1 722.7 1461.3 717.8 C1462.5 712.6 1462.1 704.5 1464.8 701.8 C1466.8 699.9 1471.1 701.7 1472.8 700 C1474.7 698.3 1474.6 694.6 1475.5 691.2 C1476.7 686.6 1477.4 680.3 1479 675.2 C1480.7 670.2 1482.7 661.4 1485.3 661 C1487.5 660.6 1490.7 669.6 1493.2 669.9 C1495.1 670.1 1497.2 668.5 1498.6 666.3 C1501 662.4 1500.1 651.8 1501.2 645 C1502.2 638.8 1502.7 628.3 1504.8 627.3 C1505.8 626.8 1507.3 627.6 1508.3 629.1 C1511.6 634.1 1509.8 663.4 1511 675.2 C1511.7 682.5 1512.7 687.2 1513.6 692.9 C1514.5 698.4 1515.4 703.4 1516.3 708.9 C1517.2 714.7 1518 721.1 1519 726.7 C1519.8 731.7 1519.1 738.8 1521.6 740.9 C1523.6 742.5 1528.1 742.4 1530.5 740.9 C1533.6 738.8 1535 731.7 1536.7 726.7 C1538.6 721.1 1540.1 714.7 1541.2 708.9 C1542.1 703.5 1542.2 698.4 1542.9 692.9 C1543.7 687.2 1544.8 681 1545.6 675.2 C1546.3 669.7 1546.7 664.7 1547.4 659.2 C1548.1 653.5 1548.6 647 1550 641.5 C1551.3 636.4 1553.1 631.9 1555.4 627.3 C1557.7 622.4 1561.3 616.5 1564.2 613.1 C1566.3 610.7 1568.4 607.4 1570.4 607.8 C1573.2 608.3 1576 621.9 1578.4 622 C1580.3 622 1581.4 614.1 1583.7 613.1 C1585.7 612.3 1588.9 613.2 1590.8 614.9 C1593.6 617.3 1594.7 624 1596.2 629.1 C1597.7 634.6 1597.4 646 1599.7 646.8 C1601.3 647.3 1604.4 640.9 1605.9 641.5 C1608.2 642.4 1607.7 654.6 1608.6 661 C1609.5 667.1 1610.1 673.2 1611.3 678.7 C1612.3 683.8 1613.4 692.9 1614.8 692.9 C1616.1 693 1618 680.4 1619.2 680.5 C1620.8 680.7 1621.7 695.4 1622.8 701.8 C1623.7 707 1623.8 715.6 1625.4 716 C1626.7 716.3 1629.3 711.9 1630.8 708.9 C1632.8 704.8 1632.7 694.9 1635.2 692.9 C1636.6 691.9 1639 692.6 1640.5 692.9 C1641.9 693.3 1643.1 693.5 1644.1 694.7 C1646 697.1 1646.5 703.6 1647.6 708.9 C1649.1 715.7 1649.8 731.3 1652.1 732 C1653.1 732.3 1654.6 730.3 1655.6 728.4 C1657.7 724.5 1656.8 707.9 1659.2 707.1 C1660.5 706.7 1663.1 712.9 1664.5 712.5 C1667 711.7 1667 696.1 1668.9 689.4 C1670.4 684 1672.7 675.1 1674.3 675.2 C1675.9 675.3 1677.7 685.8 1678.7 691.2 C1679.7 696.5 1678.5 703.9 1680.5 707.1 C1681.7 709.2 1684.5 711.3 1685.8 710.7 C1687.9 709.8 1687.4 700.3 1688.4 694.7 C1689.7 688.5 1690 679.4 1692.9 675.2 C1694.9 672.3 1699.1 669 1701 669.9 C1703.8 671.1 1702 685.1 1704.2 689.4 C1705.5 692 1708.1 692.4 1709.5 694.7 C1711.2 697.5 1712.1 701.5 1713.1 705.4 C1714.2 709.7 1714.8 719.6 1715.7 719.6 C1716.9 719.5 1718.2 700.9 1719.3 694.7 C1719.9 691 1720.4 689.2 1721.1 685.8 C1721.9 681.3 1722.5 675 1723.7 669.9 C1724.9 665 1726.5 660.5 1728.2 655.7 C1730 650.5 1731.7 644.3 1734.4 639.7 C1736.8 635.6 1741.3 633.3 1743.2 629.1 C1745.3 624.5 1745 618.4 1745.9 613.1 C1746.8 607.8 1747.7 602.6 1748.6 597.1 C1749.5 591.4 1750.3 585.1 1751.2 579.4 C1752.1 573.9 1752.7 568.7 1753.9 563.4 C1755.1 558 1756 548.6 1758.3 547.4 C1759.6 546.8 1761.4 548.3 1762.8 549.2 C1764.1 550.1 1765.3 550.9 1766.3 552.7 C1768.1 556 1768.7 563.4 1769.9 568.7 C1771 574 1772.4 579.2 1773.4 584.7 C1774.5 590.4 1774.1 601.7 1776.1 602.4 C1777.2 602.9 1779.5 600.7 1780.5 598.9 C1781.9 596.4 1780.4 590 1782.3 588.2 C1783.8 586.8 1787.7 586.1 1789.4 587.4 C1791.9 589.3 1791 598.7 1792 604.2 C1793.1 609.6 1794.3 614.9 1795.6 620.2 C1796.9 625.5 1798.6 631.2 1800 636.2 C1801.3 640.6 1801.5 647.9 1803.6 648.6 C1805.3 649.2 1808.9 642.8 1810.7 643.3 C1812.4 643.7 1813.1 650.5 1814.2 650.4 C1816.1 650.2 1817.6 630.9 1819.5 630.8 C1821.2 630.8 1823 644.9 1824.9 645 C1826.6 645.1 1828.3 634.6 1830.2 634.4 C1831.9 634.2 1833.6 641.4 1835.5 641.5 C1837.7 641.5 1840.8 632.2 1842.6 632.6 C1844.9 633.1 1845.6 643.3 1847.1 648.6 C1848.5 653.9 1849.2 662 1851.5 664.5 C1852.7 665.9 1854.7 665 1855.9 666.3 C1858.1 668.7 1859.2 675.8 1860.4 680.5 C1861.5 685.2 1862.2 689.8 1863 694.7 C1863.9 699.9 1863.6 707.5 1865.7 710.7 C1867 712.7 1869.4 714.7 1871 714.2 C1873.2 713.7 1874.8 706.1 1876.3 703.6 C1877.3 702 1878.2 701.8 1879 700 C1880.7 696.5 1881.9 688 1883.4 682.3 C1884.9 676.8 1886.5 666.3 1887.9 666.3 C1889.5 666.4 1890 687.1 1892.3 687.6 C1893.8 687.9 1895.3 681.7 1897.6 680.5 C1899.8 679.4 1903.6 682.1 1905.6 680.5 C1908.6 678.2 1908.6 669 1910.1 662.8 C1911.6 656 1912.6 646.1 1914.5 641.5 C1915.5 639 1916.7 637.4 1918 636.2 C1919 635.2 1920.2 635 1921.2 634.4" stroke="#000" stroke-width="4.3" stroke-dasharray="15.5 11.5" stroke-linecap="butt"/>
</g>
<rect x="1175.4" y="528.9" width="781.8" height="343.4" fill="none" stroke="#000" stroke-width="1.7"/>
<path d="M1211.6 872.3 v3.6 M1300.3 872.3 v3.6 M1389 872.3 v3.6 M1477.7 872.3 v3.6 M1566.4 872.3 v3.6 M1655.1 872.3 v3.6 M1743.8 872.3 v3.6 M1832.5 872.3 v3.6 M1921.2 872.3 v3.6 M1175.4 832.1 h-4 M1175.4 775.9 h-4 M1175.4 719.7 h-4 M1175.4 663.5 h-4 M1175.4 607.3 h-4 M1175.4 551.1 h-4" stroke="#000" stroke-width="1.4" fill="none"/>
<path d="M1176.1 872.3 v1.4 M1193.9 872.3 v1.4 M1211.6 872.3 v1.4 M1229.3 872.3 v1.4 M1247.1 872.3 v1.4 M1264.8 872.3 v1.4 M1282.6 872.3 v1.4 M1300.3 872.3 v1.4 M1318 872.3 v1.4 M1335.8 872.3 v1.4 M1353.5 872.3 v1.4 M1371.3 872.3 v1.4 M1389 872.3 v1.4 M1406.7 872.3 v1.4 M1424.5 872.3 v1.4 M1442.2 872.3 v1.4 M1460 872.3 v1.4 M1477.7 872.3 v1.4 M1495.4 872.3 v1.4 M1513.2 872.3 v1.4 M1530.9 872.3 v1.4 M1548.7 872.3 v1.4 M1566.4 872.3 v1.4 M1584.1 872.3 v1.4 M1601.9 872.3 v1.4 M1619.6 872.3 v1.4 M1637.4 872.3 v1.4 M1655.1 872.3 v1.4 M1672.8 872.3 v1.4 M1690.6 872.3 v1.4 M1708.3 872.3 v1.4 M1726.1 872.3 v1.4 M1743.8 872.3 v1.4 M1761.5 872.3 v1.4 M1779.3 872.3 v1.4 M1797 872.3 v1.4 M1814.8 872.3 v1.4 M1832.5 872.3 v1.4 M1850.2 872.3 v1.4 M1868 872.3 v1.4 M1885.7 872.3 v1.4 M1903.5 872.3 v1.4 M1921.2 872.3 v1.4 M1938.9 872.3 v1.4 M1956.7 872.3 v1.4 M1175.4 860.2 h-1.8 M1175.4 846.2 h-1.8 M1175.4 832.1 h-1.8 M1175.4 818.1 h-1.8 M1175.4 804 h-1.8 M1175.4 790 h-1.8 M1175.4 775.9 h-1.8 M1175.4 761.9 h-1.8 M1175.4 747.8 h-1.8 M1175.4 733.8 h-1.8 M1175.4 719.7 h-1.8 M1175.4 705.6 h-1.8 M1175.4 691.6 h-1.8 M1175.4 677.6 h-1.8 M1175.4 663.5 h-1.8 M1175.4 649.5 h-1.8 M1175.4 635.4 h-1.8 M1175.4 621.4 h-1.8 M1175.4 607.3 h-1.8 M1175.4 593.2 h-1.8 M1175.4 579.2 h-1.8 M1175.4 565.2 h-1.8 M1175.4 551.1 h-1.8 M1175.4 537.1 h-1.8" stroke="#000" stroke-width="0.8" fill="none"/>
<text x="1117" y="844.4" font-size="36.3" text-anchor="start" textLength="45" lengthAdjust="spacingAndGlyphs" >0.6</text>
<text x="1117" y="732" font-size="36.3" text-anchor="start" textLength="45" lengthAdjust="spacingAndGlyphs" >1.0</text>
<text x="1117" y="619.6" font-size="36.3" text-anchor="start" textLength="45" lengthAdjust="spacingAndGlyphs" >1.4</text>
<text x="1198.4" y="929.6" font-size="36.3" text-anchor="start" textLength="18" lengthAdjust="spacingAndGlyphs" >0</text>
<text x="1370.7" y="929.6" font-size="36.3" text-anchor="start" textLength="35.5" lengthAdjust="spacingAndGlyphs" >20</text>
<text x="1546.8" y="929.6" font-size="36.3" text-anchor="start" textLength="35.5" lengthAdjust="spacingAndGlyphs" >40</text>
<text x="1722.9" y="929.6" font-size="36.3" text-anchor="start" textLength="35.5" lengthAdjust="spacingAndGlyphs" >60</text>
<text x="1894.6" y="929.6" font-size="36.3" text-anchor="start" textLength="35.5" lengthAdjust="spacingAndGlyphs" >80</text>
<text x="1527.6" y="977.5" font-size="40.5" text-anchor="start" textLength="85" lengthAdjust="spacingAndGlyphs" >Time</text>
<text transform="translate(1098,750.9) rotate(-90)" font-style="italic" font-size="37.5"><tspan x="0">Z</tspan><tspan x="22.9" dy="7" font-size="28">t</tspan><tspan x="37.2" dy="0.5" font-size="49" font-style="normal">/</tspan><tspan x="54.2" dy="-7.5" font-size="37.5">Z</tspan><tspan x="76.4" dy="7.5" font-size="27" font-style="normal">0</tspan></text>
<text x="1033.5" y="49.2" font-size="50" textLength="59" lengthAdjust="spacingAndGlyphs"><tspan font-size="55">(</tspan>b<tspan font-size="55">)</tspan></text>
</g>
<g id="panel-c">
<path d="M112.7 1169.5 V1771.5 M462.7 1169.5 V1771.5 M86.5 1179.2 H660.7 M86.5 1263.9 H660.7 M86.5 1348.6 H660.7 M86.5 1433.3 H660.7 M86.5 1518 H660.7 M86.5 1602.7 H660.7 M86.5 1687.4 H660.7" stroke="#b0b0b0" stroke-width="1.35" fill="none"/>
<clipPath id="clipC1"><rect x="86.5" y="1169.5" width="574.2" height="602"/></clipPath>
<g clip-path="url(#clipC1)" fill="none" stroke-linejoin="round" stroke-linecap="butt">
<path d="M112.7 1205.4 L218.1 1195.1 L279.4 1213.4 L323.1 1232.3 L357.2 1277.8 L385.1 1307.1 L408.6 1330.5 L429.9 1353.6 L446.8 1374.2 L462.6 1392.5 L477.1 1405.2 L502.3 1431.1 L533.3 1460.4 L557.4 1484.5 L576.3 1503.4 L593.5 1524.1 L609 1546.5 L622.8 1567.1 L634.9 1586.1" stroke="#ff7f0e" stroke-width="10.0"/>
<rect x="107" y="1199.7" width="11.5" height="11.5" fill="#ff7f0e"/>
<rect x="379.3" y="1301.2" width="11.5" height="11.5" fill="#ff7f0e"/>
<rect x="471.4" y="1399.6" width="11.5" height="11.5" fill="#ff7f0e"/>
<rect x="528.4" y="1455.5" width="11.5" height="11.5" fill="#ff7f0e"/>
<rect x="569.7" y="1496.8" width="11.5" height="11.5" fill="#ff7f0e"/>
<rect x="602.2" y="1539.1" width="11.5" height="11.5" fill="#ff7f0e"/>
<rect x="628.9" y="1580" width="11.5" height="11.5" fill="#ff7f0e"/>
<path d="M112.7 1229.6 L218.1 1219.9 L279.4 1237.5 L323.1 1233.7 L357.2 1298.5 L385.1 1329.5 L408.6 1360.5 L428.9 1386.3 L446.8 1415.6 L462.6 1443.1 L477.1 1462.1 L490.2 1481 L502.3 1500 L513.6 1518.9 L524.3 1537.9 L533.3 1555.1 L552.2 1589.5 L567.7 1617.1 L576.3 1632.6 L593.5 1667 L609 1698 L622.8 1725.6 L634.9 1744.5" stroke="#e377c2" stroke-width="12.5"/>
<path d="M104.4 1229.6 L112.7 1221.3 L121 1229.6 L112.7 1237.9Z" fill="#e377c2"/>
<path d="M376.8 1329.4 L385.1 1321.1 L393.3 1329.4 L385.1 1337.7Z" fill="#e377c2"/>
<path d="M468.9 1462.2 L477.2 1453.9 L485.5 1462.2 L477.2 1470.5Z" fill="#e377c2"/>
<path d="M525.8 1556.7 L534.1 1548.4 L542.4 1556.7 L534.1 1565Z" fill="#e377c2"/>
<path d="M567.2 1631.1 L575.5 1622.8 L583.8 1631.1 L575.5 1639.4Z" fill="#e377c2"/>
<path d="M599.6 1695.8 L607.9 1687.5 L616.2 1695.8 L607.9 1704.1Z" fill="#e377c2"/>
<path d="M626.4 1744.2 L634.7 1735.9 L643 1744.2 L634.7 1752.5Z" fill="#e377c2"/>
<path d="M112.7 1202.7 L218.1 1197.2 L279.4 1214.4 L323.1 1232.3 L357.2 1279.5 L385.1 1308.8 L408.6 1332.9 L429.9 1357 L446.8 1378.4 L462.6 1396.6 L477.1 1412.8 L502.3 1441.8 L533.3 1475.9 L552.2 1501.7 L567.7 1520.6 L576.3 1531 L593.5 1556.8 L609 1582.6 L622.8 1610.2 L636.6 1636" stroke="#d62728" stroke-width="4.0"/>
<ellipse cx="112.7" cy="1202.7" rx="4.6" ry="4.6" fill="#d62728"/>
<ellipse cx="385.1" cy="1308.7" rx="4.6" ry="4.6" fill="#d62728"/>
<ellipse cx="477.2" cy="1412.9" rx="4.6" ry="4.6" fill="#d62728"/>
<ellipse cx="534.1" cy="1477.1" rx="4.6" ry="4.6" fill="#d62728"/>
<ellipse cx="575.5" cy="1530" rx="4.6" ry="4.6" fill="#d62728"/>
<ellipse cx="607.9" cy="1580.8" rx="4.6" ry="4.6" fill="#d62728"/>
<ellipse cx="634.7" cy="1632.4" rx="4.6" ry="4.6" fill="#d62728"/>
<path d="M112.7 1204.8 L218.1 1203.7 L279.4 1219.9 L305.9 1228.9 L323.1 1232.3 L357.2 1279.5 L385.1 1308.8 L408.6 1332.9 L429.9 1357 L446.8 1378.4 L462.6 1397.7 L477.1 1414.9 L502.3 1443.8 L513.6 1457.6 L533.3 1479.3 L552.2 1505.1 L567.7 1524.1 L576.3 1535.5 L593.5 1562 L609 1589.5 L622.8 1618.8 L634.9 1646.4" stroke="#1f77b4" stroke-width="5.8"/>
<path d="M107 1210.5 L118.5 1210.5 L112.7 1199Z" fill="#1f77b4"/>
<path d="M379.3 1314.5 L390.8 1314.5 L385.1 1303Z" fill="#1f77b4"/>
<path d="M471.4 1420.7 L482.9 1420.7 L477.2 1409.2Z" fill="#1f77b4"/>
<path d="M528.4 1486.3 L539.9 1486.3 L534.1 1474.8Z" fill="#1f77b4"/>
<path d="M569.7 1540.1 L581.2 1540.1 L575.5 1528.6Z" fill="#1f77b4"/>
<path d="M602.2 1593.3 L613.7 1593.3 L607.9 1581.8Z" fill="#1f77b4"/>
<path d="M628.9 1651.7 L640.4 1651.7 L634.7 1640.2Z" fill="#1f77b4"/>
<path d="M112.7 1206.5 L218.1 1196.1 L279.4 1214.1 L323.1 1232.3 L357.2 1279.5 L385.1 1308.8 L408.6 1332.9 L429.9 1357 L446.8 1378.4 L462.6 1396.6 L477.1 1413.9 L502.3 1443.1 L513.6 1456.9 L533.3 1479.3 L552.2 1505.1 L567.7 1524.1 L576.3 1536.1 L593.5 1563 L609 1590.6 L622.8 1619.5 L634.9 1646.4" stroke="#000" stroke-width="6.3" stroke-dasharray="24 18" stroke-dashoffset="41.8"/>
</g>
<path d="M86.5 1169.5 H660.7 V1763.8 M86.5 1169.5 V1771.5 H652.9" stroke="#000" stroke-width="1.5" fill="none"/>
<path d="M96.7 1771.5 v2.7 M112.7 1771.5 v4.5 M218.1 1771.5 v2.7 M279.7 1771.5 v2.7 M323.4 1771.5 v2.7 M357.3 1771.5 v2.7 M385.1 1771.5 v2.7 M408.5 1771.5 v2.7 M428.8 1771.5 v2.7 M446.7 1771.5 v2.7 M462.7 1771.5 v4.5 M568.1 1771.5 v2.7 M629.7 1771.5 v2.7 M86.5 1179.2 h-4 M86.5 1263.9 h-4 M86.5 1238.4 h-2.7 M86.5 1223.5 h-2.7 M86.5 1212.9 h-2.7 M86.5 1204.7 h-2.7 M86.5 1198 h-2.7 M86.5 1192.3 h-2.7 M86.5 1187.4 h-2.7 M86.5 1183.1 h-2.7 M86.5 1348.6 h-4 M86.5 1323.1 h-2.7 M86.5 1308.2 h-2.7 M86.5 1297.6 h-2.7 M86.5 1289.4 h-2.7 M86.5 1282.7 h-2.7 M86.5 1277 h-2.7 M86.5 1272.1 h-2.7 M86.5 1267.8 h-2.7 M86.5 1433.3 h-4 M86.5 1407.8 h-2.7 M86.5 1392.9 h-2.7 M86.5 1382.3 h-2.7 M86.5 1374.1 h-2.7 M86.5 1367.4 h-2.7 M86.5 1361.7 h-2.7 M86.5 1356.8 h-2.7 M86.5 1352.5 h-2.7 M86.5 1518 h-4 M86.5 1492.5 h-2.7 M86.5 1477.6 h-2.7 M86.5 1467 h-2.7 M86.5 1458.8 h-2.7 M86.5 1452.1 h-2.7 M86.5 1446.4 h-2.7 M86.5 1441.5 h-2.7 M86.5 1437.2 h-2.7 M86.5 1602.7 h-4 M86.5 1577.2 h-2.7 M86.5 1562.3 h-2.7 M86.5 1551.7 h-2.7 M86.5 1543.5 h-2.7 M86.5 1536.8 h-2.7 M86.5 1531.1 h-2.7 M86.5 1526.2 h-2.7 M86.5 1521.9 h-2.7 M86.5 1687.4 h-4 M86.5 1661.9 h-2.7 M86.5 1647 h-2.7 M86.5 1636.4 h-2.7 M86.5 1628.2 h-2.7 M86.5 1621.5 h-2.7 M86.5 1615.8 h-2.7 M86.5 1610.9 h-2.7 M86.5 1606.6 h-2.7 M86.5 1746.6 h-2.7 M86.5 1731.7 h-2.7 M86.5 1721.1 h-2.7 M86.5 1712.9 h-2.7 M86.5 1706.2 h-2.7 M86.5 1700.5 h-2.7 M86.5 1695.6 h-2.7 M86.5 1691.3 h-2.7" stroke="#000" stroke-width="1.25" fill="none"/>
<text x="22.2" y="1199.9" font-size="35.5">10<tspan font-size="24.5" dy="-10.8" dx="0.5">0</tspan></text>
<text x="19.9" y="1365.8" font-size="35.5">10<tspan font-size="24.5" dy="-10.8" dx="0.5">-2</tspan></text>
<text x="19.9" y="1535.2" font-size="35.5">10<tspan font-size="24.5" dy="-10.8" dx="0.5">-4</tspan></text>
<text x="19.9" y="1704.6" font-size="35.5">10<tspan font-size="24.5" dy="-10.8" dx="0.5">-6</tspan></text>
<text x="94" y="1830" font-size="35.5">10<tspan font-size="24.5" dy="-10.8" dx="0.5">0</tspan></text>
<text x="443.4" y="1826" font-size="35.5">10<tspan font-size="24.5" dy="-10.8" dx="0.5">1</tspan></text>
<text x="243.8" y="1872.5" font-size="41" textLength="261.5" lengthAdjust="spacingAndGlyphs">Wavenumber <tspan font-style="italic" font-size="44" stroke="#000" stroke-width="0.6">ν</tspan></text>
<g><text transform="translate(549.1,1237.2) scale(0.81,1)" font-size="50.8" stroke="#000" stroke-width="0.7">E</text><text x="576" y="1248" font-size="41" font-style="italic" stroke="#000" stroke-width="0.5">ν</text></g>
<path d="M780.6 1170 V1771.5 M1129.6 1170 V1771.5 M755.1 1270.2 H1326.9 M755.1 1397.9 H1326.9 M755.1 1525.6 H1326.9 M755.1 1653.3 H1326.9" stroke="#b0b0b0" stroke-width="1.35" fill="none"/>
<clipPath id="clipC2"><rect x="755.1" y="1170" width="571.8" height="601.5"/></clipPath>
<g clip-path="url(#clipC2)" fill="none" stroke-linejoin="round" stroke-linecap="butt">
<path d="M780.6 1295 L885.6 1214.4 L947 1209.9 L990.7 1199.2 L1024.5 1243.3 L1052 1264 L1075.5 1284.7 L1095.8 1301.9 L1113.7 1319.1 L1129.5 1334.6 L1144 1343.2 L1172.6 1363.9 L1200.8 1386.3 L1222.5 1403.5 L1241.8 1422.5 L1258.7 1439.7 L1274.2 1462.1 L1288 1481 L1301.1 1503.4" stroke="#ff7f0e" stroke-width="10.0"/>
<rect x="774.9" y="1289.3" width="11.5" height="11.5" fill="#ff7f0e"/>
<rect x="1046.4" y="1258.4" width="11.5" height="11.5" fill="#ff7f0e"/>
<rect x="1138.3" y="1337.5" width="11.5" height="11.5" fill="#ff7f0e"/>
<rect x="1195.1" y="1380.5" width="11.5" height="11.5" fill="#ff7f0e"/>
<rect x="1236.3" y="1416.9" width="11.5" height="11.5" fill="#ff7f0e"/>
<rect x="1268.7" y="1456.6" width="11.5" height="11.5" fill="#ff7f0e"/>
<rect x="1295.3" y="1497.7" width="11.5" height="11.5" fill="#ff7f0e"/>
<path d="M780.6 1334.6 L885.6 1248.5 L947 1235.8 L990.7 1201.3 L1024.5 1270.9 L1052 1300.2 L1075.5 1331.2 L1095.8 1357 L1113.7 1384.6 L1129.5 1412.1 L1144 1434.5 L1172.6 1482.7 L1200.8 1531 L1222.5 1574 L1241.8 1611.9 L1258.7 1653.3 L1274.2 1691.2 L1288 1718.7 L1301.1 1741.1" stroke="#e377c2" stroke-width="11.0"/>
<path d="M772.3 1334.6 L780.6 1326.3 L788.9 1334.6 L780.6 1342.9Z" fill="#e377c2"/>
<path d="M1043.9 1300.4 L1052.2 1292.1 L1060.5 1300.4 L1052.2 1308.7Z" fill="#e377c2"/>
<path d="M1135.8 1434.6 L1144 1426.3 L1152.3 1434.6 L1144 1442.9Z" fill="#e377c2"/>
<path d="M1192.5 1531 L1200.8 1522.7 L1209.1 1531 L1200.8 1539.3Z" fill="#e377c2"/>
<path d="M1233.8 1612.5 L1242.1 1604.2 L1250.3 1612.5 L1242.1 1620.8Z" fill="#e377c2"/>
<path d="M1266.1 1691.6 L1274.4 1683.3 L1282.7 1691.6 L1274.4 1699.9Z" fill="#e377c2"/>
<path d="M1292.8 1741.1 L1301.1 1732.8 L1309.4 1741.1 L1301.1 1749.4Z" fill="#e377c2"/>
<path d="M780.6 1291.6 L885.6 1217.5 L947 1207.2 L990.7 1199.2 L1024.5 1241.6 L1052 1265.7 L1075.5 1288.1 L1095.8 1305.3 L1113.7 1326 L1129.5 1343.2 L1144 1354.3 L1172.6 1380.1 L1201.9 1408.7 L1222.5 1435.2 L1242.5 1460.4 L1258.7 1486.2 L1275.9 1517.2 L1288 1546.5 L1301.8 1579.2" stroke="#d62728" stroke-width="4.0"/>
<ellipse cx="780.6" cy="1291.6" rx="4.6" ry="4.6" fill="#d62728"/>
<ellipse cx="1052.2" cy="1265.9" rx="4.6" ry="4.6" fill="#d62728"/>
<ellipse cx="1144" cy="1354.3" rx="4.6" ry="4.6" fill="#d62728"/>
<ellipse cx="1200.8" cy="1407.7" rx="4.6" ry="4.6" fill="#d62728"/>
<ellipse cx="1242.1" cy="1459.8" rx="4.6" ry="4.6" fill="#d62728"/>
<ellipse cx="1274.4" cy="1514.5" rx="4.6" ry="4.6" fill="#d62728"/>
<ellipse cx="1301.1" cy="1577.6" rx="4.6" ry="4.6" fill="#d62728"/>
<path d="M780.6 1296.7 L885.6 1222.7 L947 1210.6 L990.7 1200.3 L1024.5 1241.6 L1052 1266.8 L1075.5 1289.2 L1095.8 1307.1 L1113.7 1327.7 L1129.5 1346 L1144 1358.7 L1172.6 1383.9 L1200.8 1413.2 L1222.5 1439.7 L1241.8 1465.5 L1258.7 1492 L1274.2 1521.7 L1288 1552.7 L1301.1 1587.8" stroke="#1f77b4" stroke-width="5.8"/>
<path d="M774.9 1302.5 L786.4 1302.5 L780.6 1291Z" fill="#1f77b4"/>
<path d="M1046.4 1272.7 L1057.9 1272.7 L1052.2 1261.2Z" fill="#1f77b4"/>
<path d="M1138.3 1364.5 L1149.8 1364.5 L1144 1353Z" fill="#1f77b4"/>
<path d="M1195.1 1418.9 L1206.6 1418.9 L1200.8 1407.4Z" fill="#1f77b4"/>
<path d="M1236.3 1471.6 L1247.8 1471.6 L1242.1 1460.1Z" fill="#1f77b4"/>
<path d="M1268.7 1527.9 L1280.2 1527.9 L1274.4 1516.4Z" fill="#1f77b4"/>
<path d="M1295.3 1593.6 L1306.8 1593.6 L1301.1 1582.1Z" fill="#1f77b4"/>
<path d="M780.6 1296.7 L885.6 1214.1 L947 1204.8 L990.7 1198.6 L1024.5 1241.6 L1052 1265.7 L1075.5 1288.1 L1095.8 1305.3 L1113.7 1326 L1129.5 1343.2 L1144 1357 L1172.6 1382.9 L1200.8 1412.1 L1222.5 1439.7 L1241.8 1465.5 L1258.7 1493.1 L1274.2 1522.4 L1288 1553.4 L1301.1 1587.8" stroke="#000" stroke-width="6.3" stroke-dasharray="24 18" stroke-dashoffset="36.2"/>
</g>
<path d="M755.1 1771.5 V1170 H1326.9 V1771.5" stroke="#000" stroke-width="1.5" fill="none"/>
<path d="M755.1 1270.2 h-4 M755.1 1231.8 h-2.7 M755.1 1209.3 h-2.7 M755.1 1193.3 h-2.7 M755.1 1180.9 h-2.7 M755.1 1170.8 h-2.7 M755.1 1397.9 h-4 M755.1 1359.5 h-2.7 M755.1 1337 h-2.7 M755.1 1321 h-2.7 M755.1 1308.6 h-2.7 M755.1 1298.5 h-2.7 M755.1 1290 h-2.7 M755.1 1282.6 h-2.7 M755.1 1276 h-2.7 M755.1 1525.6 h-4 M755.1 1487.2 h-2.7 M755.1 1464.7 h-2.7 M755.1 1448.7 h-2.7 M755.1 1436.3 h-2.7 M755.1 1426.2 h-2.7 M755.1 1417.7 h-2.7 M755.1 1410.3 h-2.7 M755.1 1403.7 h-2.7 M755.1 1653.3 h-4 M755.1 1614.9 h-2.7 M755.1 1592.4 h-2.7 M755.1 1576.4 h-2.7 M755.1 1564 h-2.7 M755.1 1553.9 h-2.7 M755.1 1545.4 h-2.7 M755.1 1538 h-2.7 M755.1 1531.4 h-2.7 M755.1 1742.6 h-2.7 M755.1 1720.1 h-2.7 M755.1 1704.1 h-2.7 M755.1 1691.7 h-2.7 M755.1 1681.6 h-2.7 M755.1 1673.1 h-2.7 M755.1 1665.7 h-2.7 M755.1 1659.1 h-2.7" stroke="#000" stroke-width="1.25" fill="none"/>
<text x="690.8" y="1291" font-size="35.5">10<tspan font-size="24.5" dy="-10.8" dx="0.5">0</tspan></text>
<text x="685.9" y="1539.5" font-size="35.5">10<tspan font-size="24.5" dy="-10.8" dx="0.5">-2</tspan></text>
<g><text transform="translate(798.6,1233) scale(0.77,1)" font-size="50.8" stroke="#000" stroke-width="0.7">Z</text><text x="824.4" y="1243" font-size="41" font-style="italic" stroke="#000" stroke-width="0.5">ν</text></g>
<path d="M1438.1 1170.9 V1767.4 M1787 1170.9 V1767.4 M1411.7 1358.7 H1985 M1411.7 1578.5 H1985" stroke="#b0b0b0" stroke-width="1.35" fill="none"/>
<clipPath id="clipC3"><rect x="1411.7" y="1170.9" width="573.3" height="596.5"/></clipPath>
<g clip-path="url(#clipC3)" fill="none" stroke-linejoin="round" stroke-linecap="butt">
<path d="M1438.2 1708.4 L1490.6 1639.5 L1543.3 1572.3 L1604.6 1515.5 L1648 1456.9 L1681.7 1417.3 L1709.3 1386.3 L1732.7 1363.9 L1753.1 1345 L1771 1326 L1786.8 1310.5 L1801.3 1295 L1828.1 1267.5 L1858.1 1241.6 L1879.8 1224.4 L1899.1 1210.6 L1917.7 1202 L1931.5 1198.6 L1945.3 1197.9 L1958 1202" stroke="#ff7f0e" stroke-width="10.0"/>
<rect x="1432.5" y="1702.6" width="11.5" height="11.5" fill="#ff7f0e"/>
<rect x="1703.8" y="1380.3" width="11.5" height="11.5" fill="#ff7f0e"/>
<rect x="1795.7" y="1289.1" width="11.5" height="11.5" fill="#ff7f0e"/>
<rect x="1852.5" y="1235.8" width="11.5" height="11.5" fill="#ff7f0e"/>
<rect x="1893.7" y="1204.7" width="11.5" height="11.5" fill="#ff7f0e"/>
<rect x="1926" y="1192.8" width="11.5" height="11.5" fill="#ff7f0e"/>
<rect x="1952.3" y="1196.3" width="11.5" height="11.5" fill="#ff7f0e"/>
<path d="M1438.2 1741.1 L1490.6 1636 L1543.3 1537.9 L1604.6 1436.2 L1648 1345 L1681.7 1349.4 L1709.3 1336.3 L1732.7 1327.7 L1753.1 1315.7 L1771 1307.1 L1786.8 1300.2 L1801.3 1293.3 L1828.1 1288.8 L1845.4 1290.9 L1858.1 1291.6 L1879.8 1303.6 L1899.1 1315.7 L1917.7 1334.6 L1931.5 1348.4 L1945.3 1357 L1958 1360.5" stroke="#e377c2" stroke-width="10.5"/>
<path d="M1429.9 1741.1 L1438.2 1732.8 L1446.5 1741.1 L1438.2 1749.4Z" fill="#e377c2"/>
<path d="M1701.3 1336.2 L1709.6 1327.9 L1717.9 1336.2 L1709.6 1344.5Z" fill="#e377c2"/>
<path d="M1793.1 1293.3 L1801.4 1285 L1809.7 1293.3 L1801.4 1301.6Z" fill="#e377c2"/>
<path d="M1849.9 1291.6 L1858.2 1283.3 L1866.5 1291.6 L1858.2 1299.9Z" fill="#e377c2"/>
<path d="M1891.1 1316 L1899.4 1307.7 L1907.7 1316 L1899.4 1324.3Z" fill="#e377c2"/>
<path d="M1923.5 1348.6 L1931.8 1340.3 L1940.1 1348.6 L1931.8 1356.9Z" fill="#e377c2"/>
<path d="M1949.7 1360.5 L1958 1352.2 L1966.3 1360.5 L1958 1368.8Z" fill="#e377c2"/>
<path d="M1438.2 1715.3 L1490.6 1636 L1543.3 1566.5 L1604.6 1506.9 L1648 1439.7 L1681.7 1412.1 L1709.3 1388.7 L1732.7 1369.1 L1753.1 1349.4 L1771 1331.2 L1786.8 1317.4 L1801.3 1304.7 L1828.1 1281.9 L1858.1 1260.6 L1879.8 1249.2 L1899.1 1240.6 L1917.7 1239.2 L1931.5 1237.1 L1940.1 1240.6 L1948.7 1237.8 L1953.9 1222.7 L1960.1 1211.7" stroke="#d62728" stroke-width="4.0"/>
<ellipse cx="1438.2" cy="1715.3" rx="4.6" ry="4.6" fill="#d62728"/>
<ellipse cx="1709.6" cy="1388.5" rx="4.6" ry="4.6" fill="#d62728"/>
<ellipse cx="1801.4" cy="1304.5" rx="4.6" ry="4.6" fill="#d62728"/>
<ellipse cx="1858.2" cy="1260.5" rx="4.6" ry="4.6" fill="#d62728"/>
<ellipse cx="1899.4" cy="1240.6" rx="4.6" ry="4.6" fill="#d62728"/>
<ellipse cx="1931.8" cy="1237.3" rx="4.6" ry="4.6" fill="#d62728"/>
<ellipse cx="1958.4" cy="1214.6" rx="4.6" ry="4.6" fill="#d62728"/>
<path d="M1438.2 1717 L1490.6 1636 L1543.3 1567.1 L1604.6 1508.6 L1648 1444.9 L1681.7 1413.9 L1709.3 1394.9 L1732.7 1374.2 L1753.1 1353.6 L1771 1334.6 L1786.8 1320.8 L1801.3 1308.8 L1828.1 1284.7 L1858.1 1265.7 L1879.8 1252 L1899.1 1243.3 L1917.7 1243.3 L1931.5 1245.1 L1940.1 1243.3 L1948.7 1241.6 L1953.9 1226.1 L1959 1215.8" stroke="#1f77b4" stroke-width="5.8"/>
<path d="M1432.5 1722.7 L1444 1722.7 L1438.2 1711.2Z" fill="#1f77b4"/>
<path d="M1703.8 1400.4 L1715.3 1400.4 L1709.6 1388.9Z" fill="#1f77b4"/>
<path d="M1795.7 1314.4 L1807.2 1314.4 L1801.4 1302.9Z" fill="#1f77b4"/>
<path d="M1852.5 1271.4 L1864 1271.4 L1858.2 1259.9Z" fill="#1f77b4"/>
<path d="M1893.7 1249.1 L1905.2 1249.1 L1899.4 1237.6Z" fill="#1f77b4"/>
<path d="M1926 1250.8 L1937.5 1250.8 L1931.8 1239.3Z" fill="#1f77b4"/>
<path d="M1952.7 1222.8 L1964.2 1222.8 L1958.4 1211.3Z" fill="#1f77b4"/>
<path d="M1438.2 1715.3 L1490.6 1636 L1543.3 1567.1 L1604.6 1510.3 L1648 1446.6 L1681.7 1415.6 L1709.3 1389.7 L1732.7 1369.1 L1753.1 1348.4 L1771 1331.2 L1786.8 1317.4 L1801.3 1303.6 L1828.1 1283 L1858.1 1262.3 L1879.8 1252 L1899.1 1245.1 L1917.7 1243.3 L1931.5 1245.1 L1945.3 1248.5 L1958 1258.8" stroke="#000" stroke-width="6.3" stroke-dasharray="31.6 17.4" stroke-dashoffset="12.9"/>
</g>
<rect x="1411.7" y="1170.9" width="573.3" height="596.5" stroke="#000" stroke-width="1.8" fill="none"/>
<path d="M1422.1 1767.4 v2.7 M1438.1 1767.4 v4.5 M1543.1 1767.4 v2.7 M1604.6 1767.4 v2.7 M1648.2 1767.4 v2.7 M1682 1767.4 v2.7 M1709.6 1767.4 v2.7 M1733 1767.4 v2.7 M1753.2 1767.4 v2.7 M1771 1767.4 v2.7 M1787 1767.4 v4.5 M1892 1767.4 v2.7 M1953.5 1767.4 v2.7 M1411.7 1358.7 h-4 M1411.7 1292.5 h-2.7 M1411.7 1253.8 h-2.7 M1411.7 1226.4 h-2.7 M1411.7 1205.1 h-2.7 M1411.7 1187.7 h-2.7 M1411.7 1172.9 h-2.7 M1411.7 1578.5 h-4 M1411.7 1512.3 h-2.7 M1411.7 1473.6 h-2.7 M1411.7 1446.2 h-2.7 M1411.7 1424.9 h-2.7 M1411.7 1407.5 h-2.7 M1411.7 1392.7 h-2.7 M1411.7 1380 h-2.7 M1411.7 1368.8 h-2.7 M1411.7 1732.1 h-2.7 M1411.7 1693.4 h-2.7 M1411.7 1666 h-2.7 M1411.7 1644.7 h-2.7 M1411.7 1627.3 h-2.7 M1411.7 1612.5 h-2.7 M1411.7 1599.8 h-2.7 M1411.7 1588.6 h-2.7" stroke="#000" stroke-width="1.25" fill="none"/>
<text x="1356.2" y="1374.2" font-size="35.5">10<tspan font-size="24.5" dy="-10.8" dx="0.5">0</tspan></text>
<text x="1350.2" y="1589.5" font-size="35.5">10<tspan font-size="24.5" dy="-10.8" dx="0.5">-1</tspan></text>
<g><text x="1450.8" y="1231.1" font-size="50.5" stroke="#000" stroke-width="0.9">|</text><text transform="translate(1466.2,1231.1) scale(0.79,1)" font-size="50.8" stroke="#000" stroke-width="0.7">Π</text><text x="1498.1" y="1242" font-size="41" font-style="italic" stroke="#000" stroke-width="0.5">ν</text><text x="1524.7" y="1231.1" font-size="50.5" stroke="#000" stroke-width="0.9">|</text></g>
<text x="32.3" y="1117.8" font-size="50" textLength="54" lengthAdjust="spacingAndGlyphs"><tspan font-size="55">(</tspan>c<tspan font-size="55">)</tspan></text>
<rect x="653" y="1764" width="756" height="140" fill="#fff"/>
<path d="M734.2 1808.3 H888.8" stroke="#ff7f0e" stroke-width="6.6"/>
<rect x="803.1" y="1800" width="16.5" height="16.5" fill="#ff7f0e"/>
<text x="913.3" y="1820.6" font-size="36.5" text-anchor="start" textLength="104" lengthAdjust="spacingAndGlyphs" >Offline</text>
<path d="M734.2 1850.7 H888.8" stroke="#e377c2" stroke-width="6.6"/>
<path d="M800.1 1850.7 L811.4 1839.4 L822.7 1850.7 L811.4 1862Z" fill="#e377c2"/>
<text x="913.3" y="1863" font-size="36.5" text-anchor="start" textLength="132" lengthAdjust="spacingAndGlyphs" >DSMAG</text>
<path d="M734.2 1890.5 H888.8" stroke="#1f77b4" stroke-width="6.6"/>
<path d="M803.1 1898.8 L819.6 1898.8 L811.4 1882.2Z" fill="#1f77b4"/>
<text x="913.3" y="1902.8" font-size="36.5" text-anchor="start" textLength="306" lengthAdjust="spacingAndGlyphs" >Online, Static-EGA</text>
<path d="M734.2 1929 H888.8" stroke="#d62728" stroke-width="6.6"/>
<ellipse cx="811.4" cy="1929" rx="8.2" ry="8.2" fill="#d62728"/>
<text x="913.3" y="1941.3" font-size="36.5" text-anchor="start" textLength="346.6" lengthAdjust="spacingAndGlyphs" >Online, exact gradient</text>
<path d="M734.2 1968.8 H888.8" stroke="#000" stroke-width="6.6" stroke-dasharray="25.8 19.3"/>
<text x="913.3" y="1981.1" font-size="36.5" text-anchor="start" textLength="207" lengthAdjust="spacingAndGlyphs" >Filtered DNS</text>
</g>
</svg></body></html>
